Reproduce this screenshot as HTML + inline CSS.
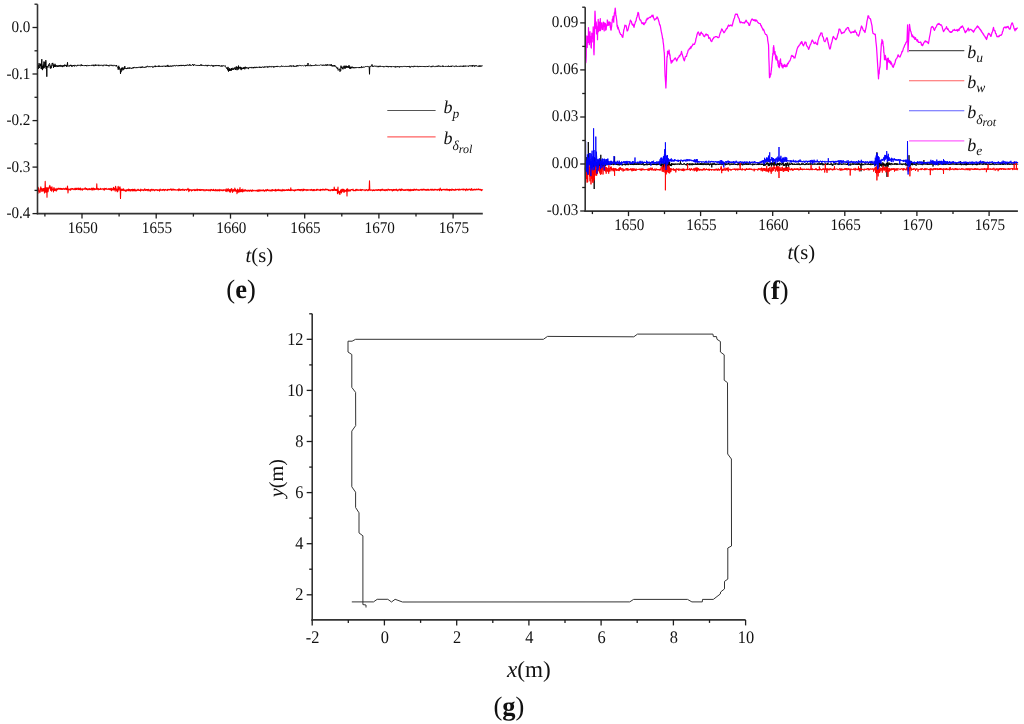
<!DOCTYPE html>
<html><head><meta charset="utf-8"><style>
html,body{margin:0;padding:0;background:#fff;width:1024px;height:724px;overflow:hidden;}
svg{display:block;will-change:transform;filter:blur(0.3px);}
text{font-family:"Liberation Serif", serif;fill:#111;text-rendering:geometricPrecision;}
</style></head><body>
<svg width="1024" height="724" viewBox="0 0 1024 724" font-family='"Liberation Serif", serif' fill="#111">
<polyline points="37.5,67.1 37.8,66.8 38,68.9 38.2,65 38.5,68.6 38.8,68 39,63.2 39.2,66.4 39.5,67.8 39.8,66.7 40,65.6 40.2,63.7 40.5,65.9 40.8,63.9 41,67 41.2,68.9 41.5,65.9 41.8,59.2 42,69.2 42.2,65.9 42.5,70.1 42.8,66.1 43,66.5 43.2,64.5 43.5,68.4 43.8,64.5 44,61.5 44.2,67.3 44.5,68.1 44.8,67.7 45,62 45.2,66.9 45.5,66.1 45.8,60.2 46,61.7 46.2,68.9 46.5,66 46.8,76.7 47,68.2 47.2,66.5 47.5,66.2 47.8,67.3 48,67.5 48.2,66.3 48.5,64.7 48.8,66.1 49,65.3 49.2,64.2 49.5,63.3 49.8,64.3 50,66.3 50.2,68.3 50.5,68.5 50.8,65.7 51,67.9 51.2,68.2 51.5,66.9 51.8,64.5 52,63.5 52.2,64 52.5,64.1 52.8,62.9 53,65.7 53.2,64.6 53.5,67.8 53.8,64.7 54,65.4 54.2,66.7 54.5,65.3 54.8,67 55,63.8 55.2,65.5 55.5,66.6 55.8,65 56,66.5 56.2,66.6 56.5,65.8 56.8,65.8 57,65.3 57.2,66.8 57.5,66 57.8,66.7 58,65.5 58.2,66.2 58.5,66 58.8,66.5 59,65.3 59.2,66.5 59.5,65.5 59.8,65 60,65.7 60.2,65.1 60.5,65.1 60.8,66.8 61,66.2 61.2,66.2 61.5,66.4 61.8,65.1 62,65.6 62.2,65.7 62.5,67.1 62.8,65.9 63,66 63.2,65.2 63.5,65.6 63.8,66.6 64,65.3 64.2,66.1 64.5,66.1 64.8,64.6 65,65.9 65.2,65.7 65.5,66.1 65.8,65.1 66,66 66.2,65.1 66.5,65.2 66.8,67 67,65 67.2,65 67.5,62.3 67.8,66.1 68,66.1 68.2,66.2 68.5,65.9 68.8,66.3 69,65.8 69.2,65.5 69.5,66.3 69.8,65.3 70,65.2 70.2,65.2 70.5,65.9 70.8,64.8 71,65.9 71.2,66.1 71.5,65.3 71.8,66.6 72,65.7 72.2,66.4 72.5,65.7 72.8,65.6 73,65.3 73.2,66.1 73.5,65 73.8,65.9 74,65.1 74.2,65.8 74.5,66.4 74.8,65.8 75,64.9 75.2,65.1 75.5,65.6 75.8,65.8 76,65.6 76.2,65.9 76.5,66.3 76.8,66 77,65.2 77.2,65.7 77.5,65.6 77.8,64.8 78,65.4 78.2,65 78.5,65.3 78.8,65.2 79,65.7 79.2,65.3 79.5,65.2 79.8,65.2 80,65.7 80.2,65.6 80.5,65.9 80.8,65.9 81,65.1 81.2,64.3 81.5,65.6 81.8,65.6 82,65.8 82.2,65 82.5,66 82.8,65.2 83,65.3 83.2,65.5 83.5,65.6 83.8,65.6 84,65.6 84.2,65.7 84.5,65.1 84.8,65.6 85,65.5 85.2,65.8 85.5,65.2 85.8,66 86,65 86.2,65.5 86.5,65.6 86.8,66.2 87,66.2 87.2,65.3 87.5,65.3 87.8,65.1 88,65.5 88.2,65.6 88.5,65.5 88.8,65.9 89,66 89.2,65.2 89.5,65.6 89.8,65.6 90,65.7 90.2,65.6 90.5,65.6 90.8,65.9 91,65.5 91.2,65.4 91.5,65.6 91.8,64.9 92,65.5 92.2,65.4 92.5,65.4 92.8,65.7 93,65.3 93.2,64.7 93.5,65.8 93.8,65.3 94,66.2 94.2,65.2 94.5,65.1 94.8,64.8 95,65.7 95.2,65.5 95.5,65.9 95.8,64.5 96,65.5 96.2,65.5 96.5,65.4 96.8,65.3 97,65.3 97.2,65.5 97.5,65.1 97.8,65.2 98,65.3 98.2,64.8 98.5,65.8 98.8,66.1 99,64.8 99.2,65.1 99.5,65.3 99.8,65.5 100,65.1 100.2,65.3 100.5,65.4 100.8,64.9 101,65.6 101.2,65.4 101.5,65.2 101.8,65.3 102,65.2 102.2,65.1 102.5,65.7 102.8,65.8 103,66.2 103.2,65 103.5,65.2 103.8,65.4 104,64.9 104.2,65.2 104.5,65.2 104.8,64.8 105,65.3 105.2,65.3 105.5,65.7 105.8,65.3 106,64.9 106.2,64.7 106.5,65.4 106.8,65.9 107,64.9 107.2,65.5 107.5,65.6 107.8,65.2 108,65.6 108.2,66 108.5,65.7 108.8,65.3 109,66.4 109.2,65.4 109.5,65 109.8,65.1 110,65.3 110.2,64.9 110.5,65.3 110.8,65.5 111,65.1 111.2,64.8 111.5,65.6 111.8,65.7 112,65.8 112.2,65.1 112.5,65.2 112.8,65.9 113,66.2 113.2,65.5 113.5,65.3 113.8,65.3 114,65.8 114.2,65.7 114.5,65.4 114.8,65.4 115,65.5 115.2,66.2 115.5,66 115.8,65.6 116,65.5 116.2,66.1 116.5,65 116.8,65.9 117,66.8 117.2,67 117.5,67 117.8,67.8 118,68.3 118.2,69.7 118.5,66.8 118.8,65.8 119,69.1 119.2,67.2 119.5,68 119.8,68.5 120,69.7 120.2,68.9 120.5,73.8 120.8,70.7 121,72.1 121.2,68.3 121.5,68.1 121.8,70.6 122,68.9 122.2,67.5 122.5,68.7 122.8,67.8 123,70.2 123.2,68.8 123.5,68.7 123.8,69.5 124,67.5 124.2,68.3 124.5,68.8 124.8,66.1 125,68.5 125.2,68.5 125.5,68.4 125.8,68.2 126,68.6 126.2,68 126.5,68.9 126.8,68.8 127,68.1 127.2,68 127.5,68.8 127.8,68.4 128,67.5 128.2,68.4 128.5,68 128.8,68.5 129,68.2 129.2,67.5 129.5,67.6 129.8,68.8 130,68.4 130.2,67.8 130.5,67.8 130.8,68.1 131,68 131.2,68.1 131.5,68.6 131.8,67.9 132,68.4 132.2,68.2 132.5,68.2 132.8,67.7 133,67.3 133.2,68.3 133.5,67.5 133.8,67 134,68.1 134.2,67.4 134.5,67.3 134.8,67.4 135,67.6 135.2,67.7 135.5,67.9 135.8,67.4 136,67.8 136.2,68 136.5,68 136.8,67.3 137,68 137.2,67.3 137.5,67.6 137.8,67.5 138,67.4 138.2,67.3 138.5,67.2 138.8,67.8 139,67.6 139.2,67 139.5,67.2 139.8,67.1 140,67.2 140.2,67.6 140.5,67.8 140.8,66.8 141,67.7 141.2,66.9 141.5,67.7 141.8,67.4 142,67.6 142.2,66.5 142.5,67.2 142.8,67.4 143,67.4 143.2,66.8 143.5,67.3 143.8,67.6 144,67 144.2,67.1 144.5,67.6 144.8,67.1 145,67.1 145.2,67 145.5,66.9 145.8,67.6 146,67.1 146.2,66.5 146.5,66.7 146.8,67.1 147,67 147.2,65.9 147.5,66.1 147.8,66.3 148,66.6 148.2,67 148.5,66.9 148.8,66.8 149,67 149.2,66.5 149.5,67.1 149.8,66.4 150,66.6 150.2,66.8 150.5,66.8 150.8,66.7 151,66.7 151.2,66.5 151.5,67 151.8,66.5 152,66.4 152.2,66.3 152.5,67.3 152.8,67.2 153,66.9 153.2,67.4 153.5,66.8 153.8,66.6 154,66.7 154.2,66.1 154.5,66.3 154.8,66.8 155,67.1 155.2,65.6 155.5,66.9 155.8,66.3 156,66 156.2,66.8 156.5,66.4 156.8,66.5 157,66.7 157.2,66.4 157.5,66.3 157.8,66.4 158,66.1 158.2,66.7 158.5,65.8 158.8,66.6 159,65.7 159.2,66.7 159.5,66.4 159.8,65.9 160,65.9 160.2,66.8 160.5,66.5 160.8,66.4 161,66.3 161.2,66.3 161.5,66.5 161.8,66 162,65.8 162.2,66.6 162.5,66 162.8,66.7 163,66.2 163.2,66.2 163.5,66 163.8,66.2 164,66.2 164.2,66.3 164.5,66.3 164.8,65.8 165,65.7 165.2,65.9 165.5,67 165.8,66.1 166,65.8 166.2,66.2 166.5,66.5 166.8,66 167,66 167.2,65.4 167.5,66.4 167.8,64.9 168,65.9 168.2,66.8 168.5,65.8 168.8,66.4 169,66.4 169.2,66.7 169.5,66.1 169.8,66.5 170,65.7 170.2,66.2 170.5,65.9 170.8,66.3 171,66.6 171.2,65.7 171.5,66.3 171.8,66.2 172,66.4 172.2,66 172.5,65.8 172.8,66.2 173,65.3 173.2,65.5 173.5,66.2 173.8,65.9 174,65.9 174.2,65.5 174.5,65.4 174.8,65.2 175,65.9 175.2,66.3 175.5,66.1 175.8,65.7 176,65.2 176.2,65.1 176.5,65.6 176.8,65.4 177,65.8 177.2,65.9 177.5,65.8 177.8,65.6 178,65.1 178.2,65.2 178.5,65.7 178.8,66.2 179,65.7 179.2,65.1 179.5,66 179.8,65 180,66 180.2,65.5 180.5,65.3 180.8,65.3 181,65.1 181.2,66.1 181.5,65.6 181.8,64.9 182,65.8 182.2,65.1 182.5,65.6 182.8,65.3 183,65.9 183.2,65.2 183.5,65 183.8,65.8 184,65.4 184.2,65.7 184.5,65.9 184.8,65.7 185,65.1 185.2,65.9 185.5,65 185.8,65.2 186,65.7 186.2,65.9 186.5,65.3 186.8,65.6 187,64.8 187.2,65.1 187.5,64.7 187.8,65.2 188,65.5 188.2,65.2 188.5,65.5 188.8,65.3 189,64.7 189.2,64.6 189.5,65.4 189.8,64.4 190,65.2 190.2,65.1 190.5,65.5 190.8,65 191,65.1 191.2,65.4 191.5,65.5 191.8,65.2 192,64.9 192.2,65 192.5,64.3 192.8,65 193,64.4 193.2,65 193.5,65.9 193.8,64.9 194,65.2 194.2,64.9 194.5,64.4 194.8,64.9 195,65.3 195.2,65.4 195.5,65.1 195.8,65.1 196,65.3 196.2,65.3 196.5,65.3 196.8,65.7 197,65.2 197.2,65.2 197.5,65.5 197.8,65.6 198,65.6 198.2,65.1 198.5,65.5 198.8,65.5 199,65.7 199.2,65.1 199.5,65.8 199.8,65.1 200,65.4 200.2,65 200.5,65 200.8,65.3 201,64.3 201.2,65.6 201.5,64.9 201.8,65.4 202,65.2 202.2,64.9 202.5,65.4 202.8,65.2 203,65.7 203.2,65.2 203.5,65.4 203.8,65.7 204,65.4 204.2,65.2 204.5,65.8 204.8,65.6 205,65.2 205.2,65.1 205.5,65.2 205.8,65.9 206,66 206.2,65.6 206.5,65.9 206.8,65.2 207,65.3 207.2,66.1 207.5,66.2 207.8,65.1 208,65.7 208.2,64.9 208.5,65.3 208.8,65.4 209,65.1 209.2,65.3 209.5,65.4 209.8,65.1 210,65.7 210.2,65.9 210.5,65.9 210.8,65.9 211,65.5 211.2,65.2 211.5,65.2 211.8,65.3 212,65.9 212.2,65.4 212.5,66.1 212.8,65.7 213,66.6 213.2,65.5 213.5,65.6 213.8,66.4 214,65.6 214.2,65.8 214.5,65.7 214.8,65.3 215,65.7 215.2,66.1 215.5,65.4 215.8,66 216,65.7 216.2,66.1 216.5,65.4 216.8,65.5 217,65.9 217.2,65.4 217.5,65.8 217.8,65.8 218,65.2 218.2,66 218.5,65.8 218.8,65.9 219,65 219.2,66.1 219.5,66 219.8,65.7 220,65.6 220.2,65.8 220.5,66.3 220.8,66.2 221,66.4 221.2,65.8 221.5,66.3 221.8,65.4 222,66.3 222.2,66.4 222.5,66.3 222.8,66 223,65.4 223.2,65.7 223.5,65.7 223.8,66 224,66.2 224.2,66.3 224.5,65.9 224.8,66 225,66 225.2,65.6 225.5,66.5 225.8,67.2 226,67.4 226.2,67.7 226.5,68.4 226.8,67.6 227,68.3 227.2,69 227.5,68.4 227.8,70.3 228,66.9 228.2,68.3 228.5,71.6 228.8,69.6 229,69.5 229.2,68.6 229.5,70.9 229.8,68.3 230,69.2 230.2,70.4 230.5,69.3 230.8,70.6 231,69.5 231.2,70.7 231.5,68.1 231.8,69.8 232,69.3 232.2,70 232.5,68.4 232.8,67.8 233,68.6 233.2,68.6 233.5,69.7 233.8,68.5 234,68.5 234.2,69.3 234.5,67.7 234.8,67.6 235,68.2 235.2,67.8 235.5,69.9 235.8,68.7 236,66.8 236.2,67.5 236.5,66.6 236.8,69.6 237,70.2 237.2,68.1 237.5,66.9 237.8,67.9 238,69.7 238.2,68.7 238.5,65.6 238.8,69.1 239,67 239.2,67.3 239.5,67.3 239.8,68.3 240,67.5 240.2,66.8 240.5,68.7 240.8,67 241,69.8 241.2,70.1 241.5,67.7 241.8,69.1 242,68.4 242.2,68.3 242.5,69.1 242.8,68.3 243,68.8 243.2,67.4 243.5,69 243.8,68.6 244,67 244.2,67.4 244.5,67.3 244.8,69.3 245,68.8 245.2,66.8 245.5,66.9 245.8,68.2 246,68.2 246.2,68 246.5,67.3 246.8,68.3 247,68.4 247.2,67.8 247.5,68 247.8,67.9 248,67.9 248.2,67.4 248.5,69.1 248.8,68.1 249,67.8 249.2,67.6 249.5,67.3 249.8,67.9 250,67.5 250.2,67.3 250.5,67.4 250.8,67.1 251,68 251.2,68.2 251.5,67.2 251.8,67.4 252,67.4 252.2,67.6 252.5,67.3 252.8,67.9 253,68.3 253.2,67.2 253.5,67.9 253.8,67 254,68.1 254.2,67.2 254.5,67.2 254.8,67.4 255,67.4 255.2,66.9 255.5,68.1 255.8,67.8 256,67.2 256.2,67.3 256.5,67.5 256.8,66.8 257,67.7 257.2,67.4 257.5,67.6 257.8,67.2 258,67.4 258.2,67 258.5,67.2 258.8,67.1 259,67 259.2,67.6 259.5,67.5 259.8,66.6 260,67.7 260.2,67.1 260.5,67.5 260.8,67 261,66.9 261.2,67 261.5,67.7 261.8,67 262,67 262.2,67.2 262.5,66.7 262.8,67.1 263,67.3 263.2,66.8 263.5,67.5 263.8,67.2 264,67.1 264.2,66.8 264.5,66.7 264.8,67.6 265,66.6 265.2,66.9 265.5,66.9 265.8,66.8 266,67 266.2,67 266.5,67.1 266.8,66.4 267,66.5 267.2,66.6 267.5,66.5 267.8,67.7 268,66.8 268.2,66.7 268.5,66.8 268.8,67.1 269,66.4 269.2,66.3 269.5,67.1 269.8,66.5 270,66.6 270.2,66.6 270.5,66.5 270.8,66.4 271,66.6 271.2,67.3 271.5,66.5 271.8,66.5 272,66.7 272.2,66.6 272.5,66.4 272.8,66.1 273,66.5 273.2,67.2 273.5,66.6 273.8,67.4 274,66.7 274.2,67.2 274.5,66.5 274.8,66.9 275,66.7 275.2,66.5 275.5,66.5 275.8,66.9 276,66.9 276.2,66.1 276.5,67 276.8,66.4 277,66.6 277.2,65.9 277.5,66.7 277.8,66.6 278,66.2 278.2,66.7 278.5,66.4 278.8,66.7 279,66.9 279.2,66.8 279.5,66.8 279.8,66.7 280,66.3 280.2,66.4 280.5,66.7 280.8,66.6 281,66.8 281.2,66.4 281.5,65.7 281.8,66.3 282,65.9 282.2,66.3 282.5,66.7 282.8,66.1 283,66.3 283.2,66.3 283.5,66.2 283.8,66.5 284,66.7 284.2,66.5 284.5,66.6 284.8,66.9 285,66.3 285.2,66.1 285.5,66.2 285.8,66.3 286,66.7 286.2,66.1 286.5,66.2 286.8,66.6 287,66.3 287.2,66.5 287.5,66.1 287.8,66.3 288,66.6 288.2,66 288.5,66 288.8,66.4 289,66.2 289.2,66.5 289.5,66 289.8,66 290,65.5 290.2,66.4 290.5,65.8 290.8,65.8 291,65.7 291.2,66.4 291.5,66.7 291.8,65.7 292,65.4 292.2,65.7 292.5,66.1 292.8,66.5 293,66.2 293.2,66.1 293.5,65.5 293.8,66.7 294,66.1 294.2,66 294.5,66.1 294.8,66.8 295,66.3 295.2,66.5 295.5,66.5 295.8,66.4 296,65.7 296.2,65.8 296.5,66.4 296.8,65.8 297,66.3 297.2,65.1 297.5,65.9 297.8,66.2 298,65.7 298.2,65.8 298.5,66 298.8,65.4 299,65.7 299.2,65.7 299.5,65.4 299.8,65.3 300,65.4 300.2,65.5 300.5,65.6 300.8,66 301,65.4 301.2,65.7 301.5,66 301.8,65.9 302,65.9 302.2,65.8 302.5,65.5 302.8,65.6 303,65.7 303.2,65.8 303.5,65.8 303.8,65.7 304,65.5 304.2,65.4 304.5,65.2 304.8,65.5 305,66.1 305.2,66 305.5,66.1 305.8,66.2 306,65 306.2,65.9 306.5,65.1 306.8,65.1 307,65.8 307.2,66.1 307.5,65.2 307.8,65.5 308,63 308.2,65.5 308.5,65.7 308.8,65.3 309,65.5 309.2,66.1 309.5,65.7 309.8,65.5 310,65.2 310.2,64.7 310.5,64.9 310.8,65.7 311,66.2 311.2,65.5 311.5,66 311.8,65.1 312,65.5 312.2,65 312.5,65.4 312.8,65.7 313,65.6 313.2,65.4 313.5,65.6 313.8,65.1 314,65.6 314.2,65.2 314.5,65.3 314.8,65.9 315,65.7 315.2,65.5 315.5,64.6 315.8,65.1 316,65.3 316.2,65.5 316.5,64.9 316.8,64.9 317,65.4 317.2,65.7 317.5,65.2 317.8,65 318,65.3 318.2,65.2 318.5,65.3 318.8,65.6 319,65.4 319.2,65.4 319.5,65.3 319.8,65.5 320,65.3 320.2,65.1 320.5,64.8 320.8,64.6 321,64.9 321.2,65 321.5,65.1 321.8,64.9 322,65.3 322.2,65.1 322.5,65.6 322.8,64.9 323,65.2 323.2,64.7 323.5,65.4 323.8,65.4 324,65.2 324.2,65.6 324.5,65.4 324.8,64.9 325,65.3 325.2,64.6 325.5,64.7 325.8,65.5 326,64.9 326.2,65.1 326.5,65.6 326.8,65.1 327,64.3 327.2,65.6 327.5,64.6 327.8,64.6 328,64.9 328.2,64.9 328.5,65.3 328.8,64.9 329,64.6 329.2,65.4 329.5,65.1 329.8,64.8 330,65.3 330.2,64.9 330.5,65.3 330.8,64.8 331,65.8 331.2,64.2 331.5,65.5 331.8,65.3 332,66.3 332.2,65.6 332.5,65.6 332.8,66.2 333,65.5 333.2,66.4 333.5,65.7 333.8,65.4 334,65.8 334.2,65.2 334.5,66.3 334.8,65.2 335,66.3 335.2,66.6 335.5,66.4 335.8,66.6 336,66.4 336.2,67.5 336.5,67.5 336.8,68.1 337,67.6 337.2,68.7 337.5,68.9 337.8,67.7 338,69.3 338.2,70.4 338.5,70 338.8,69.4 339,69.3 339.2,69.5 339.5,69.5 339.8,68.7 340,71.7 340.2,69.6 340.5,69.9 340.8,70.5 341,65.7 341.2,67.8 341.5,66.9 341.8,68 342,67.1 342.2,68.5 342.5,68.9 342.8,68 343,69.3 343.2,66.5 343.5,67.4 343.8,67.2 344,67.6 344.2,65.7 344.5,67.9 344.8,67.5 345,68.9 345.2,66.3 345.5,67.4 345.8,67.6 346,65.6 346.2,67.7 346.5,66.1 346.8,67.4 347,67.4 347.2,66.5 347.5,67.5 347.8,66.2 348,66.9 348.2,66.4 348.5,67.9 348.8,67.2 349,65.2 349.2,67.8 349.5,68.3 349.8,66.5 350,68.7 350.2,66.9 350.5,68.5 350.8,67.6 351,68.2 351.2,67.6 351.5,67.9 351.8,66.7 352,68.2 352.2,67.8 352.5,66.8 352.8,67.3 353,67.5 353.2,68.3 353.5,68 353.8,67 354,67.3 354.2,68 354.5,67.9 354.8,67.9 355,68.2 355.2,67.2 355.5,68 355.8,67.7 356,67.9 356.2,68 356.5,67.4 356.8,67.7 357,67.4 357.2,67.6 357.5,68 357.8,67.5 358,67.5 358.2,67.8 358.5,67.7 358.8,67.6 359,68 359.2,67.2 359.5,68 359.8,67.1 360,68.1 360.2,67.9 360.5,67.4 360.8,67.5 361,67.8 361.2,67.9 361.5,66.4 361.8,67 362,67.5 362.2,67.7 362.5,66.9 362.8,67.4 363,66.9 363.2,66.9 363.5,66.9 363.8,67.3 364,67.4 364.2,67 364.5,67 364.8,67.1 365,66.8 365.2,66.5 365.5,66.6 365.8,66.5 366,66.2 366.2,66.5 366.5,66.9 366.8,66.4 367,66.6 367.2,66.4 367.5,66.6 367.8,66.1 368,66 368.2,66.3 368.5,66.7 368.8,66.8 369,66.7 369.2,67 369.5,74.3 369.8,66.3 370,66.3 370.2,66.4 370.5,66.5 370.8,66 371,66.2 371.2,65.9 371.5,65.9 371.8,66 372,64.4 372.2,66.4 372.5,65.9 372.8,66.1 373,67 373.2,66.3 373.5,66.3 373.8,65.9 374,66.2 374.2,66 374.5,65.9 374.8,66.1 375,65.9 375.2,66.5 375.5,66.2 375.8,66.2 376,66.1 376.2,65.8 376.5,66.5 376.8,66.7 377,66.6 377.2,66.7 377.5,66.4 377.8,66 378,65.9 378.2,67.2 378.5,66.2 378.8,66.1 379,66.5 379.2,66.9 379.5,66.7 379.8,66 380,65.7 380.2,66.9 380.5,66.6 380.8,66.2 381,66.6 381.2,66.5 381.5,66.5 381.8,66.1 382,66.3 382.2,66.4 382.5,66.4 382.8,66.8 383,66.2 383.2,66.7 383.5,66.7 383.8,67.2 384,66.3 384.2,66.6 384.5,66.6 384.8,66.5 385,66.4 385.2,66.6 385.5,66.3 385.8,66.1 386,66.7 386.2,66.5 386.5,66.2 386.8,66.9 387,65.9 387.2,66.1 387.5,66.8 387.8,67.1 388,66.4 388.2,67.1 388.5,66.9 388.8,66.9 389,66.1 389.2,66.6 389.5,66.4 389.8,66.9 390,66.7 390.2,66.8 390.5,66.2 390.8,66.8 391,66.8 391.2,66.1 391.5,67 391.8,67 392,67.2 392.2,66.8 392.5,66.4 392.8,66.5 393,66.5 393.2,66.5 393.5,66.6 393.8,66.7 394,66.2 394.2,67 394.5,67 394.8,66.8 395,66.6 395.2,66.4 395.5,67.4 395.8,66.4 396,66.5 396.2,66.9 396.5,66.9 396.8,66.7 397,67.1 397.2,66.5 397.5,66 397.8,66.9 398,66.9 398.2,66.7 398.5,66.8 398.8,66.5 399,67.1 399.2,66.5 399.5,67.4 399.8,67 400,66.6 400.2,66.2 400.5,66.5 400.8,66.9 401,66.8 401.2,66.5 401.5,66.9 401.8,66.9 402,66.2 402.2,66.7 402.5,67 402.8,66.8 403,67 403.2,66.6 403.5,66.4 403.8,66.3 404,66.7 404.2,66.2 404.5,66.2 404.8,66.6 405,66.8 405.2,66.4 405.5,66.4 405.8,66.4 406,67 406.2,66.6 406.5,66.7 406.8,66.9 407,66.2 407.2,66.5 407.5,66.5 407.8,67 408,66.3 408.2,66.8 408.5,66.3 408.8,66.7 409,66.2 409.2,66.1 409.5,67.3 409.8,66.5 410,66.8 410.2,66.7 410.5,67.4 410.8,66.7 411,66.7 411.2,66.7 411.5,66.1 411.8,66.3 412,66.2 412.2,66.9 412.5,66.6 412.8,66.4 413,66 413.2,67.1 413.5,66.8 413.8,66.6 414,66.3 414.2,65.8 414.5,66.5 414.8,66 415,66.5 415.2,66.7 415.5,66.1 415.8,66.1 416,66.6 416.2,66.4 416.5,66.3 416.8,66.6 417,66.9 417.2,66.6 417.5,65.9 417.8,66.6 418,67.1 418.2,66.5 418.5,66.6 418.8,66.5 419,66.4 419.2,66.8 419.5,66.2 419.8,66.3 420,66.9 420.2,66.1 420.5,66.4 420.8,66.9 421,66.6 421.2,66.9 421.5,66.4 421.8,66.5 422,66.5 422.2,66.8 422.5,66.4 422.8,66.4 423,66.9 423.2,66.5 423.5,66.2 423.8,66.7 424,66 424.2,66.6 424.5,66.6 424.8,66.6 425,66.9 425.2,66.2 425.5,66.6 425.8,66.7 426,66.6 426.2,66.2 426.5,66.4 426.8,66.5 427,66.4 427.2,66.9 427.5,66.1 427.8,66.9 428,66.3 428.2,66.6 428.5,66.6 428.8,66.3 429,66.3 429.2,65.8 429.5,66.2 429.8,66.1 430,66.3 430.2,66.5 430.5,66.7 430.8,67.1 431,66.4 431.2,66.5 431.5,66.4 431.8,67.1 432,66.4 432.2,65.8 432.5,66.1 432.8,66.5 433,66.8 433.2,66 433.5,65.9 433.8,66.2 434,66.2 434.2,66.6 434.5,66.8 434.8,66.4 435,66.7 435.2,66.7 435.5,66.6 435.8,66.1 436,66.3 436.2,65.9 436.5,66.3 436.8,66.9 437,66.7 437.2,65.9 437.5,66.3 437.8,66.8 438,66.6 438.2,65.5 438.5,66 438.8,66.1 439,66.5 439.2,66.5 439.5,65.8 439.8,66.2 440,66.2 440.2,65.9 440.5,66.6 440.8,66.4 441,66.3 441.2,66.5 441.5,66.2 441.8,66 442,66.5 442.2,66.5 442.5,65.7 442.8,66.2 443,66.8 443.2,65.8 443.5,66.6 443.8,66.2 444,66.3 444.2,66.5 444.5,66.5 444.8,66.6 445,66.3 445.2,66.4 445.5,66.2 445.8,66.8 446,66.5 446.2,66 446.5,66.3 446.8,66.5 447,66.3 447.2,66.4 447.5,66.3 447.8,66.8 448,66.2 448.2,66.6 448.5,65.7 448.8,66.3 449,66.3 449.2,66.1 449.5,66.8 449.8,66.3 450,66.2 450.2,66.9 450.5,66.1 450.8,66.1 451,66.2 451.2,66.2 451.5,67 451.8,65.8 452,66.1 452.2,66.1 452.5,65.9 452.8,66.1 453,66.3 453.2,66.2 453.5,66.2 453.8,66 454,66.4 454.2,66.5 454.5,66.7 454.8,66.1 455,66.2 455.2,66.1 455.5,66.1 455.8,65.8 456,66.7 456.2,66.2 456.5,66 456.8,65.9 457,66.5 457.2,66.5 457.5,66.4 457.8,66.1 458,66.5 458.2,66.1 458.5,66.1 458.8,66.4 459,66.6 459.2,66.3 459.5,66.8 459.8,66.3 460,65.8 460.2,66.2 460.5,66.2 460.8,66.4 461,66.7 461.2,66 461.5,65.9 461.8,66.3 462,65.9 462.2,66 462.5,66.6 462.8,66.2 463,65.8 463.2,65.7 463.5,66.7 463.8,65.8 464,66.3 464.2,65.8 464.5,66.1 464.8,66.3 465,66.2 465.2,66.6 465.5,65.7 465.8,66.2 466,66.3 466.2,65.9 466.5,65.9 466.8,66.3 467,66.2 467.2,66.1 467.5,65.9 467.8,66.2 468,66.2 468.2,66.1 468.5,66.6 468.8,66 469,66.1 469.2,65.5 469.5,65.9 469.8,65.8 470,65.6 470.2,66.3 470.5,66.1 470.8,65.7 471,65.9 471.2,65.5 471.5,66 471.8,66.1 472,66.5 472.2,65.5 472.5,66.4 472.8,65.1 473,66 473.2,66 473.5,65.9 473.8,65.5 474,65.7 474.2,66.4 474.5,66.6 474.8,65.4 475,65.7 475.2,66.2 475.5,65.8 475.8,66.2 476,65.3 476.2,65.9 476.5,65.7 476.8,66.1 477,66 477.2,66.2 477.5,65.9 477.8,66.4 478,66.2 478.2,66.1 478.5,66.2 478.8,65.9 479,66.8 479.2,65.5 479.5,66.4 479.8,65.9 480,65.6 480.2,65.9 480.5,65.8 480.8,66.8 481,66.3 481.2,65.7 481.5,66.1 481.8,66.1 482,66 482.2,65.7 482.5,66 482.8,65.9" fill="none" stroke="#000" stroke-width="0.95" stroke-linejoin="round" opacity="1"/>
<polyline points="37.5,189.6 37.8,189.3 38,193.3 38.2,187.2 38.5,191 38.8,188.5 39,190.6 39.2,191.5 39.5,190.9 39.8,192.6 40,190.5 40.2,191.9 40.5,188.3 40.8,186.9 41,187.6 41.2,189.7 41.5,188.5 41.8,191.5 42,190 42.2,188.7 42.5,189.7 42.8,188.8 43,191.3 43.2,188.6 43.5,189.4 43.8,188.5 44,190.6 44.2,188.4 44.5,193 44.8,192.1 45,189.1 45.2,181.4 45.5,189.7 45.8,189 46,192.1 46.2,187.9 46.5,189.4 46.8,187.7 47,197.3 47.2,188.2 47.5,187.8 47.8,191.8 48,191.8 48.2,190.9 48.5,188.1 48.8,188.3 49,187 49.2,188.2 49.5,186.8 49.8,185.4 50,186.8 50.2,187.4 50.5,190.2 50.8,187.1 51,190.5 51.2,189.8 51.5,191.2 51.8,189.8 52,186.7 52.2,189.3 52.5,189.4 52.8,189.9 53,189 53.2,189.9 53.5,192 53.8,188.3 54,187.5 54.2,189.6 54.5,190.5 54.8,190.1 55,188.8 55.2,190.4 55.5,189 55.8,189.6 56,189.3 56.2,191.1 56.5,190.1 56.8,189.4 57,188.2 57.2,189.6 57.5,189.4 57.8,189.7 58,189.5 58.2,189 58.5,188.2 58.8,188.5 59,188.2 59.2,188.9 59.5,189.1 59.8,188.5 60,189.5 60.2,188.9 60.5,188.9 60.8,188.2 61,188.5 61.2,189.4 61.5,188.6 61.8,189.1 62,188.8 62.2,189.5 62.5,188.8 62.8,189.2 63,189.1 63.2,188.3 63.5,188.8 63.8,189.1 64,189.1 64.2,189.4 64.5,189.3 64.8,188.5 65,188.8 65.2,188.7 65.5,189.1 65.8,188 66,189.5 66.2,189 66.5,188.5 66.8,189.6 67,189.5 67.2,188.6 67.5,186 67.8,189.7 68,193 68.2,190.6 68.5,189 68.8,189.3 69,189.4 69.2,189.5 69.5,189.4 69.8,189.4 70,190.1 70.2,188.7 70.5,190.1 70.8,189.8 71,188.7 71.2,189.4 71.5,189.2 71.8,188.6 72,188.4 72.2,188.5 72.5,189.2 72.8,188.5 73,188.9 73.2,189.3 73.5,189.1 73.8,189.4 74,189.8 74.2,189.1 74.5,189.4 74.8,188.4 75,189.3 75.2,188.4 75.5,189.7 75.8,189.5 76,188.2 76.2,189.1 76.5,189.5 76.8,188.7 77,188.1 77.2,188.8 77.5,189 77.8,188.9 78,189.6 78.2,188.4 78.5,188.1 78.8,189.4 79,189.2 79.2,189.6 79.5,188.9 79.8,188.2 80,189.6 80.2,189.7 80.5,188.1 80.8,189.9 81,189.2 81.2,189.2 81.5,189.3 81.8,188.9 82,188.8 82.2,190.2 82.5,190.1 82.8,188.7 83,189 83.2,189.5 83.5,189.1 83.8,188.8 84,188.8 84.2,189.1 84.5,189.2 84.8,188.4 85,188.6 85.2,187.7 85.5,188.5 85.8,189.2 86,189.6 86.2,188.8 86.5,188.5 86.8,189.3 87,188.7 87.2,189.5 87.5,189.6 87.8,189.9 88,188.9 88.2,188.8 88.5,189 88.8,189.1 89,189.7 89.2,188.8 89.5,189.4 89.8,188.6 90,189.3 90.2,189.6 90.5,189.2 90.8,189.1 91,189.4 91.2,188.6 91.5,189.2 91.8,188.1 92,190.1 92.2,189.3 92.5,189.8 92.8,188.8 93,188.1 93.2,189 93.5,188.2 93.8,189.8 94,189.9 94.2,189.7 94.5,188.7 94.8,188.5 95,189 95.2,189.4 95.5,189.1 95.8,188.9 96,189.4 96.2,188.8 96.5,189.2 96.8,183.9 97,189.2 97.2,189.3 97.5,189.2 97.8,188.8 98,188.4 98.2,189.9 98.5,188.8 98.8,189 99,189 99.2,189.4 99.5,189.1 99.8,189.1 100,189.5 100.2,189.3 100.5,188.3 100.8,189 101,189.2 101.2,189.4 101.5,189.1 101.8,188.9 102,188.7 102.2,188.8 102.5,188.7 102.8,188.7 103,189.6 103.2,188.9 103.5,189.6 103.8,188.8 104,189.7 104.2,189.2 104.5,190.1 104.8,188.2 105,189.2 105.2,188.9 105.5,188.6 105.8,188.8 106,189.1 106.2,188.3 106.5,189 106.8,189 107,189.4 107.2,189.2 107.5,189.3 107.8,189 108,188.8 108.2,188.8 108.5,189 108.8,189.3 109,188.5 109.2,189.4 109.5,188.7 109.8,189.6 110,189 110.2,189.6 110.5,189.1 110.8,188.4 111,190.2 111.2,188.8 111.5,190.8 111.8,188.2 112,189 112.2,189.6 112.5,189.8 112.8,189.5 113,190 113.2,188.4 113.5,187.4 113.8,187.6 114,189.9 114.2,189.8 114.5,188.5 114.8,188.9 115,189.2 115.2,191.1 115.5,186.2 115.8,187.1 116,188.6 116.2,189.1 116.5,190.5 116.8,189.1 117,189.2 117.2,191.6 117.5,189.2 117.8,191.6 118,186.8 118.2,186.4 118.5,189.3 118.8,189.3 119,190.1 119.2,187.7 119.5,188.3 119.8,188 120,186.7 120.2,188.5 120.5,198.4 120.8,189.2 121,189 121.2,189 121.5,189.6 121.8,190.4 122,190.5 122.2,189.8 122.5,189.4 122.8,189.5 123,189.1 123.2,190.7 123.5,188.8 123.8,189.5 124,190.1 124.2,189.7 124.5,190.7 124.8,190.5 125,190.4 125.2,190.6 125.5,191.2 125.8,190.4 126,189.7 126.2,191.1 126.5,190.6 126.8,189.8 127,190.2 127.2,189.6 127.5,189.7 127.8,190.6 128,190.1 128.2,190.7 128.5,189.1 128.8,190.4 129,189.3 129.2,191 129.5,189.6 129.8,189.6 130,190 130.2,190.3 130.5,189.8 130.8,191.1 131,189.5 131.2,189.5 131.5,189.8 131.8,189.5 132,189.6 132.2,190.7 132.5,189.2 132.8,190.9 133,189.4 133.2,190.8 133.5,189.5 133.8,190.4 134,189.7 134.2,190.9 134.5,189.9 134.8,189.1 135,189.6 135.2,190.6 135.5,190.5 135.8,190 136,191.2 136.2,190.4 136.5,190.1 136.8,190.4 137,190.5 137.2,189.8 137.5,190.2 137.8,189.3 138,190.2 138.2,189.3 138.5,189.7 138.8,190.4 139,190.1 139.2,190.1 139.5,190.5 139.8,190.1 140,190.1 140.2,190.4 140.5,191.1 140.8,189.1 141,190 141.2,189.6 141.5,189.7 141.8,190.4 142,190.3 142.2,189.9 142.5,190.2 142.8,189.9 143,189.5 143.2,190.4 143.5,190.2 143.8,190.7 144,190.1 144.2,189.9 144.5,189.3 144.8,188.8 145,189.7 145.2,190.3 145.5,190.5 145.8,189.7 146,189.7 146.2,189.5 146.5,190.3 146.8,189.5 147,190.2 147.2,190 147.5,189.5 147.8,190.3 148,190.9 148.2,189.3 148.5,189.5 148.8,189.6 149,190.3 149.2,190 149.5,190.1 149.8,190.5 150,190.3 150.2,191.5 150.5,190.1 150.8,189.5 151,190 151.2,190 151.5,189.2 151.8,189.9 152,190.6 152.2,189.4 152.5,189.6 152.8,189.9 153,189.8 153.2,189.9 153.5,190.2 153.8,189.4 154,189.8 154.2,189.9 154.5,190.8 154.8,189.9 155,189.8 155.2,190.2 155.5,190 155.8,189.6 156,189.7 156.2,190 156.5,189.9 156.8,189.7 157,190.2 157.2,189.7 157.5,190.6 157.8,190 158,190.2 158.2,189.9 158.5,190 158.8,190.4 159,190.2 159.2,189.8 159.5,191.2 159.8,190 160,189.2 160.2,189.1 160.5,190 160.8,190.2 161,190.1 161.2,190.3 161.5,190.3 161.8,189.8 162,189.5 162.2,190.3 162.5,190.1 162.8,190.3 163,189.6 163.2,189.3 163.5,189.4 163.8,189.6 164,189.9 164.2,190.7 164.5,189.9 164.8,189.5 165,190.1 165.2,190 165.5,189.4 165.8,189.6 166,190 166.2,190.1 166.5,190 166.8,189.9 167,190 167.2,190.6 167.5,189.3 167.8,190.2 168,190 168.2,189.8 168.5,189.4 168.8,189.8 169,189.7 169.2,189.6 169.5,189.7 169.8,190 170,189.9 170.2,189.2 170.5,189 170.8,189.2 171,189.4 171.2,189.8 171.5,189.5 171.8,190.5 172,188.9 172.2,189.7 172.5,189.8 172.8,190 173,189.8 173.2,189.5 173.5,189.2 173.8,190 174,190 174.2,189.4 174.5,189.5 174.8,189.9 175,189.5 175.2,189.6 175.5,189.8 175.8,190.1 176,190.2 176.2,190.2 176.5,189.9 176.8,189.8 177,189.7 177.2,189.9 177.5,189.6 177.8,189.7 178,190.2 178.2,190.3 178.5,189 178.8,190.8 179,189.2 179.2,189 179.5,189.2 179.8,190.2 180,189.4 180.2,190.3 180.5,190 180.8,190.5 181,189.6 181.2,189.6 181.5,189.5 181.8,189.5 182,190.1 182.2,190.2 182.5,189.4 182.8,189.2 183,189.9 183.2,189.2 183.5,190.2 183.8,189.9 184,190 184.2,190.1 184.5,190.5 184.8,189.5 185,189.3 185.2,189.7 185.5,189.8 185.8,189.8 186,189.8 186.2,189.4 186.5,190.3 186.8,190.3 187,190.1 187.2,189.5 187.5,189.5 187.8,189.5 188,188.2 188.2,189.5 188.5,189.5 188.8,191.7 189,190.5 189.2,189.3 189.5,190.6 189.8,189.7 190,189.9 190.2,189.9 190.5,189.7 190.8,190.2 191,189.9 191.2,189.8 191.5,191 191.8,190.1 192,189.7 192.2,190 192.5,190.3 192.8,189.8 193,190.3 193.2,190 193.5,189.8 193.8,189.8 194,190 194.2,189.4 194.5,190.6 194.8,190.3 195,190 195.2,189.7 195.5,190.6 195.8,190.2 196,189.7 196.2,190.1 196.5,190.2 196.8,189.9 197,189 197.2,190.7 197.5,189.7 197.8,189.4 198,190.3 198.2,189.7 198.5,189.9 198.8,189.5 199,189.8 199.2,189.6 199.5,190.4 199.8,190.4 200,189.3 200.2,190 200.5,190.5 200.8,189.7 201,189.9 201.2,189.7 201.5,190.3 201.8,190.1 202,189.7 202.2,189.5 202.5,189.9 202.8,189.8 203,189.7 203.2,190.6 203.5,190.2 203.8,189.7 204,189.5 204.2,189.9 204.5,190.1 204.8,190.5 205,191 205.2,190 205.5,189.8 205.8,190.3 206,190.3 206.2,189.9 206.5,190.3 206.8,189.5 207,189.8 207.2,189.7 207.5,190.4 207.8,190 208,190.2 208.2,189.7 208.5,190.2 208.8,190.8 209,189.9 209.2,190.2 209.5,190.3 209.8,190.3 210,189.8 210.2,191 210.5,190.7 210.8,190.2 211,189.4 211.2,189.9 211.5,189.7 211.8,190.1 212,189.7 212.2,189.7 212.5,190.6 212.8,190 213,189.8 213.2,190.4 213.5,189.2 213.8,190.5 214,190.3 214.2,190.7 214.5,190.5 214.8,190.3 215,189.7 215.2,190.2 215.5,189.4 215.8,191 216,190.1 216.2,190.1 216.5,189.9 216.8,189.8 217,191 217.2,190.2 217.5,189.8 217.8,189.8 218,190.6 218.2,190 218.5,190.2 218.8,189.8 219,190.8 219.2,189.4 219.5,190.3 219.8,191 220,190.1 220.2,190 220.5,189.8 220.8,190.2 221,189.9 221.2,190 221.5,190.6 221.8,189.7 222,190.2 222.2,190.1 222.5,190.8 222.8,190.3 223,189.9 223.2,189.7 223.5,190.7 223.8,190.6 224,190.4 224.2,189.8 224.5,190 224.8,190 225,189.9 225.2,190.2 225.5,191.2 225.8,189.9 226,190.2 226.2,188.9 226.5,191.1 226.8,190.8 227,191.6 227.2,191 227.5,189.3 227.8,190 228,190.4 228.2,188.5 228.5,190.6 228.8,190.8 229,190.3 229.2,191.8 229.5,189.5 229.8,191.9 230,190.9 230.2,189.6 230.5,192.1 230.8,189.5 231,191.2 231.2,189 231.5,188.7 231.8,190.2 232,189 232.2,189.7 232.5,192.5 232.8,190.4 233,190.5 233.2,191.5 233.5,189.6 233.8,190.1 234,190.7 234.2,189.8 234.5,191 234.8,188.1 235,190.1 235.2,189.8 235.5,189.4 235.8,191.5 236,190.6 236.2,190.2 236.5,191 236.8,190.8 237,193.7 237.2,191.2 237.5,189.1 237.8,190.7 238,190.7 238.2,192.5 238.5,190.1 238.8,190.9 239,189.8 239.2,191.4 239.5,191.8 239.8,189.1 240,187.6 240.2,191.7 240.5,190.9 240.8,191.3 241,191.5 241.2,189.7 241.5,189.6 241.8,189.7 242,191.2 242.2,191.9 242.5,190.1 242.8,189.1 243,191.8 243.2,190.3 243.5,191.2 243.8,190.9 244,190.1 244.2,189.9 244.5,190.5 244.8,191.2 245,190 245.2,190.9 245.5,189.7 245.8,190.1 246,190.1 246.2,190.8 246.5,191 246.8,190.9 247,190.5 247.2,190.2 247.5,191.2 247.8,191 248,190.8 248.2,190.8 248.5,190.5 248.8,190.2 249,191.1 249.2,190.3 249.5,190.6 249.8,191.2 250,190.3 250.2,190.1 250.5,190.3 250.8,190.1 251,190.9 251.2,190.3 251.5,190.8 251.8,191.4 252,191.2 252.2,190.4 252.5,189.9 252.8,190.8 253,190.9 253.2,190.6 253.5,190.7 253.8,190.5 254,190.2 254.2,190.6 254.5,190.8 254.8,190.8 255,190.8 255.2,190.7 255.5,190.9 255.8,190.4 256,190.3 256.2,190.6 256.5,190.7 256.8,190.2 257,190.3 257.2,191.4 257.5,190.6 257.8,190.5 258,189.9 258.2,191.1 258.5,190.5 258.8,189.9 259,191.3 259.2,190.7 259.5,190.4 259.8,189.7 260,190.4 260.2,191 260.5,190.6 260.8,190.1 261,190.4 261.2,190.6 261.5,190.1 261.8,190.8 262,190.3 262.2,190.7 262.5,190.1 262.8,190.7 263,190.3 263.2,190.3 263.5,189.8 263.8,190.8 264,190.2 264.2,191.2 264.5,190.4 264.8,191.3 265,190.6 265.2,190.4 265.5,190.1 265.8,189.7 266,190.5 266.2,190.3 266.5,191 266.8,190.5 267,189.6 267.2,190 267.5,189.4 267.8,190.4 268,190.5 268.2,190.2 268.5,190.7 268.8,190.4 269,190.1 269.2,190 269.5,190.1 269.8,190.3 270,191.2 270.2,190.6 270.5,190.6 270.8,190.2 271,190.8 271.2,190.3 271.5,190.6 271.8,189.7 272,191.2 272.2,189.8 272.5,190.1 272.8,189.7 273,190.4 273.2,190.2 273.5,190.5 273.8,190.5 274,189.9 274.2,190.7 274.5,190.4 274.8,190.3 275,189.8 275.2,191 275.5,189.4 275.8,190.6 276,190.9 276.2,189.9 276.5,190.4 276.8,190.6 277,190 277.2,190.2 277.5,190.5 277.8,189.6 278,190.4 278.2,189.4 278.5,189.9 278.8,190.3 279,190.6 279.2,189.7 279.5,189.9 279.8,190.6 280,190.1 280.2,190.5 280.5,190.2 280.8,190.9 281,189.9 281.2,190 281.5,190.1 281.8,190.1 282,191.2 282.2,190.4 282.5,190.4 282.8,189.4 283,190.7 283.2,189.9 283.5,190.3 283.8,189.8 284,190.2 284.2,190.7 284.5,189.8 284.8,190.5 285,190.6 285.2,190.5 285.5,190.1 285.8,190.1 286,190.4 286.2,189.8 286.5,190.2 286.8,189.7 287,190 287.2,190.5 287.5,189.7 287.8,190.4 288,190.5 288.2,190.1 288.5,189.3 288.8,190.3 289,189.8 289.2,190.4 289.5,190.4 289.8,189.9 290,190.1 290.2,190.4 290.5,190.5 290.8,187.7 291,190.6 291.2,190.4 291.5,189.9 291.8,189.8 292,190.1 292.2,189.9 292.5,190.3 292.8,190.2 293,190.1 293.2,190.6 293.5,190.1 293.8,190.4 294,190.2 294.2,190.5 294.5,190.9 294.8,190.9 295,189.7 295.2,189.8 295.5,190.3 295.8,190.5 296,189.8 296.2,190.2 296.5,190.2 296.8,189.9 297,189.9 297.2,189.6 297.5,189.5 297.8,190.2 298,189.6 298.2,189.4 298.5,190.1 298.8,189.5 299,189.5 299.2,190 299.5,190.3 299.8,189.5 300,189.7 300.2,190.3 300.5,189.9 300.8,190.8 301,190 301.2,189.4 301.5,190.1 301.8,189.6 302,190 302.2,189.8 302.5,189.9 302.8,190.9 303,189.7 303.2,189 303.5,189.9 303.8,190.3 304,189.6 304.2,189.6 304.5,189.9 304.8,189.4 305,189.7 305.2,190 305.5,189.8 305.8,189.8 306,189.8 306.2,190.7 306.5,189.8 306.8,189.7 307,189.5 307.2,190 307.5,190.4 307.8,189.9 308,189.9 308.2,190.1 308.5,190.1 308.8,189.7 309,189.8 309.2,190 309.5,189.9 309.8,190.1 310,189.8 310.2,190.3 310.5,189.8 310.8,190.3 311,189.6 311.2,189.9 311.5,189.4 311.8,190.2 312,189.8 312.2,189.9 312.5,190.2 312.8,190.6 313,189.6 313.2,189.9 313.5,190.4 313.8,189.5 314,190.8 314.2,190.3 314.5,189.6 314.8,190 315,190.2 315.2,190.3 315.5,190 315.8,190 316,190 316.2,190.4 316.5,189.9 316.8,189.3 317,190.1 317.2,189.6 317.5,189.8 317.8,189.2 318,189.9 318.2,189.9 318.5,189.9 318.8,190.1 319,189.9 319.2,190.4 319.5,190.2 319.8,189.9 320,190 320.2,189.3 320.5,190.6 320.8,189.7 321,189.5 321.2,190 321.5,189.6 321.8,190 322,189.7 322.2,189.5 322.5,190.1 322.8,189.1 323,189.7 323.2,189.2 323.5,189.9 323.8,189.5 324,189.3 324.2,190.3 324.5,189.8 324.8,190 325,189.8 325.2,190 325.5,189 325.8,189.2 326,189.7 326.2,189.9 326.5,189.3 326.8,189.5 327,189.3 327.2,189.2 327.5,189.9 327.8,189.8 328,189.6 328.2,189.9 328.5,190.6 328.8,189.7 329,190 329.2,190.2 329.5,190 329.8,190.1 330,191 330.2,190.4 330.5,190.5 330.8,189.7 331,190 331.2,190.1 331.5,190.2 331.8,189.6 332,189.8 332.2,189.5 332.5,190.7 332.8,189.5 333,189.9 333.2,190.4 333.5,189.9 333.8,190.4 334,189.8 334.2,187 334.5,188.6 334.8,189.9 335,190.5 335.2,189.5 335.5,189.7 335.8,190.5 336,189.3 336.2,190.5 336.5,190.3 336.8,190.1 337,189.9 337.2,189.2 337.5,193.8 337.8,189.8 338,187 338.2,192.4 338.5,190.9 338.8,191.6 339,192.3 339.2,194 339.5,191.6 339.8,191.7 340,194.5 340.2,192.1 340.5,190.1 340.8,192.2 341,190.3 341.2,189.7 341.5,193 341.8,189.3 342,190.6 342.2,191.6 342.5,191 342.8,189 343,191.1 343.2,191.2 343.5,191.1 343.8,189.4 344,192.5 344.2,189.6 344.5,190.6 344.8,191.6 345,190.8 345.2,190.5 345.5,190.6 345.8,190.8 346,191.3 346.2,190.1 346.5,189.2 346.8,189.5 347,196 347.2,190 347.5,188.7 347.8,191 348,189.2 348.2,191.1 348.5,190.3 348.8,190.4 349,190.9 349.2,189.8 349.5,191 349.8,190.3 350,190.7 350.2,191 350.5,191 350.8,189.6 351,189.7 351.2,189.6 351.5,189.6 351.8,189.7 352,189.6 352.2,189.9 352.5,189.7 352.8,190.1 353,189 353.2,190.2 353.5,190.8 353.8,190.4 354,190.2 354.2,190.8 354.5,190.6 354.8,190.5 355,190.5 355.2,190.6 355.5,190.2 355.8,189.4 356,190.6 356.2,190 356.5,189.7 356.8,189.3 357,189.2 357.2,190.3 357.5,189.8 357.8,190.2 358,190.1 358.2,190.5 358.5,189.9 358.8,189.8 359,190 359.2,189.9 359.5,190.2 359.8,189.9 360,190 360.2,190.4 360.5,190 360.8,189.3 361,189.9 361.2,190.6 361.5,190.3 361.8,189.6 362,189.9 362.2,189.8 362.5,189.6 362.8,189.6 363,190.1 363.2,190 363.5,190.1 363.8,189.9 364,189.9 364.2,190 364.5,189.9 364.8,190.1 365,190.8 365.2,190.3 365.5,190.5 365.8,189.7 366,189.7 366.2,190 366.5,189.7 366.8,190.1 367,190 367.2,190.1 367.5,190.1 367.8,190.8 368,189.9 368.2,190.5 368.5,189.6 368.8,190.1 369,190 369.2,189 369.5,180.9 369.8,190.3 370,189.8 370.2,190.4 370.5,189.9 370.8,190 371,190 371.2,190.1 371.5,190.2 371.8,189.9 372,189.9 372.2,190.1 372.5,190.8 372.8,190.4 373,190.1 373.2,190.4 373.5,189.8 373.8,189.9 374,190.5 374.2,190.5 374.5,190.2 374.8,190.6 375,189.8 375.2,189.9 375.5,189.9 375.8,190.1 376,189.9 376.2,189.8 376.5,190.3 376.8,189.7 377,190.3 377.2,189.8 377.5,190.5 377.8,190.1 378,190.2 378.2,189.6 378.5,189.7 378.8,189.5 379,190.1 379.2,190.4 379.5,190 379.8,190.1 380,189.6 380.2,189.9 380.5,190.8 380.8,189.7 381,190.4 381.2,189.4 381.5,190.1 381.8,190.1 382,190 382.2,189.4 382.5,189.7 382.8,189.2 383,190.4 383.2,189.7 383.5,190.2 383.8,189.9 384,189.9 384.2,190 384.5,190.6 384.8,189.7 385,189.6 385.2,189.7 385.5,189.9 385.8,190.7 386,189.9 386.2,190.3 386.5,189.5 386.8,189.9 387,189.9 387.2,190.7 387.5,189.8 387.8,189.9 388,189.1 388.2,189.3 388.5,189.2 388.8,190 389,190.2 389.2,190.2 389.5,189.6 389.8,190.2 390,190.1 390.2,189.5 390.5,189.9 390.8,189.9 391,190 391.2,189.7 391.5,189.9 391.8,189.5 392,190.6 392.2,189.8 392.5,190.9 392.8,190.3 393,190.1 393.2,189.5 393.5,189.4 393.8,190.5 394,190.6 394.2,189.6 394.5,190.1 394.8,189.7 395,189.9 395.2,190 395.5,189.7 395.8,190.1 396,190.3 396.2,189.1 396.5,189.7 396.8,190.1 397,189.8 397.2,190.1 397.5,190.4 397.8,190.8 398,190.6 398.2,189.7 398.5,190.1 398.8,189.7 399,189.6 399.2,189.1 399.5,189.8 399.8,189.5 400,189.9 400.2,190.6 400.5,189.5 400.8,190.5 401,190.4 401.2,188.9 401.5,189.8 401.8,190.1 402,189.9 402.2,189.2 402.5,189.8 402.8,189.9 403,189.4 403.2,190.2 403.5,189.9 403.8,190.5 404,190.3 404.2,189.8 404.5,189.8 404.8,189.8 405,190.5 405.2,190.4 405.5,189.6 405.8,190 406,190.1 406.2,190.3 406.5,190.1 406.8,189.4 407,189.8 407.2,189.4 407.5,189.9 407.8,190.4 408,189.8 408.2,189.9 408.5,189.8 408.8,189.4 409,190.9 409.2,190 409.5,189.8 409.8,190.1 410,190.7 410.2,189.3 410.5,190 410.8,190.7 411,190.3 411.2,189.9 411.5,189.6 411.8,190.1 412,190.4 412.2,190.3 412.5,189.6 412.8,189.6 413,190 413.2,190.4 413.5,189.6 413.8,190.5 414,189.1 414.2,189.5 414.5,189.4 414.8,189.7 415,189.5 415.2,190.3 415.5,189.9 415.8,190 416,189.4 416.2,189.5 416.5,189.3 416.8,189.2 417,190.2 417.2,189.7 417.5,189.7 417.8,189.8 418,190 418.2,190.2 418.5,189.7 418.8,190 419,190.4 419.2,189.8 419.5,189.9 419.8,190.2 420,189.8 420.2,189.7 420.5,189.6 420.8,189.8 421,189.2 421.2,189.3 421.5,190.2 421.8,190.1 422,189.8 422.2,189.3 422.5,190.1 422.8,190.3 423,190.1 423.2,189.6 423.5,189.2 423.8,189.8 424,189.8 424.2,189.7 424.5,189.3 424.8,190.1 425,189.7 425.2,189.7 425.5,190.3 425.8,189.5 426,189.4 426.2,190 426.5,189.9 426.8,190.3 427,189.5 427.2,189.7 427.5,189.3 427.8,190.2 428,189.9 428.2,189.4 428.5,189.4 428.8,190.1 429,190.3 429.2,190 429.5,190 429.8,189.7 430,189.8 430.2,189.6 430.5,190 430.8,189.4 431,189.2 431.2,190.1 431.5,190.1 431.8,189.7 432,189.5 432.2,189.3 432.5,189.5 432.8,190.3 433,189.4 433.2,190.2 433.5,190 433.8,190.2 434,189.6 434.2,189.8 434.5,189.3 434.8,189.5 435,190.2 435.2,189.4 435.5,189.6 435.8,189.5 436,189.3 436.2,189.7 436.5,190 436.8,189.8 437,189.9 437.2,189.4 437.5,189.8 437.8,190.3 438,189.8 438.2,189.6 438.5,189.4 438.8,189.4 439,189.2 439.2,189.5 439.5,190.7 439.8,189.5 440,190 440.2,188.1 440.5,189.7 440.8,189.7 441,189.5 441.2,190 441.5,190.6 441.8,189.9 442,189.3 442.2,190 442.5,189.7 442.8,189.6 443,189.5 443.2,189.4 443.5,189.8 443.8,189.8 444,189.3 444.2,189.6 444.5,189.4 444.8,189.5 445,190.1 445.2,189.5 445.5,189.7 445.8,189.3 446,190.2 446.2,189.7 446.5,189.3 446.8,189.1 447,189.9 447.2,189.3 447.5,189.9 447.8,189.4 448,190.5 448.2,189.6 448.5,189.5 448.8,189.8 449,189.5 449.2,190.1 449.5,190.7 449.8,189.2 450,190.2 450.2,190.1 450.5,189.5 450.8,189.9 451,190.2 451.2,190.2 451.5,190.4 451.8,189.1 452,189.5 452.2,190.1 452.5,189.2 452.8,189.7 453,189.5 453.2,189.6 453.5,190.1 453.8,189.6 454,189.9 454.2,189.7 454.5,190.1 454.8,190.1 455,190.4 455.2,190 455.5,189.1 455.8,189.3 456,190 456.2,190 456.5,189.6 456.8,189.6 457,189.7 457.2,189.2 457.5,189.6 457.8,189.5 458,189.6 458.2,189.3 458.5,190.2 458.8,189.5 459,190 459.2,189 459.5,189.8 459.8,190 460,189.4 460.2,189.4 460.5,189.9 460.8,189.7 461,189.7 461.2,189.8 461.5,189.2 461.8,189.5 462,189.2 462.2,189.5 462.5,189.5 462.8,189.8 463,189 463.2,189.4 463.5,190 463.8,189 464,189.5 464.2,189.7 464.5,189.3 464.8,189.7 465,189.6 465.2,189.5 465.5,190.2 465.8,190.7 466,189.1 466.2,189.7 466.5,188.9 466.8,189.3 467,189.7 467.2,189.8 467.5,190.1 467.8,189.2 468,189.6 468.2,189.3 468.5,189.5 468.8,189.8 469,189.6 469.2,189.1 469.5,189.3 469.8,189.5 470,189.3 470.2,189.3 470.5,190.3 470.8,189.6 471,190.2 471.2,188.9 471.5,188.6 471.8,188.8 472,189.8 472.2,190.3 472.5,190.2 472.8,189.8 473,190 473.2,189.4 473.5,189.7 473.8,189.6 474,190.1 474.2,189.1 474.5,189.4 474.8,189.7 475,189.6 475.2,189.4 475.5,190 475.8,189.6 476,189.4 476.2,189.8 476.5,189.1 476.8,189.8 477,189.8 477.2,189.7 477.5,189.8 477.8,189.1 478,189.4 478.2,189.3 478.5,189.4 478.8,188.9 479,189.9 479.2,189.7 479.5,189.8 479.8,189.6 480,189.3 480.2,189.5 480.5,190.1 480.8,189.4 481,189.5 481.2,189.5 481.5,190.7 481.8,189.7 482,189.6 482.2,189.7 482.5,189.9 482.8,189.5" fill="none" stroke="#ff0000" stroke-width="1.1" stroke-linejoin="round" opacity="1"/>
<line x1="37.5" y1="4.3" x2="37.5" y2="214.3" stroke="#333" stroke-width="1.6"/>
<line x1="36.8" y1="213.6" x2="482.8" y2="213.6" stroke="#333" stroke-width="1.6"/>
<line x1="32.5" y1="27.5" x2="37.5" y2="27.5" stroke="#1e1e1e" stroke-width="1.3"/>
<text transform="translate(30.4,32.2) scale(0.93,1)" font-size="16.3" text-anchor="end" font-style="normal" font-weight="normal">0.0</text>
<line x1="32.5" y1="74" x2="37.5" y2="74" stroke="#1e1e1e" stroke-width="1.3"/>
<text transform="translate(30.4,78.7) scale(0.93,1)" font-size="16.3" text-anchor="end" font-style="normal" font-weight="normal">-0.1</text>
<line x1="32.5" y1="120.6" x2="37.5" y2="120.6" stroke="#1e1e1e" stroke-width="1.3"/>
<text transform="translate(30.4,125.3) scale(0.93,1)" font-size="16.3" text-anchor="end" font-style="normal" font-weight="normal">-0.2</text>
<line x1="32.5" y1="167.1" x2="37.5" y2="167.1" stroke="#1e1e1e" stroke-width="1.3"/>
<text transform="translate(30.4,171.8) scale(0.93,1)" font-size="16.3" text-anchor="end" font-style="normal" font-weight="normal">-0.3</text>
<line x1="32.5" y1="213.6" x2="37.5" y2="213.6" stroke="#1e1e1e" stroke-width="1.3"/>
<text transform="translate(30.4,218.3) scale(0.93,1)" font-size="16.3" text-anchor="end" font-style="normal" font-weight="normal">-0.4</text>
<line x1="34.5" y1="4.2" x2="37.5" y2="4.2" stroke="#1e1e1e" stroke-width="1.3"/>
<line x1="34.5" y1="50.8" x2="37.5" y2="50.8" stroke="#1e1e1e" stroke-width="1.3"/>
<line x1="34.5" y1="97.3" x2="37.5" y2="97.3" stroke="#1e1e1e" stroke-width="1.3"/>
<line x1="34.5" y1="143.8" x2="37.5" y2="143.8" stroke="#1e1e1e" stroke-width="1.3"/>
<line x1="34.5" y1="190.4" x2="37.5" y2="190.4" stroke="#1e1e1e" stroke-width="1.3"/>
<line x1="82" y1="213.6" x2="82" y2="218.6" stroke="#1e1e1e" stroke-width="1.3"/>
<text transform="translate(82.8,232.8) scale(0.93,1)" font-size="16.3" text-anchor="middle" font-style="normal" font-weight="normal">1650</text>
<line x1="156.2" y1="213.6" x2="156.2" y2="218.6" stroke="#1e1e1e" stroke-width="1.3"/>
<text transform="translate(157,232.8) scale(0.93,1)" font-size="16.3" text-anchor="middle" font-style="normal" font-weight="normal">1655</text>
<line x1="230.5" y1="213.6" x2="230.5" y2="218.6" stroke="#1e1e1e" stroke-width="1.3"/>
<text transform="translate(231.3,232.8) scale(0.93,1)" font-size="16.3" text-anchor="middle" font-style="normal" font-weight="normal">1660</text>
<line x1="304.7" y1="213.6" x2="304.7" y2="218.6" stroke="#1e1e1e" stroke-width="1.3"/>
<text transform="translate(305.5,232.8) scale(0.93,1)" font-size="16.3" text-anchor="middle" font-style="normal" font-weight="normal">1665</text>
<line x1="378.9" y1="213.6" x2="378.9" y2="218.6" stroke="#1e1e1e" stroke-width="1.3"/>
<text transform="translate(379.7,232.8) scale(0.93,1)" font-size="16.3" text-anchor="middle" font-style="normal" font-weight="normal">1670</text>
<line x1="453.1" y1="213.6" x2="453.1" y2="218.6" stroke="#1e1e1e" stroke-width="1.3"/>
<text transform="translate(453.9,232.8) scale(0.93,1)" font-size="16.3" text-anchor="middle" font-style="normal" font-weight="normal">1675</text>
<line x1="44.9" y1="213.6" x2="44.9" y2="216.6" stroke="#1e1e1e" stroke-width="1.3"/>
<line x1="119.1" y1="213.6" x2="119.1" y2="216.6" stroke="#1e1e1e" stroke-width="1.3"/>
<line x1="193.4" y1="213.6" x2="193.4" y2="216.6" stroke="#1e1e1e" stroke-width="1.3"/>
<line x1="267.6" y1="213.6" x2="267.6" y2="216.6" stroke="#1e1e1e" stroke-width="1.3"/>
<line x1="341.8" y1="213.6" x2="341.8" y2="216.6" stroke="#1e1e1e" stroke-width="1.3"/>
<line x1="416" y1="213.6" x2="416" y2="216.6" stroke="#1e1e1e" stroke-width="1.3"/>
<line x1="387.3" y1="110.5" x2="435.6" y2="110.5" stroke="#555" stroke-width="1.1"/>
<line x1="387.3" y1="136.9" x2="435.6" y2="136.9" stroke="#ff6060" stroke-width="1.1"/>
<text x="443.4" y="113" font-size="18" font-style="italic">b<tspan font-size="13.5" dy="4.6">p</tspan></text>
<text x="443.4" y="144.2" font-size="18" font-style="italic">b<tspan font-size="13.5" dy="6">δ</tspan><tspan font-size="12" dy="2.4">rol</tspan></text>
<text x="245.6" y="262.3" font-size="20.6"><tspan font-style="italic">t</tspan>(s)</text>
<text x="226.3" y="298.4" font-size="26.5" >(<tspan font-weight="bold">e</tspan>)</text>
<polyline points="585.5,56.9 585.7,60 585.8,62.7 586,60.8 586.2,56 586.3,47.1 586.5,45.8 586.7,42.2 586.8,36 587,40 587.2,47.5 587.3,43.7 587.5,40.6 587.7,36.3 587.8,41 588,37.9 588.2,40.7 588.3,42.5 588.5,27.6 588.7,39.2 588.8,32.2 589,35.1 589.2,33 589.3,44.7 589.5,41.9 589.7,41.2 589.8,35 590,31.6 590.2,37.1 590.3,40 590.5,38.6 590.7,42.2 590.8,36.6 591,47.2 591.2,41.4 591.3,48.1 591.5,39.3 591.7,36.6 591.8,33.1 592,41 592.2,41.9 592.3,37.2 592.5,38.1 592.7,34.7 592.8,33.9 593,34.5 593.2,26.8 593.3,30.6 593.5,35.2 593.7,41.2 593.8,51.2 594,54.8 594.2,47.5 594.4,39.5 594.6,23.2 594.7,25.2 594.9,13.2 595,11.1 595.2,14.8 595.4,21.6 595.6,27.8 595.8,28.6 596.1,21.8 596.3,23.1 596.5,33.9 596.8,30.7 597,27.3 597.2,27.4 597.3,27 597.5,39.7 597.7,29.7 597.8,27.8 598,25.4 598.2,19.3 598.3,27.6 598.5,31.6 598.7,29.7 598.8,27.1 599,23.9 599.2,22.1 599.3,26.1 599.5,24.5 599.7,22.2 599.8,30.6 600,22.7 600.2,23.9 600.3,18.6 600.5,30.6 600.7,25.1 600.8,25.2 601,26.1 601.2,22.9 601.3,23.4 601.5,25.8 601.7,23.2 601.8,26.6 602,29.3 602.2,27.8 602.3,29.1 602.5,27.8 602.7,29.5 602.8,25.7 603,26 603.2,22.2 603.3,24.4 603.5,23 603.7,24.7 603.8,22.5 604,25.8 604.2,30.9 604.3,23.1 604.5,26 604.7,26.1 604.8,23.2 605,24.2 605.2,23.7 605.3,25.7 605.5,23.5 605.7,30.2 605.8,26.7 606,27.3 606.2,29.4 606.3,28 606.5,25.2 606.7,25.6 606.8,24.5 607,24.5 607.2,25.7 607.3,20 607.5,20.4 607.7,22.8 607.8,24 608,22.1 608.2,22.8 608.3,25.3 608.5,24.7 608.7,23.6 608.8,23.5 609,21.8 609.2,25 609.3,24.1 609.5,22 609.7,24.5 609.8,23.2 610,23.4 610.2,22.3 610.3,27.5 610.5,25.9 610.7,28.9 610.8,30 611,30.1 611.2,29.7 611.3,28.3 611.5,27.2 611.7,25.9 611.8,22.8 612,22.9 612.2,21.5 612.3,19.1 612.5,20.8 612.7,19.5 612.8,20.6 613,16.5 613.2,19.9 613.3,16.1 613.5,18.3 613.7,22.1 613.9,17.7 614.1,17.2 614.3,14.1 614.4,12.7 614.6,13.1 614.8,12.3 615,10.2 615.2,8.1 615.4,9.5 615.6,11.7 615.8,15.6 616,15.4 616.2,16.5 616.4,18.2 616.6,19.7 616.8,21.4 617,25.1 617.2,26.8 617.3,26.5 617.5,25.3 617.7,28.2 617.8,27.4 618,29 618.2,27.8 618.3,27.3 618.5,29 618.7,29.3 618.8,29.2 619,30 619.2,30.7 619.3,30.8 619.5,32.3 619.7,32.4 619.8,32.4 620,32.9 620.6,34.4 621.1,34.5 621.7,35.2 622.2,36.7 622.8,37.3 623.3,33.6 623.8,29.8 624.4,28.2 624.9,25.2 625.4,25.8 626,25.5 626.5,27.5 627.1,30.9 627.6,30.9 628.2,29 628.7,26.7 629.3,24.6 629.8,22.9 630.4,20.1 630.9,21.2 631.4,21.3 631.9,23.9 632.5,25 633,24.1 633.5,25.9 634,27.4 634.5,24.8 635,23.4 635.5,21.5 636,21.1 636.5,18.1 637,17 637.5,14.9 638,12.4 638.5,12.9 639,16.3 639.5,18.6 640,20 640.5,19.9 641,20.9 641.5,22.4 642.1,23.7 642.6,23 643.1,22.6 643.6,24.5 644.1,24.7 644.6,22.8 645.1,23.1 645.7,22.3 646.2,19.8 646.7,20.1 647.2,18.2 647.7,19.2 648.2,18.5 648.8,17.8 649.3,17.6 649.8,17.2 650.4,17.6 650.9,16.7 651.4,16.3 652,15.2 652.5,16.5 653,15.1 653.5,17.8 654,18.4 654.5,20.2 655,19.6 655.5,19.1 656,18.4 656.5,18.7 657,16.9 657.5,17.5 658,18.6 658.5,20.3 659.1,22.2 659.6,24.9 660.1,24.8 660.7,28.1 661.2,31.2 661.8,33.8 662.3,36.5 662.5,38.3 662.7,39.1 662.9,38.8 663.1,42 663.4,43.6 663.6,45.4 663.8,48 664.1,51.4 664.3,52.6 664.5,57.2 664.7,65.7 664.9,71 665.1,76.2 665.2,76.8 665.4,79.9 665.6,82.6 665.7,84.8 665.9,88 666.1,82.6 666.3,79.5 666.5,71.6 666.6,67.1 666.8,61.7 667,56.9 667.2,56.3 667.4,56.9 667.5,51.1 667.7,53.3 667.9,52.5 668,54 668.2,51.8 668.4,53.7 668.6,53.6 668.8,51.1 668.9,51.7 669.1,50 669.3,52.4 669.5,53.1 669.6,54.8 669.8,55.5 670,54.9 670.2,58.1 670.3,57.9 670.5,59.8 670.7,60.1 670.9,61.4 671,60.6 671.2,63.2 671.4,61.4 671.5,61.7 671.7,61.9 671.9,60.7 672.1,61.8 672.2,61.7 672.4,62 672.6,61.5 672.7,61.1 672.9,60.6 673.1,60.3 673.2,60.2 673.8,60 674.3,59.2 674.8,58.4 675.3,57.9 676,59.3 676.7,61 677.2,59.7 677.8,58.2 678.3,57.6 678.8,57.3 679.4,55.5 679.9,56 680.4,54.6 681,54.1 681.5,51.3 682.1,54.3 682.6,55.6 683.2,57.6 683.7,59.3 684.3,60.9 684.8,59.2 685.4,56.6 686,56.3 686.5,56.4 687,53.9 687.6,52.7 688.2,50.2 688.7,50 689.4,48.5 690,48.8 690.5,46.9 691,48.1 691.5,46.6 692,45.8 692.5,45.6 693,44 693.5,44.3 694,44.4 694.5,44.3 695,42.7 695.5,41.7 696,38.4 696.5,37.2 697,34.7 697.6,32.9 698.3,32 698.9,33.2 699.4,35.1 700,35.3 700.6,33.1 701.3,32.1 701.8,33.6 702.4,33.6 702.9,34.4 703.5,35.6 704,36.4 704.5,36.7 705.1,35.6 705.6,34.3 706.2,34 706.8,35.2 707.3,34.7 707.8,34.9 708.3,35.8 708.8,38.3 709.3,37.8 709.8,37.7 710.3,39 710.8,40.8 711.3,41 711.8,41.6 712.3,39.9 712.9,38.7 713.4,38.7 713.9,37.1 714.5,37.3 715,37 715.5,36.6 716,36.5 716.6,36.5 717.1,36.9 717.6,37.5 718.2,37.3 718.7,37.7 719.2,36.7 719.7,34.6 720.2,33 720.7,32.1 721.2,30.6 721.7,28.9 722.3,29.4 722.8,30.9 723.4,31.7 723.9,32.8 724.5,32.3 725,31.2 725.5,30.2 726,29.8 726.5,28.5 727.1,28.6 727.6,27 728.1,25.8 728.6,25 729.2,26.1 729.7,25.5 730.3,25.6 730.9,25 731.4,25.5 732,26 732.5,24.5 733,22.4 733.5,20.5 734,18.9 734.5,18 735,15.4 735.6,14.1 736.1,14.4 736.7,14.2 737.3,14.2 737.9,16.6 738.5,17.9 739.1,18.6 739.7,21.3 740.2,22.8 740.8,22.1 741.3,22 741.9,22.6 742.4,22.6 743,22.9 743.5,22.9 744,22.3 744.5,23.2 745,21.9 745.5,21.8 746,20.2 746.5,20.8 747,22.1 747.5,22.6 748.1,22.8 748.6,23.9 749.1,25.5 749.6,25.3 750.2,23.3 750.8,21.4 751.4,19.9 752,19 752.5,19.2 753.1,20.1 753.6,20.3 754.1,19.6 754.7,20.6 755.2,21.2 755.8,19.7 756.3,20.9 756.8,20.4 757.3,21.6 757.8,22.4 758.3,22.7 758.9,23.3 759.4,23.5 759.9,23.6 760.4,23.9 760.9,25.9 761.4,25.7 761.9,27.8 762.5,28.1 763,30.2 763.5,29.3 764,30.4 764.5,32.2 765.1,33.5 765.6,34.4 766.2,34.5 766.7,35 767.3,36.7 767.5,37.5 767.7,40.1 767.9,41.3 768.1,42.5 768.3,43.8 768.5,44.6 768.7,50.2 768.8,56.7 769,61.4 769.2,66.4 769.3,72.8 769.5,77.7 769.7,77.2 769.8,75.4 770,77.2 770.2,76.1 770.3,74 770.5,73.6 770.7,74.7 770.8,74.7 771,72.8 771.2,70.3 771.3,71 771.5,67.6 771.7,67.2 771.8,64.7 772,62.8 772.2,60.4 772.3,60.4 772.5,56.3 772.7,55.4 772.8,53.4 773,55.1 773.2,51 773.3,47.7 773.5,46.9 773.7,45.7 773.8,48.2 774,47.7 774.2,51.2 774.3,52.2 774.5,53.9 774.7,51.7 774.8,52.1 775,51.6 775.2,55 775.3,54 775.5,57.1 775.7,58.8 775.8,54.8 776,57.2 776.2,59.9 776.3,55.7 776.5,56.2 776.7,59.6 776.8,59.2 777,56.5 777.2,60.2 777.3,59.4 777.5,60.3 777.7,61.1 777.8,63.3 778,62.3 778.2,60.9 778.3,65.8 778.5,66.2 778.7,66.9 778.8,66.4 779,67.2 779.2,67.1 779.3,67.7 779.5,64.9 779.7,63.1 779.8,61.9 780,60.5 780.2,60.1 780.3,60.9 780.5,58.8 780.7,61.7 780.8,63.5 781,63.2 781.2,65.2 781.3,65.8 781.5,64 781.7,63.5 781.8,65.7 782,64.8 782.2,67.1 782.3,65.9 782.5,66.7 782.7,65.7 782.8,65.3 783,68 783.2,66.1 783.3,66.2 783.5,66.3 783.7,65.7 783.8,65.9 784,65 784.2,66.2 784.3,66.4 784.5,65.1 784.7,64.3 784.8,65.4 785,66.4 785.2,66.6 785.3,66.4 785.5,65.5 785.7,66.5 785.8,66.1 786,66.9 786.2,66.3 786.4,65.1 786.5,65.5 786.7,65.4 786.9,65.9 787.1,66.3 787.3,63.9 787.4,63.8 787.6,63.3 787.8,63.2 788,63.2 788.2,63.9 788.7,62.6 789.3,61 789.8,61 790.3,59.8 790.9,57.9 791.5,55.7 792,55.4 792.5,56.4 793,56.2 793.5,56.3 794,58 794.5,57.8 795,57.9 795.5,55.4 796,53.8 796.5,51.6 797,49.4 797.5,48 798,46.7 798.5,46.7 799,45.4 799.5,45.1 800,44.6 800.5,42.8 801,43.4 801.5,41.7 802,41.9 802.5,44.1 803,45.2 803.5,45.8 804,44.3 804.5,43.7 805,42 805.5,42.6 806,42.3 806.5,45.3 807,46.2 807.6,46.8 808.1,47.7 808.6,49.4 809.2,48.1 809.7,46.3 810.3,44.7 810.9,43.9 811.4,42.1 812,40.4 812.5,40.1 813,41.6 813.5,42 814,43.3 814.5,43.5 815,42.9 815.5,42.2 816,43.1 816.5,44.2 817,44.1 817.5,44.7 818,40.5 818.5,39.2 819,37.4 819.5,36 820,35.5 820.5,34 821,32.8 821.5,33 822,33.2 822.5,36.4 823,36.7 823.5,38.3 824,41 824.5,41.2 825,41.7 825.5,40.7 826,39.5 826.5,38.3 827,37.7 827.5,39 828,42.3 828.5,44 829,46.3 829.5,48.4 830,49.1 830.5,47.9 831,44.7 831.5,43.1 832,41.5 832.5,39.2 833,36.9 833.5,36.5 834,37.8 834.5,38 835,38.6 835.5,39.5 836,39.7 836.5,38.3 837,37.9 837.5,35.5 838,33.8 838.5,32.7 839,29.2 839.5,29.1 840,29.4 840.5,30.8 841,31.6 841.5,33.6 842,32.8 842.5,33.2 843,32.7 843.5,32.4 844,32.6 844.5,31.8 845,30.9 845.5,30.3 846,29 846.5,29.3 847,28.2 847.5,27.5 848,27.7 848.5,27.9 849,30.1 849.5,30.9 850,31.7 850.5,32.4 851,33 851.5,32.4 852,32.1 852.5,31.9 853,32.3 853.5,31.6 854,32.4 854.5,31.6 855,30.2 855.5,32.2 856,32.2 856.5,32.6 857,34.8 857.5,35 858,35.3 858.5,36.2 859,35.1 859.5,33.6 860,31.1 860.5,30 861,28 861.5,26 862,26.9 862.5,28 863,29.5 863.5,30.6 864,30.5 864.5,31.7 865,32.5 865.5,29.8 866,27.8 866.5,24.8 867,21.1 867.5,19.1 868,15.9 868.5,15.8 869,17.5 869.5,18.3 870,18.6 870.5,19 871,21.3 871.5,23.6 872,25.9 872.5,30.9 873,33.4 873.6,33.5 874.1,34.1 874.7,34.5 875.3,34.2 875.9,41.5 876.5,46.7 877,54.5 877.5,62.6 878,70.5 878.5,78.8 878.7,75.3 878.8,74.4 879,74.1 879.2,73.5 879.3,70.5 879.5,69.3 879.7,67.9 879.8,67 880,67.1 880.2,63.4 880.3,62.1 880.5,59.5 880.7,55.5 880.8,52.2 881,50.3 881.2,46.7 881.3,44.6 881.5,43 881.7,42.8 881.8,42.1 882,39.5 882.2,41.2 882.3,42.2 882.5,42.9 882.7,43.7 882.8,41 883,43.4 883.2,45.5 883.3,46 883.5,46.3 883.7,48.5 883.8,52.5 884,52.5 884.2,54.8 884.3,56 884.5,59.7 884.7,57.2 884.8,59 885,57.1 885.2,57.7 885.3,55.3 885.5,56.8 885.7,56.8 885.8,59.9 886,58.7 886.2,59.6 886.3,59.6 886.5,60.1 886.7,60.8 886.8,69.4 887,69.5 887.2,67.8 887.3,64.8 887.5,58.4 887.7,62.4 887.8,60.9 888,59.8 888.2,58.6 888.3,58.1 888.5,60.8 888.7,60.3 888.8,61.1 889,61.8 889.2,60.6 889.3,61.2 889.5,62.3 889.7,60.3 889.8,61.3 890,61.3 890.2,63.1 890.3,62.3 890.5,63.9 890.7,62.4 890.8,61.6 891,63.7 891.2,63.1 891.3,62.5 891.5,64.2 891.7,64.2 891.8,63.5 892,65.1 892.2,65.4 892.3,65.8 892.5,66.5 892.7,66.1 892.8,66.9 893,66.6 893.2,67.3 893.3,66.8 893.5,66.9 893.7,66 893.8,65.1 894,64.5 894.2,63.8 894.3,64.2 894.5,64.6 894.7,63.4 894.8,63.4 895,62.6 895.2,62.4 895.3,61.6 895.5,60 895.7,60.5 895.8,59.9 896,59.1 896.5,58.6 897,57.8 897.5,56.7 898,54.8 898.5,55.2 899,56.6 899.5,56.8 900,57 900.5,55.7 901,54.5 901.5,53.5 902,51.4 902.5,51.7 903,49.8 903.5,47.9 904,47.3 904.5,45.8 905,44.6 905.5,44 906,42.4 906.5,42.1 907,41 907.6,24.8 908,51.8 908.5,41.9 909,32.6 909.5,24.4 910,28 910.5,30.9 911,31.8 911.5,34.2 912,36.6 912.5,35 913,36.8 913.5,37.5 914,36.7 914.5,38.9 915,39.3 915.5,37.7 916,39.4 916.5,39.7 917,41.1 917.5,39.6 918,41.4 918.5,42.4 919,42.3 919.5,42.3 920,42.3 920.5,42 921,42.6 921.5,45 922,44.2 922.5,45.7 923,44.9 923.5,43.6 924,42.4 924.5,42 925,41 925.5,40.8 926,42 926.5,41.5 927,41.8 927.5,42.3 928,43.1 928.5,43.5 929,40.4 929.5,37.2 930,34.8 930.5,32 931,28.6 931.5,26.9 932,27.2 932.5,26.5 933,27.2 933.5,28 934,29.7 934.5,30.4 935,29.1 935.5,27.6 936,27.2 936.5,26.2 937,24.8 937.5,24.7 938,23.7 938.5,24.3 939,23.3 939.5,24.4 940,24.5 940.5,25.2 941,24.7 941.5,25.5 942,26.2 942.5,28.3 943,30.1 943.5,31.6 944,30.8 944.5,30.2 945,29.1 945.5,28.7 946,28 946.5,26.6 947,28.4 947.5,29.5 948,28.7 948.5,30 949,30.9 949.5,31.4 950,32 950.5,32.4 951,31.7 951.5,32.3 952,31.8 952.5,31.1 953,30 953.5,30.3 954,29.9 954.5,29.3 955,30.4 955.5,30.5 956,30.3 956.5,30.3 957,29.5 957.5,31.1 958,30.2 958.5,29.3 959,30.5 959.5,28.4 960,28.2 960.5,28.1 961,26.7 961.5,27.4 962,26.3 962.5,25.9 963,27 963.5,28 964,29.5 964.5,30.4 965,32.2 965.5,32.7 966,31.2 966.5,31.4 967,30.1 967.5,29.9 968,28.3 968.5,28.1 969,30.8 969.5,29.8 970,29.6 970.5,29.3 971,29.3 971.5,30.2 972,30.1 972.5,31.2 973,30.9 973.5,32.2 974,31.2 974.5,30.4 975,29.1 975.5,28.8 976,28.1 976.5,27.4 977,26.6 977.5,26 978,27.3 978.5,26.8 979,28 979.5,28.4 980,29.5 980.5,29.3 981,31.2 981.5,30.9 982,32.6 982.5,32.6 983,34.1 983.5,33.9 984,35.6 984.5,36 985,36.5 985.5,38 986,37.7 986.5,39.5 987,38 987.5,35.8 988,34.9 988.5,33.3 989,33.3 989.5,34.3 990,34.4 990.5,36 991,36.4 991.5,34.7 992,32.3 992.5,31.9 993,29.4 993.5,27.3 994,30 994.5,30.6 995,30.6 995.5,33.4 996,33.4 996.5,35.5 997,36.7 997.5,36.3 998,36.8 998.5,36.2 999,36.6 999.5,35.6 1000,35.1 1000.5,35.3 1001,35.4 1001.5,34.7 1002,34 1002.5,31.7 1003,31 1003.5,28.4 1004,27.6 1004.5,27.2 1005,27.4 1005.5,27.9 1006,26.9 1006.5,27.8 1007,26.9 1007.5,27.2 1008,26.3 1008.5,27.2 1009,28.5 1009.5,29.1 1010,29.2 1010.5,28 1011,25.4 1011.5,24.1 1012,22.9 1012.5,23.1 1013,24.8 1013.5,26.1 1014,28.4 1014.5,29.2 1015,30.8 1015.6,28.6 1016.1,29.7 1016.7,28.3 1017.2,28.1 1017.8,27.9" fill="none" stroke="#ff00ff" stroke-width="1.25" stroke-linejoin="round" opacity="1"/>
<polyline points="585.2,163.9 585.4,164.3 585.5,162.1 585.6,171.8 585.8,160.2 585.9,162.2 586.1,161.6 586.2,169.7 586.4,162.4 586.5,162.5 586.7,171.7 586.8,157.1 587,168.6 587.1,165.2 587.3,165.6 587.4,164 587.6,163.1 587.7,163.1 587.9,163.5 588,164.1 588.2,166.7 588.3,142 588.5,165.1 588.6,167.5 588.8,166.7 588.9,165.1 589.1,162.8 589.2,165.2 589.4,162.8 589.5,164.3 589.7,164 589.8,160.3 590,159.2 590.1,164.1 590.3,162.4 590.4,161.5 590.6,166.2 590.7,165.6 590.9,163 591,166.1 591.2,168 591.3,163.6 591.5,163.7 591.6,164.5 591.8,161.3 591.9,166.4 592.1,162.9 592.2,163.6 592.4,163.8 592.5,160.2 592.7,165.4 592.8,165.9 593,164.4 593.1,163.2 593.3,167 593.4,166.2 593.6,164 593.7,160.2 593.9,166 594,167.5 594.2,189 594.3,166.7 594.5,157.4 594.6,159.4 594.8,159.9 594.9,168.1 595.1,164.8 595.2,165.6 595.4,166.6 595.5,164.1 595.7,168.2 595.8,165.5 596,163.9 596.1,166.2 596.3,163.8 596.4,163.5 596.6,162.2 596.7,163.2 596.9,166.7 597,167.2 597.2,165.6 597.3,164.8 597.5,164.8 597.6,165.2 597.8,163 597.9,161.9 598.1,167.9 598.2,163.2 598.4,165.3 598.5,160.3 598.7,161 598.8,169.5 599,163.7 599.1,166.2 599.3,163 599.4,166.7 599.6,164 599.7,164.7 599.9,161.7 600,162.5 600.2,160.4 600.3,164.6 600.5,164.2 600.6,163.1 600.8,154.8 600.9,165.5 601.1,164.3 601.2,164.7 601.4,163.2 601.5,162.9 601.7,166 601.8,162.6 602,163.2 602.1,164.6 602.3,167 602.4,166.2 602.6,162.1 602.7,164.8 602.9,163.3 603,167 603.2,166 603.3,166.1 603.5,163 603.6,162.4 603.8,163.9 603.9,164.8 604.1,166.4 604.2,164.9 604.4,164.8 604.5,164.4 604.7,163.7 604.8,164 605,164.4 605.1,166.2 605.3,165.6 605.4,165.7 605.6,165.1 605.7,164.8 605.9,164.5 606,164.8 606.2,163.8 606.3,164.4 606.5,162.9 606.6,164.3 606.8,164.4 606.9,164.1 607.1,164 607.2,164.5 607.4,164.2 607.5,164.3 607.7,163.9 607.8,164.3 608,163.7 608.1,163.3 608.3,163.7 608.4,164.7 608.6,163.7 608.7,163.7 608.9,163.3 609,163.3 609.2,163.8 609.3,164.9 609.5,164.6 609.6,164.8 609.8,164.3 609.9,163.2 610.1,164 610.2,164.7 610.4,164.8 610.5,164.2 610.7,163.3 610.8,164.3 611,164.4 611.1,164.8 611.3,163.5 611.4,164.8 611.6,163.3 611.7,164.5 611.9,162.6 612,163.8 612.2,164.3 612.3,164.1 612.5,163.8 612.6,163.8 612.8,164.3 612.9,164.2 613.1,163.7 613.2,164.5 613.4,164.1 613.5,165.1 613.7,164.3 613.8,164.4 614,163.1 614.1,164.6 614.3,164.2 614.4,164.4 614.6,156.5 614.7,163.9 614.9,163.3 615,164 615.2,163.9 615.3,164.4 615.5,163.7 615.6,164.1 615.8,163.3 615.9,164.8 616.1,164.4 616.2,165 616.4,164.8 616.5,163.9 616.7,164.8 616.8,162.8 617,163.7 617.1,164.6 617.3,164.9 617.4,164.1 617.6,164.4 617.7,164.2 617.9,165.2 618,163.8 618.2,163.9 618.3,164.5 618.5,164.6 618.6,163.8 618.8,163.9 618.9,164.2 619.1,163.8 619.2,165.5 619.4,164 619.5,163.4 619.7,164.3 619.8,163.4 620,165 620.1,163.7 620.3,163.5 620.4,164.7 620.6,163.1 620.7,163 620.9,165.1 621,164.8 621.2,163.6 621.3,164.2 621.5,163.5 621.6,163.7 621.8,164.5 621.9,164.3 622.1,163.7 622.2,165.6 622.4,164.9 622.5,164.2 622.7,164.8 622.8,164.6 623,164.6 623.1,164.2 623.3,164.1 623.4,164.3 623.6,164.8 623.7,164.8 623.9,164.3 624,164.5 624.2,164.3 624.3,163.6 624.5,164.8 624.6,164.9 624.8,165 624.9,164.2 625.1,164 625.2,165.2 625.4,165.1 625.5,164.7 625.7,165.2 625.8,163.7 626,164.3 626.1,164.4 626.3,163.7 626.4,164.8 626.6,163.7 626.7,163.8 626.9,164.4 627,163.8 627.2,164.5 627.3,164.5 627.5,164.5 627.6,163.6 627.8,164.1 627.9,163.5 628.1,165.2 628.2,163.7 628.4,164.3 628.5,164.4 628.7,163.9 628.8,164.7 629,164.7 629.1,164 629.3,163.9 629.4,163.9 629.6,163.6 629.7,164.1 629.9,164.5 630,164.4 630.2,164.3 630.3,164.2 630.5,162.9 630.6,165 630.8,164.7 630.9,165 631.1,164.2 631.2,164.7 631.4,163.9 631.5,163.1 631.7,164.2 631.8,164.3 632,164.7 632.1,164.6 632.3,164.2 632.4,164.9 632.6,163.7 632.7,163.1 632.9,165 633,164.1 633.2,164.1 633.3,163.4 633.5,163.8 633.6,165 633.8,164.9 633.9,164.4 634.1,164 634.2,164.4 634.4,163.3 634.5,164.7 634.7,163.5 634.8,164.1 635,163.3 635.1,164.2 635.3,164.9 635.4,164.1 635.6,164.2 635.7,163.8 635.9,164.3 636,163.8 636.2,164.6 636.3,164.6 636.5,164.8 636.6,163.5 636.8,164 636.9,165 637.1,164.1 637.2,164 637.4,163.1 637.5,163.9 637.7,164.1 637.8,164.7 638,163.5 638.1,163.4 638.3,164.4 638.4,163.8 638.6,163.7 638.7,165 638.9,163.5 639,163.6 639.2,164.4 639.3,164.7 639.5,164.9 639.6,164.2 639.8,163.3 639.9,163.2 640.1,163.3 640.2,164.2 640.4,164.3 640.5,164.4 640.7,163.5 640.8,163.9 641,164.8 641.1,164.6 641.3,164.4 641.4,164 641.6,164.7 641.7,164.2 641.9,163.6 642,164.6 642.2,164.1 642.3,164.6 642.5,163.7 642.6,164.2 642.8,163.7 642.9,163.5 643.1,164.3 643.2,162.7 643.4,164.1 643.5,164.3 643.7,164.1 643.8,165.4 644,164.9 644.1,164.3 644.3,165.2 644.4,165.2 644.6,164.2 644.7,164.6 644.9,165.1 645,164.6 645.2,164.6 645.3,164.2 645.5,164.7 645.6,164.1 645.8,163.9 645.9,165.1 646.1,164.8 646.2,163.7 646.4,164.2 646.5,163.5 646.7,163.8 646.8,164.4 647,164.1 647.1,165.3 647.3,164.4 647.4,164.3 647.6,164.6 647.7,163.9 647.9,163.6 648,164 648.2,164.9 648.3,164.8 648.5,165 648.6,164.4 648.8,164.6 648.9,163.9 649.1,164.9 649.2,163.7 649.4,163.8 649.5,164.8 649.7,164.4 649.8,164.4 650,164.8 650.1,163.1 650.3,164.3 650.4,164.7 650.6,163.6 650.7,164 650.9,164.3 651,164.9 651.2,164.9 651.3,164 651.5,163.9 651.6,164.6 651.8,164.8 651.9,165 652.1,164.1 652.2,163.9 652.4,164.9 652.5,164.5 652.7,164.5 652.8,163.6 653,164.5 653.1,164.6 653.3,164.2 653.4,164.8 653.6,164 653.7,164.8 653.9,163.7 654,164.2 654.2,164.7 654.3,163.6 654.5,164.2 654.6,164.2 654.8,165 654.9,164.4 655.1,164.1 655.2,163.9 655.4,164.4 655.5,164.5 655.7,163.9 655.8,164.7 656,164.2 656.1,165.1 656.3,164.3 656.4,163.7 656.6,164.7 656.7,164.2 656.9,165.2 657,165 657.2,163.3 657.3,164 657.5,164.9 657.6,164.9 657.8,163.8 657.9,164.4 658.1,163.9 658.2,164.3 658.4,164.4 658.5,164.6 658.7,164.1 658.8,163.3 659,165 659.1,164.7 659.3,164.5 659.4,164.9 659.6,164.1 659.7,164.5 659.9,163.7 660,164.3 660.2,164.9 660.3,164.2 660.5,164.8 660.6,163.8 660.8,166.2 660.9,164.7 661.1,165.4 661.2,163.4 661.4,164.5 661.5,164.8 661.7,166.4 661.8,161.6 662,163.7 662.1,165.1 662.3,164.4 662.4,166.4 662.6,166.6 662.7,165.9 662.9,165.1 663,164.2 663.2,164.1 663.3,162.3 663.5,168.7 663.6,164.8 663.8,166.9 663.9,164.2 664.1,163.8 664.2,167 664.4,165.6 664.5,165.4 664.7,162.8 664.8,163.6 665,165.3 665.1,163.1 665.3,167.7 665.4,162.1 665.6,160.8 665.7,165.1 665.9,166.2 666,164.6 666.2,161.1 666.3,163.7 666.5,163.2 666.6,167.4 666.8,163.1 666.9,166.7 667.1,164.2 667.2,163.2 667.4,163.1 667.5,165.4 667.7,166.4 667.8,163.1 668,164.1 668.1,165.9 668.3,165.3 668.4,167.2 668.6,165.5 668.7,160.1 668.9,165.3 669,164.9 669.2,164.8 669.3,163.7 669.5,164.7 669.6,161.9 669.8,165.1 669.9,164.3 670.1,166 670.2,165.7 670.4,164.2 670.5,165.9 670.7,164.4 670.8,164.6 671,164.4 671.1,164.3 671.3,163.9 671.4,166.1 671.6,163.3 671.7,165.2 671.9,163.4 672,164.5 672.2,163.6 672.3,164.5 672.5,164.6 672.6,164.4 672.8,164.9 672.9,164 673.1,163.9 673.2,164.1 673.4,165 673.5,163.7 673.7,163.7 673.8,164.4 674,164.1 674.1,164.5 674.3,163.8 674.4,165 674.6,165 674.7,164.4 674.9,164.3 675,163.6 675.2,164.3 675.3,163.9 675.5,163.7 675.6,164.1 675.8,164.8 675.9,164.5 676.1,164.1 676.2,163.9 676.4,164.3 676.5,164 676.7,164 676.8,163.7 677,164.3 677.1,164.4 677.3,164.2 677.4,164.5 677.6,163.7 677.7,164.1 677.9,164 678,164.1 678.2,163.9 678.3,164.3 678.5,163.8 678.6,163.8 678.8,164.3 678.9,163.8 679.1,163.7 679.2,164.3 679.4,163.7 679.5,164.7 679.7,164 679.8,164.3 680,164.7 680.1,164.5 680.3,163.9 680.4,161.1 680.6,164.1 680.7,164.1 680.9,163.5 681,163.3 681.2,163.9 681.3,163.7 681.5,164.4 681.6,164.3 681.8,164.1 681.9,164.5 682.1,164.1 682.2,164.8 682.4,165 682.5,164.2 682.7,164 682.8,164.3 683,164.5 683.1,164.4 683.3,164.8 683.4,164.7 683.6,164.4 683.7,163.7 683.9,163.4 684,163.4 684.2,164.1 684.3,163.4 684.5,164.1 684.6,163.8 684.8,164.3 684.9,164.4 685.1,164.8 685.2,164.1 685.4,164.2 685.5,164.7 685.7,164.1 685.8,164.6 686,164.5 686.1,164.6 686.3,165.4 686.4,165.1 686.6,164.2 686.7,163.9 686.9,163.6 687,165.2 687.2,163.5 687.3,163.4 687.5,164 687.6,164 687.8,164.4 687.9,163.4 688.1,164.3 688.2,164.3 688.4,164.3 688.5,164.1 688.7,164.5 688.8,164 689,164.5 689.1,164.4 689.3,163.7 689.4,164.6 689.6,163.5 689.7,163.6 689.9,165.3 690,164 690.2,164 690.3,163.6 690.5,163.8 690.6,164.1 690.8,164.3 690.9,164.8 691.1,163.8 691.2,164.5 691.4,164 691.5,164.8 691.7,163.6 691.8,164.1 692,164.1 692.1,165.3 692.3,163.8 692.4,164 692.6,163.7 692.7,164.6 692.9,164.1 693,163.5 693.2,164.7 693.3,163.9 693.5,164.7 693.6,164.2 693.8,164.5 693.9,164 694.1,164.5 694.2,164.4 694.4,164 694.5,164.1 694.7,164.2 694.8,164.6 695,163.8 695.1,164.4 695.3,163.3 695.4,164 695.6,164.1 695.7,164.1 695.9,165 696,164.4 696.2,163.9 696.3,164.6 696.5,163.9 696.6,164.9 696.8,164.6 696.9,164.3 697.1,164.2 697.2,163.3 697.4,164.3 697.5,164.9 697.7,164.5 697.8,163.5 698,164.4 698.1,164.8 698.3,163.8 698.4,164 698.6,163.7 698.7,164.4 698.9,164.9 699,164.4 699.2,163.9 699.3,164.4 699.5,164.6 699.6,163.7 699.8,163.8 699.9,163.9 700.1,164.7 700.2,163.6 700.4,164.8 700.5,163.2 700.7,164 700.8,164.9 701,163.9 701.1,164.9 701.3,163.7 701.4,164.1 701.6,163.6 701.7,164.9 701.9,163.4 702,164.4 702.2,164.7 702.3,164 702.5,163.7 702.6,164.2 702.8,164.5 702.9,163.8 703.1,165.1 703.2,163.5 703.4,164.7 703.5,164.5 703.7,164.3 703.8,164.4 704,163.4 704.1,164.6 704.3,163.7 704.4,164.3 704.6,164.7 704.7,164.6 704.9,164.7 705,163.9 705.2,163.2 705.3,164.5 705.5,164.4 705.6,165 705.8,164 705.9,164.5 706.1,165.1 706.2,164.2 706.4,164.5 706.5,164.6 706.7,164.3 706.8,164.3 707,163.1 707.1,164.6 707.3,164.9 707.4,163.9 707.6,164.1 707.7,164.7 707.9,163.9 708,164.2 708.2,163.8 708.3,164.1 708.5,164.6 708.6,164 708.8,163.2 708.9,165 709.1,164.4 709.2,164.2 709.4,164.2 709.5,165.4 709.7,164.1 709.8,164.8 710,164 710.1,164.6 710.3,164.4 710.4,163.4 710.6,164.3 710.7,164.1 710.9,164.5 711,164.6 711.2,164.3 711.3,164.1 711.5,163.6 711.6,164.9 711.8,167.4 711.9,164 712.1,164.6 712.2,164.2 712.4,163.9 712.5,164.6 712.7,163.6 712.8,164 713,163.5 713.1,165 713.3,163.7 713.4,163.8 713.6,164 713.7,163.9 713.9,163.5 714,164.4 714.2,163.4 714.3,164.3 714.5,164.4 714.6,163.6 714.8,163.7 714.9,164.2 715.1,163.7 715.2,164.9 715.4,164.6 715.5,164.5 715.7,164.1 715.8,165.1 716,164 716.1,164.3 716.3,164.7 716.4,164.6 716.6,163.8 716.7,164 716.9,164.6 717,163.9 717.2,164.3 717.3,164.4 717.5,164.1 717.6,163.7 717.8,164.2 717.9,164.3 718.1,164.3 718.2,164.6 718.4,164.2 718.5,163.8 718.7,164.9 718.8,164.2 719,164.4 719.1,165 719.3,164.1 719.4,164 719.6,164.2 719.7,164 719.9,164 720,163.8 720.2,163.4 720.3,164.6 720.5,164.4 720.6,164.4 720.8,164.4 720.9,164.3 721.1,163.9 721.2,164.5 721.4,163.3 721.5,164 721.7,164.2 721.8,164.4 722,165.2 722.1,164.1 722.3,163.9 722.4,164.5 722.6,163.9 722.7,164.1 722.9,163.8 723,163.4 723.2,163.8 723.3,163.1 723.5,164.6 723.6,163.9 723.8,164 723.9,163 724.1,163.7 724.2,163.2 724.4,164.2 724.5,163.9 724.7,164.3 724.8,164 725,164.4 725.1,164.6 725.3,165.3 725.4,163.7 725.6,164.2 725.7,164.1 725.9,163.4 726,164.6 726.2,163.7 726.3,164.2 726.5,165 726.6,164.6 726.8,164.9 726.9,164 727.1,164.1 727.2,164.1 727.4,163.8 727.5,163.8 727.7,164.4 727.8,164.6 728,163.5 728.1,163.6 728.3,164.1 728.4,163 728.6,164 728.7,163.5 728.9,164.2 729,164.5 729.2,164 729.3,163.9 729.5,163.6 729.6,163.8 729.8,164.2 729.9,165.3 730.1,163.7 730.2,164.3 730.4,164.2 730.5,164.3 730.7,164.3 730.8,164 731,164.4 731.1,164.4 731.3,163.5 731.4,164.7 731.6,164.4 731.7,164.4 731.9,163.9 732,163.8 732.2,164.4 732.3,164.1 732.5,164.1 732.6,164.6 732.8,163.7 732.9,164.6 733.1,164.4 733.2,163.7 733.4,164.1 733.5,163.8 733.7,164.7 733.8,164 734,164.2 734.1,164.2 734.3,163.5 734.4,163.8 734.6,164.2 734.7,163.9 734.9,163.8 735,164.4 735.2,164.8 735.3,164.3 735.5,163.9 735.6,164.9 735.8,164 735.9,164.3 736.1,164.7 736.2,164.3 736.4,164.5 736.5,164.9 736.7,163.9 736.8,164 737,164.9 737.1,164.6 737.3,164.2 737.4,164.4 737.6,165.2 737.7,164.2 737.9,163.4 738,164.3 738.2,164.7 738.3,164.7 738.5,163.7 738.6,164.6 738.8,164.8 738.9,163.9 739.1,162.9 739.2,164.8 739.4,165.3 739.5,164.7 739.7,164.9 739.8,164.1 740,163.4 740.1,164.4 740.3,164.2 740.4,164.1 740.6,164.6 740.7,165.2 740.9,164.1 741,164.2 741.2,163.5 741.3,164 741.5,164.6 741.6,163.7 741.8,163.5 741.9,163.7 742.1,164.2 742.2,164.3 742.4,163.7 742.5,163.8 742.7,165.4 742.8,164.3 743,164.5 743.1,164.1 743.3,164.5 743.4,163.3 743.6,163.3 743.7,164.3 743.9,164.4 744,163.7 744.2,164.7 744.3,164.3 744.5,164.5 744.6,164.1 744.8,164.4 744.9,163.7 745.1,163.6 745.2,164.8 745.4,164.5 745.5,164.2 745.7,163.3 745.8,162.9 746,164.1 746.1,163.9 746.3,163.5 746.4,164.7 746.6,164.1 746.7,164.4 746.9,163.7 747,164.9 747.2,164.4 747.3,164.5 747.5,163.7 747.6,163.8 747.8,164.2 747.9,163.6 748.1,164.9 748.2,164.1 748.4,164.6 748.5,163.5 748.7,165 748.8,164.4 749,164.2 749.1,164.4 749.3,163.6 749.4,163.9 749.6,163.7 749.7,163.8 749.9,164.5 750,164.3 750.2,163.7 750.3,164.5 750.5,164.3 750.6,163.6 750.8,163.9 750.9,164.1 751.1,164.2 751.2,164.4 751.4,164.4 751.5,164.7 751.7,164.7 751.8,164.1 752,164.2 752.1,164 752.3,164.3 752.4,164.2 752.6,163.6 752.7,165.4 752.9,164.7 753,164.6 753.2,163.9 753.3,163.7 753.5,164.3 753.6,165 753.8,164 753.9,164.8 754.1,164.9 754.2,164.8 754.4,164 754.5,164.8 754.7,163.8 754.8,164.1 755,164.3 755.1,164.3 755.3,163.7 755.4,164.2 755.6,164.4 755.7,164.3 755.9,164.2 756,164.1 756.2,164.2 756.3,164.8 756.5,164.8 756.6,164.5 756.8,163.9 756.9,164.3 757.1,164.3 757.2,164.2 757.4,164.2 757.5,164.7 757.7,163.5 757.8,164.8 758,164.4 758.1,164.5 758.3,164.7 758.4,163.1 758.6,164.2 758.7,163.8 758.9,165 759,164.6 759.2,164.1 759.3,164.4 759.5,163.4 759.6,164.4 759.8,163.8 759.9,164 760.1,164.4 760.2,164.5 760.4,164.6 760.5,164.2 760.7,164 760.8,164.2 761,163.6 761.1,164.8 761.3,164.5 761.4,165 761.6,163.9 761.7,164.1 761.9,164.9 762,164.7 762.2,164 762.3,164 762.5,164.4 762.6,164.8 762.8,164 762.9,163.6 763.1,164.3 763.2,164.1 763.4,164.2 763.5,164.1 763.7,165.9 763.8,164 764,165.5 764.1,164.6 764.3,165.3 764.4,163.1 764.6,163.5 764.7,163 764.9,163.5 765,165.8 765.2,164.1 765.3,164.9 765.5,165.1 765.6,164.7 765.8,165.1 765.9,165 766.1,164.8 766.2,164.2 766.4,164.2 766.5,162.6 766.7,162.8 766.8,164.5 767,164.2 767.1,163 767.3,163.2 767.4,163.5 767.6,163 767.7,162.4 767.9,164.5 768,163 768.2,163.6 768.3,166.1 768.5,164.4 768.6,164.7 768.8,165.2 768.9,163.7 769.1,164.5 769.2,165.3 769.4,163.8 769.5,163.5 769.7,166.1 769.8,164 770,165 770.1,164.5 770.3,163.2 770.4,162.7 770.6,164.5 770.7,164.2 770.9,163.8 771,164.1 771.2,163.2 771.3,164 771.5,162.6 771.6,166.5 771.8,164.1 771.9,163.6 772.1,162.8 772.2,163.4 772.4,164.7 772.5,163.6 772.7,162.5 772.8,164.2 773,164.2 773.1,164.2 773.3,165.3 773.4,164.3 773.6,165.5 773.7,163.8 773.9,162.4 774,164.2 774.2,162.5 774.3,163.3 774.5,163.4 774.6,164.5 774.8,165.9 774.9,161.6 775.1,164.4 775.2,164.8 775.4,164.1 775.5,163.2 775.7,164.1 775.8,164.6 776,164.9 776.1,164.4 776.3,163.6 776.4,164.5 776.6,167.2 776.7,165 776.9,165.6 777,165.7 777.2,163.8 777.3,165.1 777.5,162.9 777.6,164.5 777.8,164.6 777.9,165 778.1,163.3 778.2,163 778.4,164.1 778.5,164.6 778.7,163.8 778.8,165.2 779,163.2 779.1,164.1 779.3,165.1 779.4,163.4 779.6,165.5 779.7,166.1 779.9,162.6 780,163.5 780.2,164.1 780.3,163.4 780.5,164.1 780.6,163.8 780.8,164.4 780.9,164.6 781.1,164.6 781.2,165 781.4,165.1 781.5,163.8 781.7,163.6 781.8,163.6 782,163.3 782.1,163.8 782.3,164.5 782.4,163 782.6,163.4 782.7,163.7 782.9,164.1 783,161.1 783.2,163.6 783.3,166 783.5,164.3 783.6,163.8 783.8,163.9 783.9,163.6 784.1,165.4 784.2,166 784.4,164.5 784.5,164.8 784.7,164.8 784.8,164.6 785,165.8 785.1,164.7 785.3,164.3 785.4,164.8 785.6,163 785.7,163.8 785.9,164.5 786,164.1 786.2,169.6 786.3,163.9 786.5,165.1 786.6,165.7 786.8,163.2 786.9,163.9 787.1,164.9 787.2,164.1 787.4,162.6 787.5,164 787.7,162.9 787.8,164.3 788,165.7 788.1,166 788.3,164.4 788.4,165.1 788.6,165.8 788.7,166.7 788.9,164.3 789,164.2 789.2,162.7 789.3,163.5 789.5,164.6 789.6,164.6 789.8,164.1 789.9,164.6 790.1,163.9 790.2,164.4 790.4,164.3 790.5,164.4 790.7,163.9 790.8,164.7 791,163.3 791.1,163.4 791.3,163.2 791.4,163.3 791.6,163.9 791.7,163.2 791.9,164.1 792,163.6 792.2,164.7 792.3,164.7 792.5,164.2 792.6,164.8 792.8,163.3 792.9,164.6 793.1,164.2 793.2,164.2 793.4,164.6 793.5,164.6 793.7,164.2 793.8,164.1 794,163.9 794.1,164.9 794.3,164.4 794.4,164 794.6,164.6 794.7,163.6 794.9,164.1 795,164.1 795.2,164.8 795.3,164.3 795.5,164 795.6,164.7 795.8,165 795.9,164.2 796.1,164.1 796.2,163.9 796.4,164.4 796.5,164.6 796.7,163.9 796.8,164.5 797,163.7 797.1,164.4 797.3,164.5 797.4,163.7 797.6,164.5 797.7,164 797.9,164.5 798,164.3 798.2,164.9 798.3,164.9 798.5,163.8 798.6,164.2 798.8,164.2 798.9,163.3 799.1,163.5 799.2,164 799.4,163.8 799.5,164.1 799.7,165 799.8,164 800,164 800.1,165.2 800.3,164.6 800.4,164.2 800.6,164 800.7,164.1 800.9,164.4 801,164.2 801.2,164.4 801.3,164.6 801.5,163.4 801.6,164.5 801.8,164.1 801.9,164.4 802.1,163.8 802.2,163.7 802.4,163.7 802.5,164.3 802.7,163.9 802.8,163.5 803,164.8 803.1,164.1 803.3,163.4 803.4,164 803.6,164.2 803.7,164.6 803.9,164.4 804,164.6 804.2,164.8 804.3,164.4 804.5,164.5 804.6,164.1 804.8,164 804.9,165.1 805.1,164 805.2,165 805.4,164 805.5,163.9 805.7,164.5 805.8,163.8 806,163.7 806.1,164.8 806.3,163.2 806.4,163.7 806.6,164.1 806.7,163.7 806.9,164.2 807,163.5 807.2,163.8 807.3,164 807.5,164.3 807.6,164.4 807.8,164.4 807.9,163.9 808.1,164.6 808.2,163.7 808.4,164.7 808.5,164.2 808.7,163.7 808.8,164.1 809,164 809.1,164.4 809.3,163.7 809.4,163.7 809.6,163.8 809.7,164.2 809.9,164 810,164.6 810.2,163.4 810.3,163.1 810.5,164.4 810.6,164.8 810.8,164.5 810.9,163.8 811.1,164.1 811.2,164.1 811.4,163.5 811.5,164.1 811.7,164.4 811.8,164.7 812,164.4 812.1,164.5 812.3,164.7 812.4,163.2 812.6,163.7 812.7,163.9 812.9,164.7 813,164.3 813.2,164.5 813.3,164.5 813.5,164 813.6,164 813.8,164.2 813.9,163.5 814.1,164.5 814.2,164.3 814.4,164.1 814.5,164.5 814.7,163.7 814.8,163.3 815,163.8 815.1,163.8 815.3,164.4 815.4,164 815.6,164.3 815.7,164 815.9,163.7 816,163.8 816.2,163.9 816.3,164.7 816.5,164.5 816.6,164.1 816.8,164.2 816.9,164.1 817.1,163.9 817.2,164.1 817.4,164 817.5,163.5 817.7,165 817.8,164.6 818,163.5 818.1,163.5 818.3,163.5 818.4,164 818.6,164.5 818.7,164.4 818.9,164.1 819,164.5 819.2,162.4 819.3,163.4 819.5,164.2 819.6,164.8 819.8,164.7 819.9,164.5 820.1,164 820.2,164.3 820.4,163.4 820.5,164.5 820.7,163.8 820.8,164.5 821,163.6 821.1,163.5 821.3,164.3 821.4,163.7 821.6,164.1 821.7,163.3 821.9,164.4 822,163.4 822.2,164.2 822.3,163.5 822.5,164.1 822.6,164.3 822.8,165.2 822.9,163.9 823.1,164.1 823.2,165.2 823.4,163.8 823.5,164 823.7,164.4 823.8,163.8 824,164 824.1,163.9 824.3,164.7 824.4,163.8 824.6,164.2 824.7,164.7 824.9,164.4 825,165.1 825.2,163.9 825.3,164.2 825.5,163.5 825.6,163.4 825.8,164.6 825.9,164.8 826.1,164.5 826.2,163.9 826.4,164.4 826.5,164.5 826.7,164.8 826.8,164 827,164 827.1,164.1 827.3,162.9 827.4,164.9 827.6,164.6 827.7,163.5 827.9,164.6 828,164 828.2,164.1 828.3,164 828.5,163.6 828.6,164 828.8,164.1 828.9,164.4 829.1,164.7 829.2,164.9 829.4,164.3 829.5,164.4 829.7,164.2 829.8,164.7 830,164.1 830.1,165 830.3,164 830.4,163.7 830.6,164 830.7,164.3 830.9,164.2 831,163.6 831.2,163.7 831.3,164.2 831.5,163.5 831.6,164.7 831.8,164.5 831.9,165.2 832.1,164.6 832.2,163.9 832.4,164.2 832.5,165.2 832.7,165.8 832.8,164.3 833,164.7 833.1,165.2 833.3,163.9 833.4,163.6 833.6,163.9 833.7,164 833.9,164.1 834,164.1 834.2,163.9 834.3,163.8 834.5,164.3 834.6,164 834.8,164.3 834.9,163.4 835.1,164.6 835.2,163.7 835.4,163.5 835.5,163.3 835.7,164.4 835.8,163.6 836,164.1 836.1,163.7 836.3,164.1 836.4,164.2 836.6,163.7 836.7,163.8 836.9,163.8 837,164 837.2,164.2 837.3,163.9 837.5,163.6 837.6,163.9 837.8,163.7 837.9,164.8 838.1,164.9 838.2,164.4 838.4,163.9 838.5,164.2 838.7,163.6 838.8,164.7 839,164.1 839.1,164.7 839.3,162.3 839.4,164 839.6,163.7 839.7,164.4 839.9,164.1 840,163.7 840.2,164 840.3,164 840.5,164.3 840.6,163.6 840.8,164 840.9,164.1 841.1,164.4 841.2,164.1 841.4,164 841.5,164.9 841.7,163.8 841.8,163.9 842,163.7 842.1,164.4 842.3,164.4 842.4,164.7 842.6,165 842.7,164.6 842.9,164.4 843,163.9 843.2,164.2 843.3,163.5 843.5,164.3 843.6,164.1 843.8,163.9 843.9,164 844.1,163.6 844.2,163.5 844.4,164 844.5,164.2 844.7,164.6 844.8,164.2 845,164.2 845.1,164.4 845.3,164.5 845.4,164.3 845.6,164.4 845.7,163.6 845.9,164.2 846,164.2 846.2,164.3 846.3,164.3 846.5,164.7 846.6,164 846.8,164.7 846.9,163.9 847.1,164.7 847.2,164.8 847.4,163.8 847.5,164.7 847.7,163.5 847.8,164.9 848,163 848.1,163.8 848.3,164.3 848.4,165.2 848.6,164.4 848.7,164.3 848.9,164.1 849,164.3 849.2,164.2 849.3,164.5 849.5,164.3 849.6,165.3 849.8,164.7 849.9,164.4 850.1,163.5 850.2,164.4 850.4,164.6 850.5,164.3 850.7,165.5 850.8,163.9 851,163.6 851.1,164.1 851.3,164.2 851.4,163.9 851.6,164 851.7,164.2 851.9,164.7 852,164.1 852.2,164.3 852.3,164.3 852.5,164.2 852.6,163.6 852.8,164.5 852.9,164.6 853.1,163.1 853.2,164.2 853.4,164 853.5,164 853.7,164.8 853.8,164.6 854,164.9 854.1,164.1 854.3,163.9 854.4,164.1 854.6,164.3 854.7,163.8 854.9,163.2 855,164.2 855.2,164.2 855.3,164.2 855.5,164.5 855.6,164.2 855.8,164.7 855.9,163.9 856.1,163.7 856.2,164.7 856.4,164.6 856.5,164 856.7,163.6 856.8,164.2 857,164.8 857.1,164.2 857.3,163.4 857.4,164.6 857.6,164.2 857.7,164.6 857.9,164.1 858,164 858.2,164.8 858.3,163.6 858.5,163 858.6,163.7 858.8,164.6 858.9,164.5 859.1,163.3 859.2,164 859.4,164.6 859.5,164.2 859.7,164.3 859.8,163.7 860,165.1 860.1,164.3 860.3,164.1 860.4,164.2 860.6,164.3 860.7,165.4 860.9,164.3 861,171.3 861.2,163.3 861.3,164.1 861.5,163.6 861.6,163.5 861.8,164.8 861.9,164 862.1,163.7 862.2,164.5 862.4,165.3 862.5,164.1 862.7,164.4 862.8,164.5 863,164 863.1,163.9 863.3,164.2 863.4,164.4 863.6,165 863.7,164 863.9,165.2 864,164.3 864.2,164.2 864.3,164 864.5,164.2 864.6,164.2 864.8,163.9 864.9,164.1 865.1,163.2 865.2,163.6 865.4,164.1 865.5,164.6 865.7,163.9 865.8,164.3 866,163.7 866.1,164 866.3,164.2 866.4,164 866.6,164 866.7,164.3 866.9,164.7 867,164.4 867.2,164.2 867.3,164.4 867.5,165 867.6,164.8 867.8,164.2 867.9,164 868.1,163.3 868.2,164.8 868.4,164.4 868.5,163.4 868.7,164 868.8,163.8 869,164.1 869.1,164.5 869.3,164.2 869.4,165 869.6,164.3 869.7,164.4 869.9,164.1 870,164.8 870.2,163.7 870.3,164.7 870.5,164.5 870.6,163.7 870.8,164.9 870.9,165.2 871.1,163.6 871.2,164.5 871.4,164 871.5,163.8 871.7,163.9 871.8,163.9 872,164.6 872.1,164.1 872.3,163.7 872.4,164.2 872.6,164.8 872.7,163.9 872.9,164.5 873,163.9 873.2,163.9 873.3,164.2 873.5,164 873.6,164.1 873.8,164.2 873.9,164.6 874.1,163.3 874.2,163.9 874.4,163.6 874.5,163.7 874.7,163.7 874.8,163.1 875,165.9 875.1,165.6 875.3,163.2 875.4,163.9 875.6,165.1 875.7,159.5 875.9,160.2 876,163.9 876.2,163.8 876.3,162.6 876.5,163.3 876.6,164.3 876.8,160 876.9,152.3 877.1,168.3 877.2,168 877.4,165.8 877.5,164.8 877.7,167.7 877.8,164.1 878,160.3 878.1,164.7 878.3,163.3 878.4,163.5 878.6,167.4 878.7,164.9 878.9,165.8 879,161.6 879.2,167.2 879.3,167.4 879.5,164.3 879.6,163.6 879.8,162.7 879.9,163.5 880.1,162.4 880.2,163.6 880.4,163.4 880.5,165.9 880.7,163.1 880.8,164.7 881,163.7 881.1,163.8 881.3,163.1 881.4,166.5 881.6,164.6 881.7,163.7 881.9,164.2 882,164.4 882.2,164 882.3,164.8 882.5,165.3 882.6,165.3 882.8,162.3 882.9,164 883.1,167.3 883.2,163.9 883.4,163.4 883.5,166.2 883.7,163.6 883.8,164.5 884,165.9 884.1,165.6 884.3,165.3 884.4,163.7 884.6,164.5 884.7,165.3 884.9,164.8 885,164.3 885.2,166.8 885.3,165.3 885.5,165.1 885.6,166 885.8,165.1 885.9,163.7 886.1,164.9 886.2,164.8 886.4,164.9 886.5,164.9 886.7,162.8 886.8,165 887,176.9 887.1,162.9 887.3,165.3 887.4,166 887.6,165.7 887.7,162.9 887.9,161.8 888,166.9 888.2,163.3 888.3,165.3 888.5,165.1 888.6,164.7 888.8,164 888.9,165 889.1,163.3 889.2,164.6 889.4,162.7 889.5,163.9 889.7,165 889.8,163.7 890,164.2 890.1,164.3 890.3,163.5 890.4,163.6 890.6,164.8 890.7,164.9 890.9,165.2 891,163.4 891.2,163 891.3,163.8 891.5,163.9 891.6,163.4 891.8,163.2 891.9,164.4 892.1,164.7 892.2,163.8 892.4,164.1 892.5,164.2 892.7,163.8 892.8,164.6 893,164.2 893.1,163.9 893.3,164.1 893.4,164.1 893.6,164.4 893.7,164.3 893.9,164.5 894,163.9 894.2,163.5 894.3,164.2 894.5,163.5 894.6,164.4 894.8,164.2 894.9,164.8 895.1,163.7 895.2,163.9 895.4,163.2 895.5,164.2 895.7,164.4 895.8,164.6 896,163.7 896.1,163.8 896.3,163.8 896.4,164.7 896.6,164.6 896.7,163.5 896.9,164.6 897,163.8 897.2,164.9 897.3,163.7 897.5,164.4 897.6,164.2 897.8,164.2 897.9,163.8 898.1,163.6 898.2,163.9 898.4,164.2 898.5,164.4 898.7,164.1 898.8,164.5 899,164.3 899.1,164.4 899.3,164.2 899.4,164.4 899.6,163.8 899.7,164.1 899.9,164.2 900,163.9 900.2,163.5 900.3,164.3 900.5,163.8 900.6,163.9 900.8,164.2 900.9,164.6 901.1,164.2 901.2,164.4 901.4,164.5 901.5,163.7 901.7,164.5 901.8,163.9 902,164.5 902.1,164.2 902.3,165.1 902.4,164.1 902.6,164.1 902.7,164.5 902.9,163.6 903,163.5 903.2,164.3 903.3,164.5 903.5,164 903.6,164 903.8,164.1 903.9,163.7 904.1,164.2 904.2,164.3 904.4,164.8 904.5,164.2 904.7,163.9 904.8,164.1 905,163.8 905.1,163.3 905.3,163.6 905.4,164.6 905.6,163.6 905.7,162.9 905.9,164.6 906,165.8 906.2,165.3 906.3,164.3 906.5,163.9 906.6,164 906.8,163.9 906.9,164.8 907.1,164.3 907.2,165.4 907.4,164.9 907.5,165.9 907.7,162.9 907.8,164.8 908,164.9 908.1,165.8 908.3,164.2 908.4,164.9 908.6,163 908.7,164.3 908.9,164.7 909,155.2 909.2,165.2 909.3,163.5 909.5,161.5 909.6,166.1 909.8,165.1 909.9,167 910.1,165 910.2,165.4 910.4,163.6 910.5,163.7 910.7,163.6 910.8,163.5 911,163.5 911.1,160.9 911.3,162 911.4,164.8 911.6,163.4 911.7,163.5 911.9,165.1 912,163.1 912.2,164 912.3,165.2 912.5,165.1 912.6,164 912.8,163.7 912.9,163.6 913.1,164.4 913.2,163.3 913.4,164.3 913.5,163.8 913.7,164.1 913.8,164.5 914,164 914.1,164.2 914.3,163.7 914.4,163.3 914.6,164.9 914.7,164.1 914.9,163.9 915,164.7 915.2,163.9 915.3,163.8 915.5,163.7 915.6,164.4 915.8,164.4 915.9,164.4 916.1,165.8 916.2,163.3 916.4,163.9 916.5,163.6 916.7,163.7 916.8,164.2 917,163.3 917.1,164.1 917.3,163.5 917.4,163.5 917.6,163.9 917.7,164.2 917.9,164.1 918,164.9 918.2,164.9 918.3,164.3 918.5,163.9 918.6,164.2 918.8,163.9 918.9,164 919.1,163.7 919.2,163.5 919.4,164.2 919.5,164.2 919.7,164.4 919.8,164.1 920,164.4 920.1,165 920.3,164.4 920.4,164.3 920.6,164.1 920.7,164 920.9,163.8 921,163.9 921.2,164.2 921.3,164.8 921.5,164.1 921.6,164.7 921.8,163.7 921.9,164.1 922.1,163.8 922.2,164.9 922.4,165.2 922.5,164.9 922.7,163.8 922.8,164.1 923,163.4 923.1,163.9 923.3,164.5 923.4,164.5 923.6,163.8 923.7,164.2 923.9,160 924,163.8 924.2,163.9 924.3,163.7 924.5,163.7 924.6,164.2 924.8,163.8 924.9,164.3 925.1,164.1 925.2,164.4 925.4,163.7 925.5,163.5 925.7,163.8 925.8,164.1 926,164.6 926.1,163.7 926.3,164.3 926.4,163.9 926.6,163.6 926.7,163.6 926.9,164.3 927,164 927.2,163.1 927.3,164.2 927.5,164.9 927.6,163.4 927.8,163.9 927.9,164.4 928.1,164.6 928.2,163.8 928.4,164.2 928.5,164.7 928.7,164.1 928.8,164.3 929,163.4 929.1,164 929.3,164.4 929.4,164 929.6,164.3 929.7,164.3 929.9,163.9 930,164.5 930.2,163.7 930.3,164.3 930.5,163.9 930.6,163.8 930.8,163.9 930.9,163.7 931.1,164.5 931.2,163.6 931.4,164.3 931.5,163.7 931.7,164.1 931.8,164.3 932,164.1 932.1,163.9 932.3,164.1 932.4,163.2 932.6,164 932.7,164.2 932.9,164.2 933,166.5 933.2,163.9 933.3,163.4 933.5,164.5 933.6,163.9 933.8,163.5 933.9,164.5 934.1,164.5 934.2,164.3 934.4,164.4 934.5,163.7 934.7,164 934.8,163.7 935,164.4 935.1,163.7 935.3,164.4 935.4,163.9 935.6,164.2 935.7,164.6 935.9,162.8 936,163.6 936.2,164.1 936.3,163.7 936.5,164.5 936.6,164.1 936.8,164.6 936.9,164.1 937.1,163.9 937.2,163.8 937.4,164.3 937.5,164.7 937.7,164.8 937.8,163.6 938,165.2 938.1,165.4 938.3,163 938.4,163.1 938.6,163.6 938.7,164.1 938.9,163.8 939,163.7 939.2,163.7 939.3,164.3 939.5,164.7 939.6,164.8 939.8,164.2 939.9,164.3 940.1,163.6 940.2,164.4 940.4,163.8 940.5,163.7 940.7,163.9 940.8,164.1 941,164.3 941.1,163.8 941.3,164.1 941.4,163.9 941.6,163.9 941.7,164 941.9,163.7 942,163.9 942.2,164.6 942.3,164 942.5,164.2 942.6,164.7 942.8,163.5 942.9,163.6 943.1,163.6 943.2,164.3 943.4,163.5 943.5,163.5 943.7,164.9 943.8,164.8 944,163.7 944.1,163.2 944.3,163.9 944.4,163.5 944.6,163.5 944.7,164.5 944.9,163.9 945,164 945.2,164.7 945.3,163.8 945.5,163.5 945.6,164.5 945.8,163.9 945.9,164.2 946.1,163.7 946.2,163.5 946.4,164 946.5,163.5 946.7,163.8 946.8,164.7 947,163.8 947.1,163.4 947.3,164 947.4,164.3 947.6,163.9 947.7,164 947.9,164.2 948,163.8 948.2,164.2 948.3,164.3 948.5,164.6 948.6,163.9 948.8,163.5 948.9,164.6 949.1,164.8 949.2,164 949.4,164.6 949.5,164.1 949.7,164.2 949.8,164.4 950,164.2 950.1,164 950.3,163.7 950.4,164.2 950.6,164.4 950.7,164.8 950.9,163.7 951,164.5 951.2,164.5 951.3,164.5 951.5,163.8 951.6,163.3 951.8,164.2 951.9,164.2 952.1,164.2 952.2,164 952.4,164.2 952.5,163.6 952.7,164.4 952.8,164.1 953,164.3 953.1,163.5 953.3,164.1 953.4,164.4 953.6,163.7 953.7,164 953.9,164 954,163.8 954.2,164.5 954.3,164.5 954.5,164.2 954.6,164.4 954.8,164.3 954.9,164.1 955.1,164.1 955.2,164.1 955.4,164.7 955.5,163.6 955.7,164.1 955.8,164.4 956,163.8 956.1,164.2 956.3,164.3 956.4,163.1 956.6,165 956.7,164.2 956.9,164 957,164.1 957.2,164.6 957.3,164.3 957.5,164 957.6,164.4 957.8,163.4 957.9,164.6 958.1,163.9 958.2,164.2 958.4,164.3 958.5,164.3 958.7,164.5 958.8,164 959,163.5 959.1,163.5 959.3,164.1 959.4,164.6 959.6,164 959.7,164.2 959.9,164.5 960,164.1 960.2,163.9 960.3,163.9 960.5,161.2 960.6,164.7 960.8,164.5 960.9,165 961.1,163.6 961.2,164.4 961.4,164.8 961.5,165.2 961.7,163.7 961.8,164.5 962,164.3 962.1,164.8 962.3,164.4 962.4,163.7 962.6,163.9 962.7,164.5 962.9,164.5 963,164 963.2,163.6 963.3,163.9 963.5,164.1 963.6,165.1 963.8,164.9 963.9,164.2 964.1,164.3 964.2,163.5 964.4,163.5 964.5,164.5 964.7,165 964.8,163.6 965,164.8 965.1,163.7 965.3,165.1 965.4,164.4 965.6,164.9 965.7,163.8 965.9,163.3 966,165 966.2,165.3 966.3,164.7 966.5,163.4 966.6,165 966.8,164.1 966.9,164.3 967.1,163.4 967.2,163.8 967.4,164.1 967.5,164.7 967.7,163.2 967.8,164.9 968,163.8 968.1,163.2 968.3,164.2 968.4,163.4 968.6,164 968.7,164.5 968.9,164 969,164.5 969.2,164.3 969.3,163.8 969.5,164.5 969.6,164.3 969.8,164.1 969.9,164.4 970.1,164 970.2,163.4 970.4,164.4 970.5,164.9 970.7,164.7 970.8,164.8 971,164.1 971.1,164.1 971.3,164 971.4,164 971.6,163.9 971.7,163.8 971.9,164.4 972,163.5 972.2,164.8 972.3,163.9 972.5,165.2 972.6,164.6 972.8,163.9 972.9,164.7 973.1,163.8 973.2,163.9 973.4,164.2 973.5,164.4 973.7,164.6 973.8,163.7 974,163.6 974.1,164.6 974.3,163.6 974.4,164.2 974.6,163.8 974.7,163.9 974.9,164.2 975,164.2 975.2,164.1 975.3,163.9 975.5,164.9 975.6,164 975.8,163.7 975.9,164 976.1,164.6 976.2,163.8 976.4,165.2 976.5,164 976.7,163.9 976.8,163.7 977,165 977.1,164.3 977.3,163.5 977.4,165.1 977.6,163.8 977.7,163.8 977.9,163.5 978,164 978.2,164.4 978.3,164 978.5,164.2 978.6,164 978.8,164 978.9,163.9 979.1,164.2 979.2,164.6 979.4,162.9 979.5,164.5 979.7,164.4 979.8,163.5 980,163.2 980.1,163.3 980.3,164.4 980.4,164 980.6,163.7 980.7,164.2 980.9,164 981,163.8 981.2,163.8 981.3,163.8 981.5,164.4 981.6,164.3 981.8,163.9 981.9,163.7 982.1,163.8 982.2,163.6 982.4,164.5 982.5,164.8 982.7,163.9 982.8,164.3 983,163.8 983.1,164.2 983.3,163.9 983.4,164.4 983.6,164.8 983.7,164.1 983.9,161.4 984,164 984.2,163.9 984.3,164.2 984.5,164.1 984.6,163.8 984.8,164.3 984.9,164.1 985.1,164.3 985.2,164.4 985.4,163.3 985.5,164.5 985.7,164.5 985.8,163.9 986,164.4 986.1,164.5 986.3,164.4 986.4,163.7 986.6,163.3 986.7,164.8 986.9,164.4 987,163.9 987.2,164.3 987.3,164.1 987.5,164.9 987.6,164 987.8,164 987.9,164.2 988.1,164 988.2,163.7 988.4,164.2 988.5,164.5 988.7,163.7 988.8,164.1 989,164.3 989.1,163.9 989.3,164.1 989.4,164.5 989.6,163.7 989.7,164.3 989.9,164.1 990,164 990.2,164.7 990.3,164 990.5,164.5 990.6,163.8 990.8,163.9 990.9,164.7 991.1,164.5 991.2,163.9 991.4,164.5 991.5,163.9 991.7,164 991.8,164.2 992,164.4 992.1,164.6 992.3,163.3 992.4,164 992.6,163.7 992.7,164 992.9,164 993,164.6 993.2,163.4 993.3,164.2 993.5,163.7 993.6,163.1 993.8,164.2 993.9,164 994.1,165 994.2,165.1 994.4,164.4 994.5,164.2 994.7,164 994.8,163.9 995,164.3 995.1,164.2 995.3,164.5 995.4,164.3 995.6,163.6 995.7,164 995.9,164.5 996,164.7 996.2,164.1 996.3,164 996.5,164.3 996.6,164.8 996.8,163.8 996.9,164.2 997.1,164.3 997.2,163.9 997.4,164.5 997.5,164.1 997.7,163.9 997.8,164 998,163.8 998.1,163.9 998.3,163.8 998.4,164.1 998.6,164.5 998.7,163.9 998.9,164.5 999,164.6 999.2,164.4 999.3,164.5 999.5,163.6 999.6,163.7 999.8,164.5 999.9,164 1000.1,163.8 1000.2,163.3 1000.4,164.6 1000.5,164.9 1000.7,163.8 1000.8,164.1 1001,163.6 1001.1,163.8 1001.3,163.3 1001.4,163.8 1001.6,164 1001.7,164.5 1001.9,164.2 1002,163.2 1002.2,164.4 1002.3,163.4 1002.5,164.3 1002.6,163.5 1002.8,164.8 1002.9,164.7 1003.1,163.5 1003.2,163.7 1003.4,165 1003.5,164.3 1003.7,164.5 1003.8,164.2 1004,164.5 1004.1,163.3 1004.3,164.1 1004.4,163.4 1004.6,164.1 1004.7,164.3 1004.9,163.7 1005,163.8 1005.2,163.8 1005.3,163.8 1005.5,164.6 1005.6,164.6 1005.8,164.1 1005.9,164.1 1006.1,163.6 1006.2,163.3 1006.4,164.1 1006.5,164 1006.7,164.1 1006.8,164.3 1007,164.1 1007.1,163.9 1007.3,163.7 1007.4,164.6 1007.6,163.3 1007.7,164.7 1007.9,164.2 1008,163.9 1008.2,163.3 1008.3,163.3 1008.5,163.8 1008.6,164.3 1008.8,164 1008.9,162.9 1009.1,164.6 1009.2,165 1009.4,164.4 1009.5,164.3 1009.7,164 1009.8,164.1 1010,164.1 1010.1,164.6 1010.3,163.7 1010.4,163.7 1010.6,164 1010.7,164.5 1010.9,164.3 1011,164.6 1011.2,164.2 1011.3,163.5 1011.5,163.6 1011.6,164.2 1011.8,164.1 1011.9,163.8 1012.1,163.9 1012.2,164.6 1012.4,164.4 1012.5,164.5 1012.7,164 1012.8,164 1013,164.2 1013.1,163.6 1013.3,164.4 1013.4,164 1013.6,164.5 1013.7,164.9 1013.9,163.6 1014,164 1014.2,164.3 1014.3,164.1 1014.5,163 1014.6,164.3 1014.8,163.9 1014.9,164 1015.1,164 1015.2,163.6 1015.4,164 1015.5,164.4 1015.7,164.5 1015.8,164 1016,163.9 1016.1,163.7 1016.3,163.8 1016.4,164 1016.6,163.4 1016.7,164.3 1016.9,164.3 1017,164.6 1017.2,164.1 1017.3,164.1 1017.5,163.9 1017.6,164.1 1017.8,164.4" fill="none" stroke="#000" stroke-width="0.9" stroke-linejoin="round" opacity="1"/>
<polyline points="585.2,167.4 585.4,177.9 585.5,193 585.6,175.2 585.8,174.1 585.9,175 586.1,175.2 586.2,169 586.4,172.5 586.5,179 586.7,175.6 586.8,165.8 587,180.8 587.1,182.6 587.3,174.8 587.4,180.3 587.6,177.7 587.7,182.1 587.9,175.5 588,162.7 588.2,169.3 588.3,171.6 588.5,174.6 588.6,164.8 588.8,160 588.9,171.8 589.1,171.5 589.2,175.1 589.4,166.9 589.5,176.2 589.7,169.5 589.8,177.4 590,181.3 590.1,167.1 590.3,162.7 590.4,176.3 590.6,165.3 590.7,169.7 590.9,177.5 591,184.4 591.2,169.4 591.3,169.6 591.5,171.3 591.6,169 591.8,178.9 591.9,173.3 592.1,166.2 592.2,170.1 592.4,181.6 592.5,164.7 592.7,164.3 592.8,175.6 593,183 593.1,174.6 593.3,172.2 593.4,173.4 593.6,180.5 593.7,174.6 593.9,169.2 594,180.3 594.2,170.5 594.3,167.7 594.5,178.1 594.6,166.6 594.8,172.9 594.9,168.8 595.1,169.5 595.2,169.5 595.4,172.3 595.5,162.9 595.7,168.8 595.8,175.5 596,172.5 596.1,169.1 596.3,175.4 596.4,169.2 596.6,169.4 596.7,175.5 596.9,171.7 597,165.7 597.2,171.4 597.3,173.8 597.5,172.1 597.6,166.9 597.8,166.1 597.9,169.3 598.1,165.2 598.2,167.2 598.4,167.4 598.5,170.8 598.7,169.5 598.8,168 599,169.7 599.1,170 599.3,172 599.4,168.1 599.6,165.8 599.7,173.3 599.9,173 600,168.7 600.2,170.2 600.3,167.4 600.5,163.3 600.6,174.8 600.8,174 600.9,172.9 601.1,169.1 601.2,174.1 601.4,165.5 601.5,165.6 601.7,168.6 601.8,171.8 602,170.2 602.1,166.7 602.3,166.5 602.4,167.8 602.6,169.7 602.7,169.3 602.9,167.1 603,174.5 603.2,171.2 603.3,169.6 603.5,169.9 603.6,169.3 603.8,165.7 603.9,167.5 604.1,168.5 604.2,169.9 604.4,170 604.5,171 604.7,168.3 604.8,169.5 605,166.2 605.1,168.7 605.3,167.1 605.4,171.6 605.6,167.5 605.7,170.7 605.9,170.4 606,168.1 606.2,173.7 606.3,170.5 606.5,169 606.6,167.1 606.8,168.9 606.9,171.1 607.1,169.1 607.2,167.9 607.4,171.6 607.5,170.8 607.7,169.9 607.8,170.8 608,168.3 608.1,168.5 608.3,168.9 608.4,171.4 608.6,171.1 608.7,173.7 608.9,165.2 609,171.9 609.2,168.1 609.3,168 609.5,170.6 609.6,170 609.8,170.7 609.9,170.2 610.1,171.4 610.2,170.3 610.4,167.5 610.5,168.4 610.7,167 610.8,167.3 611,169.3 611.1,166.5 611.3,170 611.4,168.9 611.6,168.4 611.7,169.5 611.9,168.7 612,171.2 612.2,169 612.3,169.6 612.5,169 612.6,168.8 612.8,168.8 612.9,170 613.1,169.4 613.2,168.1 613.4,170.9 613.5,167.9 613.7,170.2 613.8,170 614,170.4 614.1,171.6 614.3,168.2 614.4,169.9 614.6,175.8 614.7,169.6 614.9,169 615,169.7 615.2,168.5 615.3,170.2 615.5,170.2 615.6,168.3 615.8,168.8 615.9,169.7 616.1,170.4 616.2,168.7 616.4,170.7 616.5,169.1 616.7,169.3 616.8,169.2 617,169.8 617.1,170.4 617.3,169.5 617.4,170.1 617.6,169.7 617.7,169.4 617.9,170.5 618,170.1 618.2,169.8 618.3,170.8 618.5,169.5 618.6,169.7 618.8,169.2 618.9,168 619.1,168.7 619.2,171.1 619.4,169.7 619.5,167.6 619.7,169.8 619.8,169.6 620,169.8 620.1,168.7 620.3,169.3 620.4,167.4 620.6,169.3 620.7,167.8 620.9,169.4 621,168.3 621.2,168.9 621.3,168.8 621.5,169.7 621.6,169.4 621.8,170.2 621.9,170.6 622.1,169.5 622.2,168.1 622.4,168.6 622.5,169.4 622.7,169.3 622.8,169.6 623,170.9 623.1,171.5 623.3,169.6 623.4,170.3 623.6,170.8 623.7,168.7 623.9,169.5 624,170.2 624.2,170.4 624.3,169.9 624.5,170.5 624.6,170.2 624.8,169.5 624.9,170.1 625.1,169.5 625.2,169.9 625.4,170.3 625.5,170 625.7,169.7 625.8,169.4 626,169 626.1,168.1 626.3,169.1 626.4,168.5 626.6,170.1 626.7,170.3 626.9,169.1 627,169 627.2,168.2 627.3,170.4 627.5,169.1 627.6,168.9 627.8,170.1 627.9,168.3 628.1,170.6 628.2,170 628.4,170.1 628.5,169.5 628.7,169.5 628.8,169.5 629,169.4 629.1,169.4 629.3,170.1 629.4,169.1 629.6,169.5 629.7,170.1 629.9,169.7 630,168.9 630.2,170.2 630.3,170.1 630.5,169.9 630.6,169.2 630.8,169.8 630.9,168.1 631.1,169.6 631.2,169.1 631.4,169.3 631.5,169 631.7,170.5 631.8,169.2 632,171.3 632.1,170.7 632.3,169 632.4,168.5 632.6,169.3 632.7,170.1 632.9,170.8 633,168.7 633.2,169.5 633.3,168.8 633.5,169.6 633.6,169.1 633.8,171 633.9,168.5 634.1,169.5 634.2,170.4 634.4,169.7 634.5,169.1 634.7,168.7 634.8,169.5 635,170.1 635.1,169.6 635.3,170.2 635.4,170.5 635.6,169.4 635.7,171 635.9,170.3 636,168.8 636.2,168.6 636.3,169.3 636.5,170.3 636.6,169.6 636.8,168.9 636.9,169 637.1,169.3 637.2,169.7 637.4,169.7 637.5,169.7 637.7,169.9 637.8,169.3 638,169.6 638.1,169.1 638.3,169 638.4,169.7 638.6,170 638.7,169.8 638.9,169.3 639,169.5 639.2,168.8 639.3,169.3 639.5,169.6 639.6,170.1 639.8,168.8 639.9,169.3 640.1,169.3 640.2,169.4 640.4,169.8 640.5,168.8 640.7,170.2 640.8,170.4 641,169.7 641.1,169.4 641.3,170.7 641.4,168.6 641.6,169.7 641.7,169.9 641.9,169.6 642,169.5 642.2,169.4 642.3,168.7 642.5,170.2 642.6,169.7 642.8,169.1 642.9,168.7 643.1,168.5 643.2,168.9 643.4,170.1 643.5,169.3 643.7,169.5 643.8,169.9 644,169.8 644.1,169.7 644.3,169.2 644.4,169.7 644.6,169.3 644.7,170.2 644.9,170.3 645,169.4 645.2,169.7 645.3,169.5 645.5,169.1 645.6,169.7 645.8,169.7 645.9,169.3 646.1,169.7 646.2,169.5 646.4,169.4 646.5,169.9 646.7,169.5 646.8,169.3 647,169.4 647.1,169.7 647.3,169.3 647.4,170.2 647.6,169.5 647.7,170.3 647.9,168.7 648,168.9 648.2,168.8 648.3,170.1 648.5,170 648.6,169.7 648.8,170.8 648.9,169 649.1,168.2 649.2,169.6 649.4,170.4 649.5,169.5 649.7,169 649.8,169.5 650,168.4 650.1,169 650.3,169.7 650.4,170.1 650.6,169.4 650.7,169.7 650.9,167.6 651,168.9 651.2,169.1 651.3,169.6 651.5,168.6 651.6,169.8 651.8,168.8 651.9,170.5 652.1,169.6 652.2,169.5 652.4,167.8 652.5,169.1 652.7,169.2 652.8,169.7 653,169.8 653.1,169.3 653.3,170.4 653.4,170 653.6,169.2 653.7,169.4 653.9,170.1 654,170.4 654.2,169.8 654.3,169 654.5,169.6 654.6,169.5 654.8,168.6 654.9,169.1 655.1,170.4 655.2,169.5 655.4,170.8 655.5,169.7 655.7,169.4 655.8,169.9 656,169.4 656.1,168.7 656.3,169.4 656.4,168.9 656.6,168.8 656.7,170 656.9,169.5 657,170.4 657.2,169.5 657.3,169.7 657.5,169.2 657.6,169.9 657.8,169.3 657.9,170 658.1,169.2 658.2,170 658.4,169.4 658.5,169.5 658.7,169.5 658.8,170.1 659,169 659.1,170.4 659.3,169.9 659.4,169.7 659.6,170.3 659.7,169.8 659.9,168.9 660,169.3 660.2,169.6 660.3,169.1 660.5,169.4 660.6,170.4 660.8,169.3 660.9,168 661.1,168 661.2,167 661.4,167.5 661.5,168.7 661.7,169.2 661.8,170 662,170.9 662.1,171.2 662.3,171.7 662.4,169.8 662.6,165.2 662.7,169.7 662.9,166.8 663,171.4 663.2,170.3 663.3,170.5 663.5,170.3 663.6,171.4 663.8,172.1 663.9,167.8 664.1,170.5 664.2,169.7 664.4,164.2 664.5,166.9 664.7,167.2 664.8,166.5 665,172.6 665.1,168.4 665.3,170.4 665.4,190.3 665.6,170 665.7,171.4 665.9,172.4 666,165.8 666.2,174.4 666.3,168.9 666.5,166.5 666.6,172.4 666.8,162.4 666.9,170 667.1,169 667.2,166.4 667.4,168.8 667.5,167.1 667.7,172 667.8,168.9 668,167.9 668.1,166.6 668.3,173.1 668.4,169.2 668.6,170.7 668.7,167.1 668.9,169.4 669,165.2 669.2,170.8 669.3,167.9 669.5,167.4 669.6,173.4 669.8,171.4 669.9,168.1 670.1,170.2 670.2,168 670.4,172.2 670.5,169 670.7,171.3 670.8,172 671,169.2 671.1,168.6 671.3,168.7 671.4,170.3 671.6,169.3 671.7,168.6 671.9,170.1 672,169.2 672.2,169.6 672.3,169.7 672.5,169.4 672.6,169.6 672.8,169.3 672.9,169.4 673.1,169.6 673.2,168.7 673.4,170.5 673.5,168.5 673.7,169.7 673.8,170 674,169.9 674.1,169.7 674.3,169.7 674.4,169.3 674.6,170.5 674.7,169.2 674.9,169 675,170.8 675.2,168.9 675.3,169.3 675.5,169.3 675.6,169.4 675.8,172.4 675.9,170.1 676.1,170.4 676.2,169.6 676.4,169 676.5,168.4 676.7,168.7 676.8,168.9 677,170.1 677.1,169.2 677.3,169 677.4,169.6 677.6,169.9 677.7,168.9 677.9,169.2 678,168.9 678.2,169.8 678.3,169.4 678.5,168.8 678.6,170.4 678.8,170.8 678.9,169 679.1,168.6 679.2,169.8 679.4,170.1 679.5,170.2 679.7,169.6 679.8,170.1 680,169.8 680.1,169.2 680.3,169.5 680.4,170.2 680.6,169.9 680.7,170.1 680.9,169.4 681,168.8 681.2,169.3 681.3,169.6 681.5,169.8 681.6,170.6 681.8,170.2 681.9,169.9 682.1,169 682.2,170.3 682.4,168.7 682.5,169.3 682.7,171 682.8,169.7 683,169.3 683.1,169.3 683.3,169.3 683.4,170 683.6,168.7 683.7,171.2 683.9,168.7 684,169.8 684.2,169.9 684.3,169.1 684.5,170.4 684.6,169.8 684.8,169.7 684.9,169.7 685.1,170.3 685.2,169.8 685.4,169.6 685.5,169.4 685.7,169.7 685.8,169.7 686,169.6 686.1,168.9 686.3,169.1 686.4,170 686.6,169.2 686.7,169.4 686.9,170.2 687,169.6 687.2,169.3 687.3,168.5 687.5,169.6 687.6,164.2 687.8,169.1 687.9,169.6 688.1,169.5 688.2,169.2 688.4,169.9 688.5,169.5 688.7,169.6 688.8,169.4 689,169.6 689.1,170.1 689.3,170.2 689.4,169.9 689.6,168.8 689.7,168.1 689.9,169.1 690,168.9 690.2,170.2 690.3,169.6 690.5,170.7 690.6,169.5 690.8,169.7 690.9,170 691.1,168.9 691.2,169.7 691.4,169.8 691.5,168.3 691.7,169.2 691.8,169.4 692,169.7 692.1,169.1 692.3,169 692.4,169.6 692.6,170.3 692.7,169.9 692.9,169.8 693,169.3 693.2,169.4 693.3,169.7 693.5,169.8 693.6,168.6 693.8,169.6 693.9,168.7 694.1,169.8 694.2,171.2 694.4,168.6 694.5,168.9 694.7,169.3 694.8,168.8 695,170.6 695.1,167.9 695.3,168.7 695.4,168.9 695.6,169.6 695.7,170.3 695.9,169 696,167.6 696.2,169.9 696.3,169.2 696.5,171.5 696.6,168.4 696.8,171.1 696.9,167.8 697.1,167.4 697.2,167.9 697.4,171.2 697.5,168.7 697.7,169.4 697.8,170.2 698,168.4 698.1,170 698.3,169.7 698.4,168.4 698.6,168.6 698.7,168.2 698.9,168.8 699,169.8 699.2,170.9 699.3,169.3 699.5,169.7 699.6,169.2 699.8,169.6 699.9,169.4 700.1,169.8 700.2,169.5 700.4,170.1 700.5,169.3 700.7,169.9 700.8,168.9 701,169.9 701.1,170.6 701.3,169.4 701.4,169.5 701.6,169.5 701.7,169.4 701.9,169.7 702,170.3 702.2,169.6 702.3,169.7 702.5,170 702.6,170.5 702.8,168.9 702.9,169.1 703.1,169.8 703.2,169.7 703.4,169.2 703.5,169.7 703.7,168.4 703.8,169.3 704,169.9 704.1,170.4 704.3,168.8 704.4,169.3 704.6,168.6 704.7,169 704.9,169.3 705,169.5 705.2,169.5 705.3,170.3 705.5,170.2 705.6,169 705.8,169.7 705.9,169.4 706.1,169.1 706.2,169.8 706.4,168.5 706.5,168.9 706.7,170 706.8,169.1 707,169.8 707.1,169.1 707.3,169.1 707.4,169.7 707.6,170.2 707.7,169.7 707.9,169.7 708,169.4 708.2,169.6 708.3,169.2 708.5,169.7 708.6,169 708.8,169.9 708.9,168.7 709.1,170.9 709.2,169.5 709.4,168.9 709.5,169.7 709.7,169.6 709.8,170.4 710,169.8 710.1,169.5 710.3,169.4 710.4,169 710.6,169.4 710.7,170 710.9,169.3 711,169.3 711.2,169.6 711.3,169.9 711.5,169.1 711.6,170.6 711.8,169.6 711.9,169.9 712.1,169.9 712.2,169.5 712.4,169.1 712.5,169.6 712.7,169.6 712.8,169.6 713,170.1 713.1,170 713.3,169.3 713.4,170 713.6,170 713.7,170.2 713.9,169.5 714,170.4 714.2,169.9 714.3,169.1 714.5,169.6 714.6,170.3 714.8,169.6 714.9,169.6 715.1,168.9 715.2,170.3 715.4,169.6 715.5,169.3 715.7,168.9 715.8,169.5 716,170.3 716.1,169 716.3,169 716.4,169.4 716.6,169.6 716.7,168.7 716.9,169.8 717,169.6 717.2,169.1 717.3,170.8 717.5,170.4 717.6,169.6 717.8,169.1 717.9,170.1 718.1,169.8 718.2,168.5 718.4,168.5 718.5,169.6 718.7,170.3 718.8,169.4 719,169.2 719.1,169.2 719.3,170.4 719.4,169.4 719.6,170.3 719.7,169.4 719.9,169.6 720,170 720.2,170 720.3,169.9 720.5,169.4 720.6,169.4 720.8,167.7 720.9,169.2 721.1,169.2 721.2,166.2 721.4,169 721.5,167.4 721.7,173.2 721.8,169.7 722,170.9 722.1,169.4 722.3,168.9 722.4,171 722.6,169 722.7,170 722.9,169.3 723,169 723.2,170.1 723.3,168.8 723.5,170.5 723.6,170.2 723.8,169 723.9,168.6 724.1,168.7 724.2,169.5 724.4,169.8 724.5,170.3 724.7,169.3 724.8,169.4 725,167.7 725.1,169.4 725.3,170.6 725.4,169.3 725.6,169 725.7,168.9 725.9,169.6 726,170.4 726.2,169.5 726.3,169.9 726.5,168.2 726.6,169.4 726.8,168.9 726.9,167.9 727.1,168.1 727.2,169.4 727.4,170.3 727.5,168.1 727.7,169.5 727.8,170.3 728,168.8 728.1,167.4 728.3,171.5 728.4,171.5 728.6,170 728.7,169.7 728.9,169.9 729,170.2 729.2,170 729.3,169.5 729.5,169.5 729.6,168.9 729.8,169.7 729.9,168.8 730.1,169.8 730.2,169.7 730.4,169.2 730.5,170 730.7,170.3 730.8,169.1 731,169 731.1,170.6 731.3,169.5 731.4,169.6 731.6,169.3 731.7,169.8 731.9,169.2 732,169.4 732.2,169.7 732.3,169.8 732.5,170 732.6,169.9 732.8,168.8 732.9,169.2 733.1,169.3 733.2,169.7 733.4,169.9 733.5,169.7 733.7,169.5 733.8,168.8 734,168.8 734.1,169.4 734.3,168.8 734.4,169.1 734.6,169.5 734.7,168.9 734.9,170 735,168.7 735.2,169.8 735.3,168.8 735.5,169.8 735.6,170.5 735.8,170.4 735.9,169.1 736.1,169.6 736.2,169.7 736.4,169.3 736.5,170 736.7,168.6 736.8,168.9 737,169.5 737.1,169 737.3,169.3 737.4,169 737.6,170.4 737.7,168.8 737.9,168.5 738,169.7 738.2,169.6 738.3,169.3 738.5,168.8 738.6,169.9 738.8,169.8 738.9,170.1 739.1,169.6 739.2,169.3 739.4,169.8 739.5,169.2 739.7,169 739.8,169 740,169.8 740.1,162.9 740.3,170 740.4,168.7 740.6,169.4 740.7,169.2 740.9,169.7 741,169.7 741.2,170.1 741.3,169.3 741.5,168.9 741.6,169.3 741.8,169.8 741.9,170.3 742.1,169.2 742.2,168.6 742.4,170.2 742.5,169.7 742.7,168.6 742.8,169.5 743,169.8 743.1,169.5 743.3,169.3 743.4,169.7 743.6,169.7 743.7,170 743.9,169.2 744,169.7 744.2,169.5 744.3,169.6 744.5,169.2 744.6,169.5 744.8,168.8 744.9,170.5 745.1,170.2 745.2,169.9 745.4,169.2 745.5,170.5 745.7,169.1 745.8,169.1 746,169.2 746.1,170 746.3,169.2 746.4,168.7 746.6,168.1 746.7,169.7 746.9,168.8 747,169.4 747.2,169.2 747.3,169.8 747.5,169 747.6,169.2 747.8,169.2 747.9,169.7 748.1,169.1 748.2,168.6 748.4,169.9 748.5,169.3 748.7,169.6 748.8,168.9 749,169.5 749.1,169.8 749.3,169 749.4,169.4 749.6,168.5 749.7,169.3 749.9,169.1 750,168.3 750.2,168.7 750.3,169.1 750.5,169.3 750.6,169.9 750.8,169.5 750.9,169.2 751.1,168.9 751.2,169.9 751.4,169.9 751.5,168.9 751.7,169.6 751.8,168.8 752,168.8 752.1,169.7 752.3,169.6 752.4,169.6 752.6,169.6 752.7,169.4 752.9,170.3 753,169.7 753.2,169.8 753.3,169.9 753.5,169.6 753.6,169.4 753.8,168.8 753.9,169.7 754.1,169.8 754.2,171.3 754.4,169.3 754.5,168.9 754.7,169.8 754.8,168.9 755,169.9 755.1,169.8 755.3,170.1 755.4,169.3 755.6,169.2 755.7,169.2 755.9,169.4 756,170 756.2,169.7 756.3,169.9 756.5,169.7 756.6,169.6 756.8,168.9 756.9,169.5 757.1,169.5 757.2,169.7 757.4,169.5 757.5,169.4 757.7,170.5 757.8,169.6 758,169.7 758.1,170.1 758.3,168.5 758.4,169.3 758.6,169.3 758.7,168.4 758.9,169.1 759,169.4 759.2,168.4 759.3,169.5 759.5,169.5 759.6,169 759.8,169.2 759.9,169.3 760.1,168.9 760.2,169.8 760.4,169 760.5,168.8 760.7,169.1 760.8,168.3 761,169 761.1,171.1 761.3,170.5 761.4,169.9 761.6,167.7 761.7,169.2 761.9,169.8 762,168 762.2,168.4 762.3,168.8 762.5,169.2 762.6,171.4 762.8,169.4 762.9,171 763.1,170.2 763.2,168.5 763.4,168.5 763.5,169.6 763.7,168.2 763.8,169.6 764,170.1 764.1,168.8 764.3,168.9 764.4,171 764.6,168.4 764.7,169.7 764.9,168.3 765,170.8 765.2,168.7 765.3,170 765.5,169.6 765.6,169.5 765.8,170.4 765.9,171.4 766.1,169.9 766.2,170.9 766.4,168.1 766.5,170.2 766.7,166 766.8,168.9 767,171.6 767.1,168.5 767.3,169.7 767.4,170.9 767.6,170.3 767.7,170.4 767.9,170.9 768,170.7 768.2,171.9 768.3,170.4 768.5,168.3 768.6,172.4 768.8,168.4 768.9,169.4 769.1,169.2 769.2,171 769.4,169.5 769.5,167.5 769.7,168.9 769.8,167.9 770,169.9 770.1,170.3 770.3,171.6 770.4,169.7 770.6,169 770.7,168.9 770.9,168.6 771,166.7 771.2,173.7 771.3,169.6 771.5,170.4 771.6,171.4 771.8,171 771.9,167.7 772.1,169 772.2,171.5 772.4,169.9 772.5,170 772.7,168.3 772.8,169.9 773,167 773.1,169.8 773.3,168.9 773.4,169.8 773.6,170.7 773.7,168.7 773.9,167.3 774,165.6 774.2,168.9 774.3,169 774.5,167.1 774.6,168 774.8,168.9 774.9,167.9 775.1,169.5 775.2,170.7 775.4,171.6 775.5,170.6 775.7,169.4 775.8,170.5 776,168.8 776.1,167 776.3,169.6 776.4,166.3 776.6,166.6 776.7,170.3 776.9,170.3 777,170 777.2,167.1 777.3,166.3 777.5,171.5 777.6,167.3 777.8,167.9 777.9,170.2 778.1,170.3 778.2,166.1 778.4,169.4 778.5,169.8 778.7,170.9 778.8,169.2 779,178 779.1,166.7 779.3,168.3 779.4,169.2 779.6,169.1 779.7,170.7 779.9,169.6 780,168 780.2,169.9 780.3,170.7 780.5,169.7 780.6,169 780.8,170.3 780.9,168.4 781.1,167.2 781.2,170.5 781.4,170 781.5,169.7 781.7,170.7 781.8,171 782,168.7 782.1,169 782.3,170.5 782.4,167.9 782.6,166.7 782.7,168.2 782.9,170.2 783,169.5 783.2,168.3 783.3,172 783.5,170.7 783.6,168 783.8,168.9 783.9,169.8 784.1,168 784.2,170 784.4,168.6 784.5,168.2 784.7,171.2 784.8,169.2 785,169.1 785.1,170.2 785.3,167.4 785.4,170.4 785.6,168.2 785.7,168.9 785.9,170.7 786,169.1 786.2,169 786.3,170.6 786.5,168.3 786.6,170.7 786.8,170.3 786.9,169.9 787.1,169.2 787.2,167.4 787.4,167.2 787.5,171 787.7,171.1 787.8,168.7 788,167.4 788.1,168.3 788.3,169.8 788.4,172 788.6,170.2 788.7,168.4 788.9,167.2 789,168.2 789.2,168.1 789.3,169.2 789.5,170 789.6,170.1 789.8,168.7 789.9,169.3 790.1,169.6 790.2,169.5 790.4,169 790.5,170.1 790.7,170.2 790.8,169.7 791,169.5 791.1,169.7 791.3,168.2 791.4,169.4 791.6,170 791.7,168.8 791.9,169.7 792,170.2 792.2,169.7 792.3,169.4 792.5,168.7 792.6,170 792.8,169.2 792.9,171 793.1,169.1 793.2,169 793.4,169.6 793.5,169.1 793.7,168.9 793.8,168.9 794,169.7 794.1,168.7 794.3,169.9 794.4,169.6 794.6,168.5 794.7,169 794.9,169 795,169.9 795.2,169.5 795.3,169 795.5,169.7 795.6,168.8 795.8,169.1 795.9,169.9 796.1,169.2 796.2,168.4 796.4,169.4 796.5,169 796.7,169.1 796.8,169.6 797,169.7 797.1,169.2 797.3,169.7 797.4,168.4 797.6,169.7 797.7,169.2 797.9,169.4 798,169.7 798.2,168.5 798.3,169.1 798.5,169.3 798.6,169.8 798.8,169.2 798.9,170.5 799.1,169.2 799.2,169.6 799.4,169.5 799.5,169.5 799.7,169.8 799.8,169.1 800,169.7 800.1,169.7 800.3,167.2 800.4,169 800.6,168.8 800.7,169.9 800.9,168.8 801,169.7 801.2,170 801.3,169.2 801.5,168.9 801.6,168.7 801.8,169.9 801.9,169.1 802.1,169.9 802.2,169.5 802.4,170.2 802.5,168.9 802.7,169.8 802.8,169.4 803,169.3 803.1,168.7 803.3,168.9 803.4,169.1 803.6,169.8 803.7,169 803.9,169.1 804,169.4 804.2,169.2 804.3,170 804.5,169.7 804.6,168.7 804.8,168.8 804.9,169.2 805.1,169.4 805.2,169.5 805.4,169.2 805.5,169.7 805.7,169.4 805.8,169.3 806,169.5 806.1,169.1 806.3,169.5 806.4,168.6 806.6,168.9 806.7,169.5 806.9,169.1 807,169.9 807.2,169.6 807.3,169.1 807.5,169.7 807.6,168.8 807.8,169.2 807.9,169 808.1,169.9 808.2,169.6 808.4,168.7 808.5,169.6 808.7,169.1 808.8,169.3 809,169.1 809.1,169.2 809.3,170.2 809.4,169.7 809.6,169.3 809.7,168.9 809.9,169.5 810,170 810.2,169.7 810.3,168.8 810.5,169.8 810.6,169.8 810.8,169.7 810.9,169.3 811.1,165.1 811.2,169.7 811.4,170.1 811.5,169.9 811.7,168.7 811.8,169.5 812,169.8 812.1,169 812.3,168.6 812.4,168.5 812.6,170.1 812.7,169.6 812.9,169.5 813,169 813.2,169 813.3,169.5 813.5,169.2 813.6,169.2 813.8,169.4 813.9,169.9 814.1,169.6 814.2,170 814.4,169 814.5,169.6 814.7,169.5 814.8,169.8 815,169.7 815.1,168.9 815.3,169.7 815.4,169.4 815.6,169.9 815.7,168.4 815.9,169 816,169.7 816.2,169.3 816.3,168.5 816.5,168.6 816.6,170 816.8,169 816.9,169.2 817.1,169.9 817.2,170.5 817.4,169.5 817.5,169.9 817.7,169.3 817.8,169 818,170.3 818.1,169.4 818.3,169.8 818.4,169.4 818.6,169.2 818.7,170 818.9,169 819,170 819.2,170.4 819.3,166.5 819.5,168.6 819.6,169.9 819.8,169 819.9,169.3 820.1,168.3 820.2,169.6 820.4,169.3 820.5,169.9 820.7,169.9 820.8,169 821,169.8 821.1,169.6 821.3,169.9 821.4,170.4 821.6,169.4 821.7,169.3 821.9,169 822,169.2 822.2,170.1 822.3,169.1 822.5,169.5 822.6,169.2 822.8,168.5 822.9,169.3 823.1,169.9 823.2,169.3 823.4,169.2 823.5,169.5 823.7,168.5 823.8,169.3 824,169 824.1,168.8 824.3,169.8 824.4,169.3 824.6,169.1 824.7,172.5 824.9,169.3 825,168.6 825.2,169.8 825.3,163.9 825.5,169.5 825.6,169.4 825.8,168.5 825.9,168.8 826.1,169.7 826.2,169.2 826.4,169.2 826.5,168.6 826.7,170.6 826.8,169.2 827,172.8 827.1,170.6 827.3,169.2 827.4,168.7 827.6,170.1 827.7,168.7 827.9,168.7 828,170.2 828.2,168.9 828.3,169 828.5,169.6 828.6,169.4 828.8,168.8 828.9,169.5 829.1,169.3 829.2,170.3 829.4,168.7 829.5,169.4 829.7,169.9 829.8,169.3 830,169.2 830.1,169.1 830.3,168.3 830.4,169.2 830.6,169.1 830.7,169.6 830.9,168.9 831,168.7 831.2,168.8 831.3,169.6 831.5,169.4 831.6,168.9 831.8,169.2 831.9,169.2 832.1,170.2 832.2,169.4 832.4,168.9 832.5,169.5 832.7,169.6 832.8,170.4 833,169 833.1,169.8 833.3,169.6 833.4,168.6 833.6,169 833.7,169.8 833.9,169 834,169.7 834.2,169.8 834.3,168.9 834.5,166.3 834.6,169.4 834.8,169.5 834.9,168.7 835.1,168.9 835.2,169.7 835.4,169.6 835.5,169.7 835.7,169.5 835.8,169.5 836,169.5 836.1,169.4 836.3,168.7 836.4,168.8 836.6,169 836.7,168.8 836.9,168.7 837,168.9 837.2,168.8 837.3,169.7 837.5,169.4 837.6,169.2 837.8,169.4 837.9,169.8 838.1,170.1 838.2,170.1 838.4,169.3 838.5,169.4 838.7,169.5 838.8,169.5 839,169.1 839.1,169.2 839.3,169.4 839.4,168.4 839.6,168.6 839.7,169 839.9,169.1 840,168.4 840.2,170.7 840.3,168.9 840.5,170.2 840.6,169.2 840.8,169.9 840.9,169 841.1,168.7 841.2,169.1 841.4,169 841.5,168.7 841.7,169.8 841.8,170.6 842,169 842.1,170.1 842.3,168.8 842.4,169.5 842.6,169.4 842.7,169.4 842.9,170.1 843,168.9 843.2,169.7 843.3,169.4 843.5,170 843.6,169.2 843.8,170.1 843.9,169.5 844.1,168.9 844.2,169.1 844.4,168.8 844.5,169.6 844.7,169.1 844.8,169.2 845,168.2 845.1,169.5 845.3,168.6 845.4,169.3 845.6,169.9 845.7,169.7 845.9,168.4 846,168.9 846.2,168.8 846.3,169.8 846.5,169 846.6,168.2 846.8,169 846.9,169.2 847.1,170.3 847.2,169.5 847.4,169.6 847.5,168.8 847.7,169.2 847.8,168.4 848,169.1 848.1,169.1 848.3,168.7 848.4,169.3 848.6,168.7 848.7,169.9 848.9,169.2 849,168.8 849.2,168.5 849.3,168.9 849.5,169.3 849.6,170.1 849.8,169.3 849.9,169.2 850.1,169 850.2,175.5 850.4,168.8 850.5,169.6 850.7,169.6 850.8,170.3 851,168.8 851.1,169 851.3,169.3 851.4,168.8 851.6,169.5 851.7,169.4 851.9,169.2 852,169.1 852.2,169.5 852.3,169.6 852.5,169.9 852.6,169.5 852.8,169.2 852.9,169.2 853.1,169.8 853.2,169.5 853.4,168.7 853.5,169.5 853.7,169.3 853.8,169.6 854,168.7 854.1,169.3 854.3,169.3 854.4,170.3 854.6,169.3 854.7,169.1 854.9,169 855,169.6 855.2,167.9 855.3,169.7 855.5,169.7 855.6,170.4 855.8,169.3 855.9,169.6 856.1,169.4 856.2,168.9 856.4,169.3 856.5,169.6 856.7,169 856.8,168.7 857,169.3 857.1,169.1 857.3,168.9 857.4,169.3 857.6,170.1 857.7,169 857.9,169.7 858,168.9 858.2,170.1 858.3,170 858.5,166.4 858.6,169.5 858.8,170.1 858.9,169.3 859.1,168.8 859.2,168.7 859.4,171.4 859.5,169 859.7,168.1 859.8,168.9 860,169.4 860.1,169.3 860.3,169.3 860.4,168.3 860.6,170.3 860.7,169.1 860.9,168.9 861,169.5 861.2,169.5 861.3,169.7 861.5,168.6 861.6,168.8 861.8,168.6 861.9,169.8 862.1,169.2 862.2,170 862.4,169.4 862.5,169.7 862.7,169.8 862.8,169.9 863,169.2 863.1,169.1 863.3,169.1 863.4,169.1 863.6,169.4 863.7,169.6 863.9,169.2 864,170.7 864.2,170 864.3,168.8 864.5,168.9 864.6,168.9 864.8,168.9 864.9,169.5 865.1,169.9 865.2,169.1 865.4,169.4 865.5,169.4 865.7,169.1 865.8,169.1 866,169.7 866.1,168.6 866.3,168.7 866.4,169 866.6,169.8 866.7,169.7 866.9,169.7 867,169.2 867.2,168.9 867.3,168.6 867.5,168.8 867.6,168.2 867.8,169 867.9,169 868.1,169 868.2,170.3 868.4,168.5 868.5,169.4 868.7,169.2 868.8,168.6 869,169.2 869.1,169.2 869.3,170.1 869.4,168.9 869.6,169.2 869.7,170.2 869.9,169.4 870,169.1 870.2,168.7 870.3,169.2 870.5,169.1 870.6,169.1 870.8,168.5 870.9,169.2 871.1,169.5 871.2,169.2 871.4,169 871.5,168.9 871.7,169 871.8,169.5 872,169.6 872.1,169.7 872.3,169.1 872.4,168.7 872.6,169.2 872.7,168.7 872.9,169 873,169.5 873.2,168.7 873.3,169 873.5,169.7 873.6,171.6 873.8,169.8 873.9,170 874.1,168.9 874.2,168.5 874.4,169.1 874.5,169.3 874.7,169.8 874.8,169.2 875,167.7 875.1,170.5 875.3,168 875.4,167.2 875.6,170.3 875.7,173 875.9,170.1 876,166.7 876.2,172.3 876.3,170.6 876.5,174.1 876.6,167.5 876.8,166.6 876.9,180.4 877.1,170 877.2,170.5 877.4,166.5 877.5,166.3 877.7,170.7 877.8,173 878,167.3 878.1,176.4 878.3,171.8 878.4,170.7 878.6,171.7 878.7,164.6 878.9,173 879,172 879.2,169.1 879.3,172.8 879.5,170 879.6,168.6 879.8,172.4 879.9,171.8 880.1,169.4 880.2,167.7 880.4,169.1 880.5,168.7 880.7,168.1 880.8,170.8 881,170 881.1,169.3 881.3,169.4 881.4,168.1 881.6,168.2 881.7,169.7 881.9,170.5 882,169.8 882.2,167.7 882.3,172.6 882.5,167.5 882.6,168.5 882.8,169.2 882.9,169.8 883.1,169.9 883.2,165.6 883.4,167.4 883.5,169.6 883.7,170.2 883.8,170.6 884,170.5 884.1,168 884.3,169.8 884.4,168.6 884.6,167.4 884.7,170.4 884.9,167.7 885,170.1 885.2,167.7 885.3,167.8 885.5,166.9 885.6,167.3 885.8,168.7 885.9,172.3 886.1,170.1 886.2,167.3 886.4,168.8 886.5,170.1 886.7,171.2 886.8,168.9 887,171 887.1,168.8 887.3,166.6 887.4,171.8 887.6,167.6 887.7,167.4 887.9,168 888,176.9 888.2,171 888.3,169.9 888.5,171.4 888.6,169.6 888.8,168.2 888.9,168 889.1,168 889.2,171.7 889.4,168.8 889.5,170.8 889.7,168.5 889.8,169.5 890,169 890.1,170.5 890.3,169.7 890.4,169.6 890.6,169.2 890.7,169.2 890.9,170.3 891,168.5 891.2,170.2 891.3,168.9 891.5,170 891.6,169.5 891.8,168.7 891.9,168.5 892.1,168.1 892.2,169.2 892.4,168.8 892.5,170 892.7,169 892.8,169.8 893,169.5 893.1,169.2 893.3,169.2 893.4,168.9 893.6,168.4 893.7,169.6 893.9,168.6 894,169.8 894.2,168.4 894.3,168.9 894.5,171.6 894.6,169.4 894.8,169.7 894.9,169.8 895.1,168.6 895.2,169 895.4,168.8 895.5,170.1 895.7,169.6 895.8,169.4 896,170.8 896.1,169.2 896.3,170.1 896.4,168.9 896.6,169.1 896.7,169.6 896.9,168.3 897,169.1 897.2,168.4 897.3,168.8 897.5,169.3 897.6,169.2 897.8,170.5 897.9,169 898.1,168.7 898.2,168.6 898.4,168.9 898.5,168.9 898.7,168.7 898.8,169 899,169.2 899.1,168.9 899.3,168.9 899.4,169.2 899.6,168.9 899.7,169.4 899.9,169.7 900,169.6 900.2,169 900.3,169.5 900.5,169.5 900.6,169.5 900.8,169.9 900.9,168.5 901.1,168.6 901.2,169 901.4,168.9 901.5,168.8 901.7,168.3 901.8,168.6 902,169 902.1,169.3 902.3,169.4 902.4,168.6 902.6,169.6 902.7,169.7 902.9,169.3 903,170.3 903.2,168.8 903.3,170.4 903.5,169.5 903.6,168.3 903.8,168.8 903.9,168.6 904.1,169.7 904.2,168.4 904.4,169.4 904.5,169.4 904.7,169.7 904.8,169.7 905,169.9 905.1,169.3 905.3,169.3 905.4,169.7 905.6,169 905.7,169.5 905.9,168.9 906,170.4 906.2,168.7 906.3,168.6 906.5,167.8 906.6,169.1 906.8,169.6 906.9,169.4 907.1,169.8 907.2,166.4 907.4,169.2 907.5,167.8 907.7,170.3 907.8,168.7 908,170 908.1,171.6 908.3,171.4 908.4,168.3 908.6,168.4 908.7,167.4 908.9,167.9 909,171 909.2,168.3 909.3,169.4 909.5,168.1 909.6,166.1 909.8,166.9 909.9,176.3 910.1,167 910.2,167.5 910.4,169.4 910.5,168 910.7,166.8 910.8,169 911,168.6 911.1,168 911.3,169.4 911.4,170.6 911.6,168.9 911.7,169.2 911.9,169.6 912,169.2 912.2,169.9 912.3,169 912.5,169.3 912.6,169.9 912.8,168.7 912.9,168.6 913.1,169.2 913.2,169.8 913.4,169 913.5,168.7 913.7,169.7 913.8,168.5 914,168.8 914.1,168.6 914.3,168.5 914.4,168.4 914.6,168.4 914.7,168.9 914.9,168.7 915,169.8 915.2,168.9 915.3,169.2 915.5,171 915.6,169 915.8,169.6 915.9,169.2 916.1,169.1 916.2,169.4 916.4,168.4 916.5,169.2 916.7,169.6 916.8,169.6 917,169.4 917.1,169.1 917.3,169.5 917.4,169.3 917.6,169 917.7,168.6 917.9,169.3 918,171.6 918.2,170.1 918.3,170 918.5,169.7 918.6,169.3 918.8,169 918.9,170 919.1,169.1 919.2,169 919.4,169.1 919.5,169.3 919.7,169.5 919.8,168.9 920,169.3 920.1,169.5 920.3,169.6 920.4,168.6 920.6,168.7 920.7,169.5 920.9,168.9 921,169.1 921.2,168.9 921.3,170.1 921.5,168.6 921.6,169.6 921.8,168.8 921.9,169 922.1,169.1 922.2,169.4 922.4,168.8 922.5,168.3 922.7,169.1 922.8,169.2 923,169.2 923.1,169 923.3,169.2 923.4,169.5 923.6,169.7 923.7,168.9 923.9,169.8 924,169.4 924.2,169 924.3,169.8 924.5,170.2 924.6,168.5 924.8,169 924.9,169.6 925.1,168.9 925.2,168.1 925.4,169.5 925.5,169.2 925.7,169.2 925.8,170.1 926,169.7 926.1,169.3 926.3,168.8 926.4,169.3 926.6,168.5 926.7,168.6 926.9,168.6 927,169.7 927.2,169.1 927.3,168.9 927.5,168.8 927.6,168.8 927.8,168.8 927.9,169 928.1,169.4 928.2,169.7 928.4,169.4 928.5,169.5 928.7,169.3 928.8,169.9 929,169 929.1,170.1 929.3,168.8 929.4,170 929.6,170.1 929.7,169.1 929.9,168.8 930,169.3 930.2,169.4 930.3,175.1 930.5,168.9 930.6,170 930.8,168.3 930.9,169.4 931.1,169.5 931.2,168.7 931.4,170.2 931.5,169.4 931.7,169.9 931.8,168.8 932,169.4 932.1,169.5 932.3,169.2 932.4,169.3 932.6,170.2 932.7,169.4 932.9,170.3 933,168.5 933.2,169.3 933.3,169 933.5,169.7 933.6,169.2 933.8,169 933.9,168.2 934.1,169.3 934.2,169 934.4,168.9 934.5,168.6 934.7,169.5 934.8,168.6 935,168.9 935.1,169.9 935.3,169.4 935.4,168.9 935.6,168.2 935.7,169.7 935.9,168.7 936,169.4 936.2,169 936.3,169.3 936.5,169.3 936.6,168.8 936.8,168.9 936.9,168.3 937.1,169.1 937.2,168.9 937.4,169.2 937.5,170 937.7,169.9 937.8,168.2 938,168.9 938.1,169.9 938.3,169 938.4,169.4 938.6,169.2 938.7,170 938.9,169.7 939,168.9 939.2,168.6 939.3,169.4 939.5,168.5 939.6,169.6 939.8,168.7 939.9,170 940.1,169.5 940.2,168.9 940.4,169.6 940.5,168 940.7,169.2 940.8,168.3 941,169.6 941.1,169.1 941.3,168.6 941.4,168.6 941.6,169.4 941.7,169.3 941.9,169.1 942,170 942.2,169 942.3,168.8 942.5,169.1 942.6,169 942.8,170.2 942.9,169.1 943.1,168.6 943.2,169.8 943.4,170 943.5,174 943.7,168.6 943.8,168.4 944,169 944.1,168.9 944.3,169.4 944.4,168.9 944.6,169.1 944.7,168.8 944.9,169.7 945,169.2 945.2,169.8 945.3,169.9 945.5,168.8 945.6,169.7 945.8,168.9 945.9,169.5 946.1,168.4 946.2,168.6 946.4,169.6 946.5,169.7 946.7,168 946.8,169.2 947,169.7 947.1,169.4 947.3,168.8 947.4,169.4 947.6,169.5 947.7,169.2 947.9,170.1 948,169.7 948.2,170 948.3,169.8 948.5,169.5 948.6,169.7 948.8,169.1 948.9,169.4 949.1,169.4 949.2,167.9 949.4,168.4 949.5,169.2 949.7,170.4 949.8,169 950,168.9 950.1,167.1 950.3,169.2 950.4,169.5 950.6,168.8 950.7,169.7 950.9,169.1 951,168.6 951.2,169.2 951.3,169.3 951.5,169.2 951.6,169.2 951.8,169.9 951.9,169.3 952.1,169 952.2,169.2 952.4,168.9 952.5,169.2 952.7,169.2 952.8,168.4 953,169.3 953.1,168.8 953.3,169.2 953.4,169.1 953.6,169.7 953.7,169.1 953.9,169.5 954,170.2 954.2,169.2 954.3,168.7 954.5,169.3 954.6,169.3 954.8,169.1 954.9,169.1 955.1,168.6 955.2,169.5 955.4,168 955.5,169.4 955.7,169.7 955.8,169.6 956,169.1 956.1,169.1 956.3,168.6 956.4,169.7 956.6,168.9 956.7,168.7 956.9,169 957,169.7 957.2,168.6 957.3,170.1 957.5,168.9 957.6,169.2 957.8,169.9 957.9,169.2 958.1,169.5 958.2,169.8 958.4,169.7 958.5,169.3 958.7,169.1 958.8,169 959,168.5 959.1,169.4 959.3,169.2 959.4,169.2 959.6,169.4 959.7,168.8 959.9,169.1 960,169.1 960.2,169.6 960.3,169.3 960.5,169.6 960.6,168.8 960.8,169.4 960.9,169.1 961.1,169.5 961.2,169.6 961.4,169 961.5,168.8 961.7,168.1 961.8,168.9 962,169.4 962.1,169.5 962.3,169.8 962.4,169.3 962.6,168.8 962.7,168.4 962.9,169 963,169 963.2,169 963.3,169.6 963.5,169.1 963.6,169.5 963.8,168.9 963.9,168.6 964.1,169.2 964.2,169.1 964.4,169.5 964.5,169.2 964.7,169.1 964.8,169.4 965,170.2 965.1,169.2 965.3,169.3 965.4,169.1 965.6,168.6 965.7,169.3 965.9,169.4 966,169.2 966.2,169.3 966.3,169.7 966.5,168.5 966.6,169.2 966.8,169.3 966.9,168.8 967.1,169 967.2,170.2 967.4,168.7 967.5,169.9 967.7,169.3 967.8,168.5 968,169.2 968.1,169 968.3,168.8 968.4,169.7 968.6,169.5 968.7,169 968.9,168.4 969,170 969.2,170.4 969.3,169.8 969.5,170 969.6,168.6 969.8,169.2 969.9,169.9 970.1,169.9 970.2,170.3 970.4,168.8 970.5,168.7 970.7,168.4 970.8,169.1 971,169.4 971.1,169.6 971.3,169.3 971.4,168.7 971.6,169.1 971.7,169.2 971.9,168.5 972,168.8 972.2,169.2 972.3,169.7 972.5,168.8 972.6,169.3 972.8,169.2 972.9,169.4 973.1,168.9 973.2,168.8 973.4,169.5 973.5,168.9 973.7,169.8 973.8,169.8 974,168.8 974.1,169.5 974.3,169.1 974.4,169.6 974.6,168.4 974.7,169.7 974.9,169 975,168.8 975.2,168.3 975.3,168.8 975.5,169.3 975.6,169.7 975.8,168.2 975.9,169 976.1,169.3 976.2,168.9 976.4,169.5 976.5,169.2 976.7,169.9 976.8,169.3 977,168.5 977.1,169.3 977.3,169.8 977.4,169.1 977.6,168.8 977.7,168.5 977.9,169.6 978,169.3 978.2,169.5 978.3,168.8 978.5,168.9 978.6,169 978.8,169.2 978.9,169.2 979.1,170.1 979.2,169 979.4,169.4 979.5,169.2 979.7,169.4 979.8,170.1 980,168.7 980.1,169.5 980.3,169.4 980.4,169 980.6,169 980.7,169.7 980.9,169.5 981,170 981.2,169.2 981.3,168.8 981.5,168.6 981.6,169.1 981.8,169.5 981.9,169.5 982.1,168.7 982.2,169 982.4,169.4 982.5,168.8 982.7,169.5 982.8,169.8 983,168.7 983.1,168.8 983.3,168.9 983.4,169.6 983.6,169.5 983.7,168.7 983.9,169.4 984,169 984.2,168.7 984.3,169.8 984.5,169.7 984.6,168.2 984.8,169.4 984.9,169.2 985.1,169.5 985.2,168.7 985.4,169.7 985.5,169.6 985.7,169.3 985.8,169 986,168.7 986.1,168.3 986.3,169.9 986.4,172.2 986.6,169.2 986.7,169.7 986.9,169 987,169.5 987.2,169.6 987.3,168 987.5,169.8 987.6,169.9 987.8,168.8 987.9,168.5 988.1,164.6 988.2,168.5 988.4,169.8 988.5,169.4 988.7,168.6 988.8,168.5 989,168.7 989.1,169.4 989.3,169.5 989.4,169.2 989.6,168.8 989.7,168.9 989.9,168.8 990,169.5 990.2,168.4 990.3,169.2 990.5,168.8 990.6,168.8 990.8,169.7 990.9,169.1 991.1,169.5 991.2,169.7 991.4,169.5 991.5,168.8 991.7,169.3 991.8,169.1 992,169.5 992.1,169.2 992.3,168.5 992.4,169.7 992.6,169.4 992.7,169.2 992.9,168.7 993,169.2 993.2,169.3 993.3,169.2 993.5,169.3 993.6,168.8 993.8,167.8 993.9,169.1 994.1,169.8 994.2,170.3 994.4,169.5 994.5,169.2 994.7,169.3 994.8,168.7 995,169.1 995.1,168.7 995.3,168.9 995.4,169.9 995.6,170.5 995.7,169.5 995.9,170 996,168.9 996.2,169 996.3,169.3 996.5,169.4 996.6,168.7 996.8,169.4 996.9,168.4 997.1,169.5 997.2,169.6 997.4,169.8 997.5,169.4 997.7,169.1 997.8,168.6 998,168.8 998.1,171.2 998.3,169.3 998.4,168.9 998.6,168.8 998.7,170 998.9,169 999,170.1 999.2,169.3 999.3,168.5 999.5,169.5 999.6,169.2 999.8,168.5 999.9,169.1 1000.1,169 1000.2,168.4 1000.4,169.1 1000.5,168.5 1000.7,168 1000.8,169 1001,168.9 1001.1,169.9 1001.3,168.6 1001.4,169 1001.6,168.6 1001.7,169.7 1001.9,168.6 1002,169 1002.2,169.2 1002.3,168.6 1002.5,168.5 1002.6,168.4 1002.8,168.8 1002.9,168.3 1003.1,168.8 1003.2,169.3 1003.4,170 1003.5,169.2 1003.7,168.4 1003.8,169 1004,169.4 1004.1,169.2 1004.3,168.8 1004.4,169.7 1004.6,168.9 1004.7,168.7 1004.9,168.8 1005,168.9 1005.2,168.5 1005.3,169.2 1005.5,168.9 1005.6,170 1005.8,169 1005.9,169.5 1006.1,169.4 1006.2,169.1 1006.4,169.2 1006.5,168.9 1006.7,168.8 1006.8,169 1007,169 1007.1,169 1007.3,168.7 1007.4,169.3 1007.6,169.4 1007.7,169.6 1007.9,169.5 1008,168.7 1008.2,169.1 1008.3,168.8 1008.5,169.3 1008.6,168.2 1008.8,168.9 1008.9,169.7 1009.1,169.4 1009.2,169.1 1009.4,168.8 1009.5,169.2 1009.7,168.8 1009.8,169.8 1010,169.1 1010.1,168.4 1010.3,168.7 1010.4,169.1 1010.6,169.3 1010.7,168.9 1010.9,168.6 1011,168.9 1011.2,168.4 1011.3,168.3 1011.5,168.6 1011.6,168.8 1011.8,169.2 1011.9,168.9 1012.1,168.7 1012.2,168.2 1012.4,169.1 1012.5,168.6 1012.7,170.1 1012.8,168.1 1013,169.6 1013.1,169.4 1013.3,168.7 1013.4,168.9 1013.6,169 1013.7,169.1 1013.9,169 1014,168.8 1014.2,161.5 1014.3,169.7 1014.5,169.6 1014.6,169.3 1014.8,169.5 1014.9,169.2 1015.1,168.5 1015.2,169.3 1015.4,169.2 1015.5,169.4 1015.7,169.1 1015.8,169.3 1016,168.7 1016.1,169.5 1016.3,169.3 1016.4,162.4 1016.6,168.6 1016.7,169.4 1016.9,168.3 1017,169 1017.2,169.4 1017.3,170.1 1017.5,168.4 1017.6,168.9 1017.8,168.7" fill="none" stroke="#ff0000" stroke-width="0.9" stroke-linejoin="round" opacity="1"/>
<polyline points="585.2,169.9 585.4,162.6 585.5,155.3 585.6,141 585.8,160.9 585.9,166.3 586.1,161.9 586.2,161 586.4,162.1 586.5,164.5 586.7,171.6 586.8,160.3 587,163.5 587.1,172.2 587.3,159.6 587.4,154.4 587.6,166.6 587.7,174.6 587.9,165 588,174.4 588.2,162.5 588.3,161.8 588.5,159.1 588.6,157.5 588.8,165.2 588.9,159.7 589.1,164.6 589.2,153 589.4,154.3 589.5,160.6 589.7,160.3 589.8,162.4 590,159.7 590.1,153 590.3,160.5 590.4,167.8 590.6,164.3 590.7,161.2 590.9,176.1 591,160.8 591.2,153.7 591.3,158.7 591.5,158.3 591.6,169 591.8,169.4 591.9,166.5 592.1,150.7 592.2,163.8 592.4,168 592.5,167.5 592.7,157.5 592.8,162.8 593,156.1 593.1,170.3 593.3,159.2 593.4,162.6 593.6,128.3 593.7,157.8 593.9,165.1 594,150 594.2,161.4 594.3,161.7 594.5,169.8 594.6,161.5 594.8,161.5 594.9,162.1 595.1,166.5 595.2,164.5 595.4,157.8 595.5,165.6 595.7,163.9 595.8,136.6 596,163.3 596.1,162.8 596.3,165.2 596.4,151.7 596.6,156.1 596.7,156.1 596.9,173.6 597,172 597.2,162.2 597.3,166.9 597.5,161.6 597.6,159.4 597.8,170.1 597.9,166.6 598.1,158.8 598.2,165.6 598.4,168.2 598.5,160.1 598.7,160.4 598.8,159.8 599,164.7 599.1,162 599.3,159.6 599.4,162.3 599.6,158.3 599.7,160.7 599.9,160.8 600,164.4 600.2,163.8 600.3,163.4 600.5,169.2 600.6,161 600.8,162.2 600.9,168.3 601.1,159.5 601.2,160.9 601.4,161 601.5,163.4 601.7,161.4 601.8,163.1 602,160.5 602.1,167.7 602.3,158.7 602.4,161.2 602.6,162.5 602.7,158.7 602.9,161.6 603,165 603.2,161.6 603.3,164.8 603.5,164.7 603.6,164.6 603.8,165 603.9,159 604.1,161.2 604.2,170.3 604.4,158.7 604.5,163.1 604.7,164.9 604.8,163.3 605,163.8 605.1,161.1 605.3,161.2 605.4,162.3 605.6,163.8 605.7,159.4 605.9,163.3 606,165 606.2,163.3 606.3,159.3 606.5,162.4 606.6,162.5 606.8,159.3 606.9,165.5 607.1,162.5 607.2,160.5 607.4,164.1 607.5,159 607.7,163.4 607.8,158.5 608,159.4 608.1,164.8 608.3,161.3 608.4,163.6 608.6,162.5 608.7,161.1 608.9,163.3 609,163.4 609.2,164.8 609.3,162.8 609.5,163.1 609.6,164.1 609.8,163.5 609.9,161.3 610.1,165.1 610.2,161.2 610.4,161.5 610.5,162.6 610.7,163.6 610.8,162.8 611,160.7 611.1,163.6 611.3,163.7 611.4,161 611.6,164.2 611.7,164 611.9,161.6 612,163.5 612.2,163.9 612.3,162.7 612.5,162.9 612.6,162.8 612.8,163 612.9,161.8 613.1,163.4 613.2,161.6 613.4,163.1 613.5,161.8 613.7,160.9 613.8,161.9 614,156 614.1,161.5 614.3,163.5 614.4,162.6 614.6,163.2 614.7,162.7 614.9,162.4 615,162.2 615.2,162 615.3,164.1 615.5,161.7 615.6,164.7 615.8,163.5 615.9,163.1 616.1,161.9 616.2,162.9 616.4,163 616.5,163.8 616.7,162.1 616.8,161.9 617,162.3 617.1,162.5 617.3,160.8 617.4,162.2 617.6,162.2 617.7,161.6 617.9,163.2 618,163.9 618.2,161.9 618.3,162.8 618.5,163.3 618.6,162.8 618.8,163.4 618.9,162.1 619.1,162.7 619.2,160.7 619.4,162.1 619.5,164.3 619.7,162.5 619.8,163 620,162.4 620.1,162.1 620.3,162.9 620.4,163.4 620.6,162.6 620.7,164.4 620.9,163.7 621,162.9 621.2,163.7 621.3,163.2 621.5,161.6 621.6,164.7 621.8,161.7 621.9,161.7 622.1,162.8 622.2,162.5 622.4,163 622.5,162.4 622.7,163.3 622.8,163 623,162.1 623.1,161.9 623.3,162.2 623.4,162.4 623.6,161.2 623.7,161.4 623.9,162.8 624,162.3 624.2,161.9 624.3,163.3 624.5,163 624.6,162.8 624.8,161.4 624.9,162.6 625.1,161.4 625.2,162.4 625.4,163.1 625.5,162.9 625.7,163.5 625.8,161.4 626,163.2 626.1,162 626.3,161.6 626.4,162.7 626.6,162.7 626.7,161.4 626.9,164.1 627,160.9 627.2,162.8 627.3,162.2 627.5,162.9 627.6,161.7 627.8,161.8 627.9,162 628.1,162.3 628.2,161.9 628.4,162.1 628.5,161.4 628.7,161.9 628.8,161.8 629,161.6 629.1,162.6 629.3,161.6 629.4,162.8 629.6,161.9 629.7,161.3 629.9,162.6 630,164 630.2,161.6 630.3,162.3 630.5,162.9 630.6,163.9 630.8,162.9 630.9,162.5 631.1,163 631.2,162.8 631.4,163.3 631.5,163.4 631.7,162.7 631.8,163.3 632,162.5 632.1,163 632.3,161.7 632.4,161 632.6,163.2 632.7,164 632.9,162.7 633,162 633.2,161.5 633.3,162.1 633.5,161.6 633.6,162.2 633.8,162 633.9,163.5 634.1,162.4 634.2,162.5 634.4,162.8 634.5,162.9 634.7,162 634.8,162 635,157.5 635.1,162.7 635.3,162.5 635.4,161.9 635.6,162.9 635.7,162.4 635.9,162.4 636,162.2 636.2,162.2 636.3,162.8 636.5,162.9 636.6,163 636.8,162.8 636.9,162.8 637.1,162.8 637.2,161.9 637.4,162.1 637.5,163.3 637.7,162.6 637.8,161.7 638,161.8 638.1,163.2 638.3,163.1 638.4,163.1 638.6,162.9 638.7,162.5 638.9,162.9 639,162.2 639.2,161.6 639.3,162.7 639.5,162.8 639.6,162 639.8,163.3 639.9,162.9 640.1,160.8 640.2,161.9 640.4,161.4 640.5,162 640.7,163.8 640.8,162.7 641,163.3 641.1,163.3 641.3,162.8 641.4,162.3 641.6,163 641.7,162.2 641.9,162.2 642,160.9 642.2,162 642.3,163.2 642.5,162.4 642.6,162.9 642.8,162 642.9,162.6 643.1,163.1 643.2,161.9 643.4,162.8 643.5,163.2 643.7,163.1 643.8,162.6 644,162 644.1,163.1 644.3,161.7 644.4,161.9 644.6,162.8 644.7,162.1 644.9,162 645,162.7 645.2,162.3 645.3,163 645.5,162.2 645.6,162 645.8,162.4 645.9,162.8 646.1,162.9 646.2,162.3 646.4,162.2 646.5,160.7 646.7,162.2 646.8,162.8 647,161.9 647.1,163.3 647.3,162.4 647.4,162.6 647.6,163.1 647.7,161.5 647.9,163.5 648,162.6 648.2,161.9 648.3,162.4 648.5,162 648.6,162.7 648.8,162.7 648.9,162.1 649.1,163.1 649.2,161.9 649.4,162 649.5,161.8 649.7,162.8 649.8,162.2 650,162.9 650.1,162.5 650.3,163.1 650.4,162.9 650.6,162 650.7,163.7 650.9,165.7 651,163.2 651.2,163 651.3,162.3 651.5,161.9 651.6,162.5 651.8,162.6 651.9,161.6 652.1,163.5 652.2,161.2 652.4,163 652.5,161.6 652.7,162.4 652.8,163.2 653,162.4 653.1,162.4 653.3,162.5 653.4,161.6 653.6,160.7 653.7,163.9 653.9,163 654,163.4 654.2,163 654.3,163 654.5,162 654.6,162.5 654.8,162.1 654.9,162 655.1,163.4 655.2,163.5 655.4,162 655.5,162.7 655.7,163.2 655.8,162.3 656,162.7 656.1,163.4 656.3,162.5 656.4,161.6 656.6,162.7 656.7,163.7 656.9,163.1 657,162.9 657.2,161.4 657.3,162 657.5,162.7 657.6,163.3 657.8,162.5 657.9,162.6 658.1,162.3 658.2,162.8 658.4,162.4 658.5,162.5 658.7,161.4 658.8,163.3 659,162.5 659.1,163.1 659.3,162.4 659.4,161.4 659.6,164.2 659.7,162.4 659.9,165.2 660,159.4 660.2,162 660.3,161.6 660.5,162.7 660.6,160.7 660.8,160 660.9,157.8 661.1,162.2 661.2,161 661.4,157.6 661.5,163.6 661.7,162.5 661.8,162.7 662,161.3 662.1,163 662.3,162.1 662.4,161.9 662.6,160.8 662.7,158.5 662.9,163.4 663,161.1 663.2,159.4 663.3,156.8 663.5,163.3 663.6,158.3 663.8,156 663.9,164.2 664.1,162.5 664.2,157.6 664.4,154.4 664.5,160.5 664.7,149.2 664.8,163.3 665,160.5 665.1,160.2 665.3,161.5 665.4,142.3 665.6,153.6 665.7,159 665.9,163.9 666,170 666.2,164.7 666.3,162.1 666.5,157.6 666.6,155.9 666.8,163.2 666.9,163.6 667.1,155.1 667.2,164.6 667.4,161.9 667.5,155.3 667.7,164.1 667.8,163.9 668,161.4 668.1,160.9 668.3,162.1 668.4,158.3 668.6,161.5 668.7,159.7 668.9,160.9 669,161.4 669.2,160.1 669.3,160.2 669.5,160.4 669.6,159.7 669.8,160.3 669.9,161.4 670.1,159.5 670.2,159.3 670.4,161.1 670.5,159.5 670.7,160.1 670.8,161.2 671,160.2 671.1,160.3 671.3,158.4 671.4,160.7 671.6,160.4 671.7,161.8 671.9,161.4 672,160.6 672.2,159.7 672.3,160.2 672.5,159.8 672.6,160.5 672.8,161.3 672.9,160 673.1,160.4 673.2,160 673.4,161.5 673.5,161 673.7,160.2 673.8,160.3 674,160.8 674.1,160.1 674.3,160.3 674.4,159.1 674.6,161.4 674.7,160.3 674.9,160.3 675,160.7 675.2,160.5 675.3,160.7 675.5,159.6 675.6,160.1 675.8,160.5 675.9,160.7 676.1,160.2 676.2,160.3 676.4,161 676.5,160 676.7,160.3 676.8,160.6 677,161.3 677.1,160 677.3,160.4 677.4,159.8 677.6,160.6 677.7,161.4 677.9,160.9 678,161.1 678.2,160.6 678.3,160.2 678.5,161.8 678.6,159.8 678.8,160.2 678.9,160.8 679.1,160.3 679.2,160.3 679.4,160 679.5,160.9 679.7,161.1 679.8,160.4 680,160.7 680.1,160.9 680.3,160.4 680.4,160.5 680.6,161.1 680.7,160.2 680.9,159.7 681,159.8 681.2,160 681.3,159.8 681.5,160.7 681.6,160.2 681.8,160.6 681.9,160.6 682.1,161.2 682.2,160.9 682.4,160.8 682.5,160.1 682.7,160.3 682.8,161.8 683,160.2 683.1,160.2 683.3,161.1 683.4,159.9 683.6,160.8 683.7,160.5 683.9,160.5 684,161.1 684.2,160.7 684.3,159.8 684.5,160.5 684.6,160.4 684.8,160.6 684.9,161.1 685.1,160.3 685.2,159.7 685.4,160.1 685.5,161 685.7,160.5 685.8,161.6 686,160.9 686.1,159.7 686.3,159.5 686.4,160.3 686.6,160.1 686.7,160.2 686.9,159.5 687,161.4 687.2,160.5 687.3,159.2 687.5,160.6 687.6,160.9 687.8,160.1 687.9,160.1 688.1,160.7 688.2,160 688.4,159.3 688.5,159.7 688.7,160.2 688.8,160.2 689,161.2 689.1,160.2 689.3,160.6 689.4,159.3 689.6,159.6 689.7,160.4 689.9,160.7 690,160.6 690.2,159.6 690.3,160 690.5,160.2 690.6,160.6 690.8,160.7 690.9,160.4 691.1,160.7 691.2,159.7 691.4,160.6 691.5,161.1 691.7,161.1 691.8,160.4 692,160.2 692.1,160.6 692.3,160.4 692.4,160.5 692.6,160.9 692.7,160 692.9,160.3 693,160.4 693.2,161.6 693.3,160.7 693.5,161 693.6,161.5 693.8,160.3 693.9,160.2 694.1,161.2 694.2,161 694.4,159.3 694.5,160.9 694.7,162.1 694.8,161.3 695,161.5 695.1,159.9 695.3,162.6 695.4,159.7 695.6,161.1 695.7,160.7 695.9,161.8 696,161.1 696.2,162.4 696.3,159 696.5,159.5 696.6,161 696.8,161.4 696.9,159.2 697.1,162.3 697.2,159.3 697.4,161.6 697.5,162.6 697.7,162.8 697.8,161 698,161.3 698.1,161.7 698.3,161.8 698.4,161 698.6,161.6 698.7,162.4 698.9,161.2 699,161.7 699.2,161.4 699.3,162.3 699.5,161.8 699.6,162.3 699.8,161.8 699.9,161.8 700.1,161.9 700.2,161.8 700.4,161.6 700.5,161.6 700.7,162 700.8,161.6 701,161.6 701.1,161.4 701.3,161.6 701.4,162.7 701.6,161.7 701.7,161.6 701.9,162 702,162 702.2,161.9 702.3,162.1 702.5,162.3 702.6,161.9 702.8,161.6 702.9,162.1 703.1,161.6 703.2,162.2 703.4,161.7 703.5,161.9 703.7,162 703.8,162 704,162.1 704.1,162.1 704.3,162.4 704.4,161.8 704.6,162.4 704.7,162 704.9,162 705,163 705.2,162.8 705.3,161.2 705.5,162 705.6,161.6 705.8,161.5 705.9,161.7 706.1,162 706.2,160.8 706.4,162.8 706.5,162.5 706.7,161.8 706.8,161.8 707,161.9 707.1,162.3 707.3,162.7 707.4,162.5 707.6,162.2 707.7,161.8 707.9,161.9 708,162.1 708.2,161.7 708.3,162.1 708.5,161.7 708.6,162.5 708.8,161.4 708.9,160.7 709.1,161.1 709.2,162.5 709.4,162.5 709.5,162.3 709.7,162.1 709.8,162.1 710,161.7 710.1,162 710.3,162 710.4,161.4 710.6,162.6 710.7,161.9 710.9,161.2 711,161 711.2,161.5 711.3,161.3 711.5,160.9 711.6,162 711.8,161.9 711.9,161.9 712.1,161.4 712.2,161.3 712.4,161.8 712.5,161.3 712.7,162.2 712.8,161.9 713,162 713.1,162.3 713.3,162.4 713.4,161.1 713.6,161.5 713.7,161 713.9,161.9 714,162 714.2,162 714.3,161.6 714.5,162.4 714.6,162.3 714.8,162.4 714.9,162.4 715.1,162.1 715.2,161.8 715.4,161.9 715.5,161.3 715.7,162.1 715.8,161.5 716,161.4 716.1,162.2 716.3,162.1 716.4,161.8 716.6,162.5 716.7,162.4 716.9,162.3 717,161.5 717.2,162 717.3,163 717.5,162.7 717.6,162.9 717.8,161.7 717.9,161.2 718.1,162.4 718.2,162.2 718.4,162.5 718.5,161.7 718.7,161.6 718.8,161.9 719,161.1 719.1,162.8 719.3,163.8 719.4,162 719.6,163.1 719.7,162.9 719.9,161.1 720,161.2 720.2,161.5 720.3,160.4 720.5,163.4 720.6,162.8 720.8,162.3 720.9,162.5 721.1,163.6 721.2,160 721.4,161.2 721.5,162.8 721.7,164.3 721.8,160.5 722,162.8 722.1,161.2 722.3,161.3 722.4,161.3 722.6,161.3 722.7,164 722.9,162.3 723,161.8 723.2,163.3 723.3,161.7 723.5,161.8 723.6,162.9 723.8,167.4 723.9,162.5 724.1,162.4 724.2,162.1 724.4,162.7 724.5,162.3 724.7,162.5 724.8,161.9 725,162.1 725.1,162.1 725.3,162.6 725.4,162.4 725.6,161.2 725.7,161.6 725.9,161.8 726,161.8 726.2,162.1 726.3,163 726.5,161.2 726.6,161.5 726.8,162.3 726.9,163.4 727.1,162.6 727.2,161.8 727.4,161.1 727.5,161.2 727.7,161.9 727.8,161.4 728,160.8 728.1,160.5 728.3,162.1 728.4,162.9 728.6,162 728.7,162.1 728.9,161 729,161.9 729.2,162.3 729.3,161.8 729.5,162.4 729.6,162.1 729.8,161 729.9,162.7 730.1,162.3 730.2,162.7 730.4,162 730.5,162.5 730.7,161.9 730.8,162.1 731,162.6 731.1,161.9 731.3,162.8 731.4,162.3 731.6,162.3 731.7,161.6 731.9,161.8 732,163 732.2,162.4 732.3,162.6 732.5,162.2 732.6,162.2 732.8,163 732.9,162.1 733.1,162.1 733.2,161 733.4,162.6 733.5,162.2 733.7,162.3 733.8,161.3 734,163 734.1,161.9 734.3,161.6 734.4,162.5 734.6,163.6 734.7,162.7 734.9,162.9 735,163.3 735.2,163 735.3,162.5 735.5,162.7 735.6,161.5 735.8,162.4 735.9,162.6 736.1,161.6 736.2,160.7 736.4,162.2 736.5,161.5 736.7,162.1 736.8,162.2 737,162.7 737.1,161.9 737.3,162.5 737.4,162.9 737.6,162.9 737.7,162.2 737.9,162.6 738,161.6 738.2,162.1 738.3,162.6 738.5,162.1 738.6,162.1 738.8,162.7 738.9,162.4 739.1,162.4 739.2,162 739.4,161.8 739.5,161.9 739.7,163.4 739.8,162 740,162.2 740.1,161.9 740.3,161.1 740.4,162.2 740.6,162.4 740.7,162 740.9,162.2 741,162.3 741.2,162.3 741.3,162 741.5,162.9 741.6,161.9 741.8,162.4 741.9,162.5 742.1,161.4 742.2,162.5 742.4,162.3 742.5,162.3 742.7,162.6 742.8,162.2 743,163.7 743.1,162.4 743.3,162.4 743.4,163.1 743.6,161.9 743.7,162.6 743.9,163 744,162.1 744.2,163.4 744.3,161.4 744.5,162 744.6,163.1 744.8,163.3 744.9,162.8 745.1,162.4 745.2,162.7 745.4,161.9 745.5,161.7 745.7,161.8 745.8,162.7 746,162.3 746.1,162.4 746.3,161.9 746.4,162 746.6,162.5 746.7,161.9 746.9,162.9 747,161.4 747.2,162.8 747.3,162.9 747.5,162 747.6,162.2 747.8,162.3 747.9,162.4 748.1,162.3 748.2,162 748.4,162.4 748.5,162.4 748.7,162.4 748.8,162.5 749,161.9 749.1,162.1 749.3,161.8 749.4,163.2 749.6,162.6 749.7,161.2 749.9,162.7 750,163.4 750.2,162.3 750.3,163.2 750.5,162.7 750.6,162.9 750.8,162.2 750.9,162.5 751.1,163.1 751.2,163.1 751.4,163.1 751.5,162.8 751.7,162 751.8,162.9 752,161.5 752.1,162.4 752.3,162.4 752.4,162.1 752.6,162.2 752.7,162 752.9,162.3 753,161.9 753.2,162.6 753.3,162.7 753.5,162.5 753.6,163.1 753.8,163.3 753.9,161.8 754.1,161.4 754.2,162.7 754.4,162.8 754.5,162.6 754.7,162.6 754.8,161.1 755,162.1 755.1,162.3 755.3,162.1 755.4,162.6 755.6,162.2 755.7,162.4 755.9,163.1 756,162.7 756.2,163 756.3,163.2 756.5,162.7 756.6,162.1 756.8,162.5 756.9,162 757.1,162.6 757.2,162.7 757.4,162.7 757.5,163 757.7,162 757.8,162.9 758,163.2 758.1,163 758.3,163.3 758.4,162.4 758.6,162.5 758.7,162.8 758.9,162.4 759,162.4 759.2,163 759.3,162.3 759.5,162.3 759.6,162.4 759.8,163.1 759.9,162.5 760.1,161.4 760.2,161.7 760.4,161.7 760.5,163.1 760.7,163.4 760.8,163.2 761,161.9 761.1,162.6 761.3,161.3 761.4,160.9 761.6,162.1 761.7,162.8 761.9,162.3 762,160.9 762.2,161.2 762.3,161.9 762.5,160.6 762.6,161.5 762.8,160.7 762.9,160.6 763.1,162.7 763.2,162.3 763.4,163.5 763.5,160 763.7,162.3 763.8,161.1 764,163.5 764.1,164.3 764.3,161.2 764.4,160.5 764.6,157.8 764.7,161.1 764.9,160.5 765,161.6 765.2,161.1 765.3,162.8 765.5,160.8 765.6,161.5 765.8,158.9 765.9,160.8 766.1,160.2 766.2,160.3 766.4,161.7 766.5,157.7 766.7,161.4 766.8,161.8 767,159.9 767.1,157.5 767.3,159 767.4,161.5 767.6,160.6 767.7,159 767.9,158.3 768,161.7 768.2,159.5 768.3,161 768.5,155.6 768.6,162 768.8,160.1 768.9,161.7 769.1,161.4 769.2,159.4 769.4,158.9 769.5,161.9 769.7,152.3 769.8,159.6 770,161.7 770.1,163.1 770.3,159.5 770.4,159.8 770.6,159.2 770.7,160.1 770.9,160 771,160.7 771.2,160 771.3,160 771.5,158.8 771.6,157.1 771.8,159.6 771.9,160.3 772.1,160.5 772.2,160.3 772.4,157.7 772.5,163 772.7,158.6 772.8,160.2 773,158.1 773.1,162 773.3,161.8 773.4,161.3 773.6,158.2 773.7,161.3 773.9,159.3 774,160.3 774.2,160.5 774.3,160.7 774.5,159.6 774.6,159 774.8,161.4 774.9,160.3 775.1,160.3 775.2,161.5 775.4,161.7 775.5,163.5 775.7,158.5 775.8,160.1 776,159.8 776.1,160.4 776.3,159.8 776.4,159 776.6,159 776.7,157.7 776.9,160.6 777,162.6 777.2,159.2 777.3,160.5 777.5,162 777.6,159 777.8,156.6 777.9,156.8 778.1,158 778.2,159 778.4,159 778.5,158 778.7,160.7 778.8,161.7 779,147 779.1,160.9 779.3,159.6 779.4,157.7 779.6,160.3 779.7,158.7 779.9,159.5 780,160.7 780.2,160.4 780.3,157.4 780.5,159 780.6,161.9 780.8,161.4 780.9,155.8 781.1,160.6 781.2,161.1 781.4,160.6 781.5,159.5 781.7,162.9 781.8,159.5 782,160.5 782.1,161 782.3,162.3 782.4,158.5 782.6,161.5 782.7,158.6 782.9,157.7 783,162.4 783.2,160.7 783.3,157.7 783.5,159.2 783.6,160 783.8,157.9 783.9,162.1 784.1,159.4 784.2,159.2 784.4,159.6 784.5,158.9 784.7,161.7 784.8,158.8 785,156.9 785.1,160.5 785.3,158.3 785.4,159.6 785.6,158.4 785.7,161.4 785.9,159.8 786,157 786.2,158.7 786.3,162.1 786.5,159.6 786.6,159.9 786.8,157.8 786.9,160.9 787.1,160.9 787.2,161.4 787.4,160.7 787.5,160.5 787.7,161.1 787.8,160.2 788,160.2 788.1,160.7 788.3,161 788.4,161 788.6,160.6 788.7,161.4 788.9,161.1 789,161.2 789.2,161.1 789.3,160.8 789.5,160.9 789.6,161.1 789.8,160.5 789.9,160.5 790.1,161.9 790.2,161.9 790.4,162.3 790.5,160.8 790.7,160.2 790.8,161.8 791,160.8 791.1,160.7 791.3,162.6 791.4,160.7 791.6,161.3 791.7,161.8 791.9,162 792,160.6 792.2,160.7 792.3,161.4 792.5,161.7 792.6,161.5 792.8,161.5 792.9,161.8 793.1,162.2 793.2,161 793.4,159.8 793.5,161.9 793.7,161.1 793.8,161.9 794,160.7 794.1,161 794.3,161.4 794.4,161.2 794.6,161.8 794.7,160.9 794.9,161.6 795,161.2 795.2,162.6 795.3,161.1 795.5,161.2 795.6,160.5 795.8,161.2 795.9,161.8 796.1,161.7 796.2,161.2 796.4,162.4 796.5,161.3 796.7,161.3 796.8,160.8 797,161.7 797.1,161.8 797.3,161 797.4,161.8 797.6,162.1 797.7,161.2 797.9,160.9 798,160.9 798.2,162.6 798.3,160.9 798.5,162.2 798.6,161.9 798.8,160.4 798.9,161.4 799.1,161.9 799.2,161.1 799.4,160.5 799.5,161.5 799.7,161 799.8,161.8 800,161.3 800.1,159.5 800.3,160.9 800.4,160.9 800.6,162 800.7,161.2 800.9,161.1 801,160.6 801.2,161.6 801.3,162.2 801.5,161.6 801.6,161.7 801.8,161.3 801.9,161.4 802.1,161.8 802.2,161.4 802.4,162.3 802.5,161.6 802.7,162 802.8,161.6 803,161.9 803.1,162.2 803.3,162 803.4,161.3 803.6,161.1 803.7,160.8 803.9,161.4 804,160.9 804.2,161.2 804.3,162.4 804.5,161.6 804.6,161.6 804.8,161.8 804.9,162.8 805.1,161.5 805.2,161.7 805.4,160.8 805.5,161.7 805.7,162 805.8,161.9 806,161.7 806.1,161.4 806.3,161.4 806.4,160.7 806.6,161.1 806.7,161.5 806.9,162.1 807,161.8 807.2,161.8 807.3,161.8 807.5,162.7 807.6,160.9 807.8,162 807.9,161.8 808.1,161.7 808.2,161 808.4,161.6 808.5,161.8 808.7,161 808.8,162.1 809,161.2 809.1,160.6 809.3,161.5 809.4,162 809.6,161.8 809.7,161.2 809.9,162.3 810,161.4 810.2,161.7 810.3,160.6 810.5,160.4 810.6,161.4 810.8,163.2 810.9,160.2 811.1,160 811.2,161 811.4,161.9 811.5,161.4 811.7,161.9 811.8,161.2 812,162.3 812.1,159.9 812.3,161.7 812.4,163.8 812.6,161 812.7,160.7 812.9,161.8 813,160.8 813.2,162.2 813.3,161.7 813.5,162.1 813.6,160.9 813.8,160.8 813.9,162.9 814.1,159.7 814.2,161.4 814.4,161.2 814.5,161.7 814.7,162.3 814.8,161.1 815,161.9 815.1,160.7 815.3,161.4 815.4,161 815.6,162.2 815.7,162.2 815.9,161.7 816,161.4 816.2,162.3 816.3,161 816.5,161.8 816.6,161.3 816.8,161.8 816.9,162.1 817.1,161.3 817.2,159.7 817.4,161.4 817.5,162 817.7,161.2 817.8,161.9 818,162.3 818.1,161.8 818.3,162.3 818.4,162.1 818.6,161.4 818.7,162.2 818.9,161.6 819,161.2 819.2,161.8 819.3,161.8 819.5,162 819.6,161.9 819.8,162.1 819.9,161.1 820.1,161.6 820.2,161.3 820.4,160.8 820.5,160.7 820.7,161.5 820.8,161.3 821,161.7 821.1,161.2 821.3,161.4 821.4,161 821.6,162.1 821.7,161.9 821.9,163 822,161.2 822.2,161.9 822.3,161.5 822.5,161.6 822.6,160.8 822.8,161.4 822.9,161.6 823.1,161.1 823.2,161.6 823.4,161.2 823.5,161.8 823.7,161.7 823.8,161.4 824,161.7 824.1,161.4 824.3,162.1 824.4,162.3 824.6,162.5 824.7,161.2 824.9,160.9 825,161.8 825.2,161.8 825.3,161.8 825.5,162.3 825.6,161.9 825.8,162.2 825.9,161.5 826.1,161.9 826.2,162.1 826.4,161.5 826.5,161.8 826.7,161.8 826.8,161.7 827,161.4 827.1,161.8 827.3,161.8 827.4,162.1 827.6,162.3 827.7,161.7 827.9,161.8 828,161.1 828.2,161.8 828.3,158.2 828.5,162 828.6,162.4 828.8,161.9 828.9,162.3 829.1,161.3 829.2,161.4 829.4,161.8 829.5,161.4 829.7,161.8 829.8,161.1 830,162 830.1,162 830.3,161.8 830.4,161.5 830.6,162.4 830.7,161.2 830.9,162.1 831,161.4 831.2,162.3 831.3,162.2 831.5,161.6 831.6,161.3 831.8,162 831.9,162.2 832.1,160.9 832.2,161.8 832.4,161.7 832.5,162 832.7,161.4 832.8,161.4 833,161.5 833.1,161.7 833.3,161.5 833.4,162 833.6,162.8 833.7,160.9 833.9,162.4 834,162 834.2,163 834.3,161.6 834.5,162.4 834.6,161.9 834.8,161.9 834.9,162.6 835.1,161.3 835.2,161.7 835.4,162 835.5,160.9 835.7,161.5 835.8,162.3 836,162.4 836.1,161 836.3,162.2 836.4,161.8 836.6,161.7 836.7,162 836.9,161 837,161.9 837.2,162.1 837.3,160.7 837.5,161.2 837.6,161.3 837.8,161.2 837.9,161.9 838.1,161.2 838.2,160.9 838.4,160.9 838.5,161.8 838.7,161.3 838.8,162.2 839,160 839.1,164.2 839.3,162.8 839.4,161.3 839.6,161.3 839.7,162.5 839.9,161.7 840,161.5 840.2,160.7 840.3,160.2 840.5,162.1 840.6,161.8 840.8,162.6 840.9,160.9 841.1,161.8 841.2,160.2 841.4,162.1 841.5,162.8 841.7,162.7 841.8,163.6 842,161.1 842.1,162.2 842.3,162.6 842.4,162.2 842.6,160.9 842.7,162.3 842.9,161 843,161.6 843.2,160.1 843.3,162.5 843.5,161.8 843.6,161.7 843.8,162.4 843.9,161.9 844.1,161.5 844.2,161.5 844.4,162.4 844.5,161.7 844.7,161.6 844.8,162.1 845,161.8 845.1,162.2 845.3,162 845.4,162.7 845.6,162.7 845.7,162.6 845.9,161.2 846,161.9 846.2,162.3 846.3,162.8 846.5,162.5 846.6,162 846.8,162.5 846.9,160.7 847.1,162.8 847.2,161.9 847.4,162 847.5,162.7 847.7,162.4 847.8,161.8 848,161.4 848.1,160.2 848.3,161.6 848.4,161.8 848.6,165.5 848.7,162.1 848.9,161.7 849,162.8 849.2,161.7 849.3,162.8 849.5,162.1 849.6,162.6 849.8,162.3 849.9,162.5 850.1,161.4 850.2,161.5 850.4,162.3 850.5,162.7 850.7,161.6 850.8,161.2 851,162.1 851.1,161.8 851.3,161.9 851.4,160.8 851.6,162.4 851.7,161.3 851.9,161.7 852,161.5 852.2,161.8 852.3,163 852.5,161.9 852.6,162.4 852.8,161.9 852.9,161.7 853.1,162.9 853.2,161.5 853.4,162.4 853.5,161.8 853.7,162.6 853.8,162 854,161.7 854.1,162.1 854.3,161.8 854.4,161.5 854.6,162.3 854.7,162.8 854.9,163.5 855,162.2 855.2,162.1 855.3,162.5 855.5,163.1 855.6,161.6 855.8,162.2 855.9,162.5 856.1,162 856.2,162 856.4,162.1 856.5,161 856.7,162.4 856.8,162.2 857,162.4 857.1,162 857.3,161.6 857.4,162.5 857.6,161.8 857.7,163.4 857.9,162.7 858,162 858.2,162 858.3,161.8 858.5,161.4 858.6,160.3 858.8,162.9 858.9,162.2 859.1,161.1 859.2,161.9 859.4,161.7 859.5,162.4 859.7,161.7 859.8,162 860,161.2 860.1,162.4 860.3,162.4 860.4,162 860.6,162.1 860.7,161.6 860.9,162.6 861,161.9 861.2,162.1 861.3,159.8 861.5,162.6 861.6,161.5 861.8,162.1 861.9,161.6 862.1,161.8 862.2,161.7 862.4,162.2 862.5,161.2 862.7,162.7 862.8,162.8 863,162.1 863.1,162.3 863.3,161 863.4,161.7 863.6,162.1 863.7,161.8 863.9,162.1 864,162.3 864.2,163.1 864.3,161.9 864.5,161.9 864.6,162.6 864.8,161.8 864.9,161.9 865.1,162.7 865.2,162.1 865.4,161.8 865.5,161.4 865.7,161.7 865.8,161.4 866,163.3 866.1,162.6 866.3,161.9 866.4,162.4 866.6,162.4 866.7,162.6 866.9,161.9 867,161.9 867.2,162.5 867.3,161.2 867.5,161.9 867.6,161.9 867.8,162 867.9,162.3 868.1,163.1 868.2,162.5 868.4,162.4 868.5,163.2 868.7,162.3 868.8,163 869,162.8 869.1,161.6 869.3,162 869.4,162.2 869.6,162.4 869.7,162.2 869.9,163.1 870,160.9 870.2,162.5 870.3,162.1 870.5,162.9 870.6,161.8 870.8,162.5 870.9,161.8 871.1,162.1 871.2,161.7 871.4,162.3 871.5,161.3 871.7,163 871.8,162.7 872,160.8 872.1,163.7 872.3,161.8 872.4,162.6 872.6,162.7 872.7,162.4 872.9,162.5 873,162.7 873.2,163.1 873.3,162.7 873.5,163.8 873.6,163.1 873.8,162 873.9,161.7 874.1,162 874.2,160.8 874.4,162.3 874.5,164.1 874.7,162.5 874.8,166.3 875,161.8 875.1,163.7 875.3,157.7 875.4,159.5 875.6,163.4 875.7,161.2 875.9,162.5 876,160 876.2,155.5 876.3,159.8 876.5,163.7 876.6,160.2 876.8,154.3 876.9,164.2 877.1,164.6 877.2,152.9 877.4,166.8 877.5,155.9 877.7,169.5 877.8,162.1 878,160 878.1,168.6 878.3,162 878.4,156.2 878.6,158.2 878.7,157.1 878.9,162.9 879,157.3 879.2,162 879.3,160.5 879.5,162.3 879.6,160.2 879.8,161.3 879.9,162.6 880.1,162.1 880.2,162.4 880.4,162.8 880.5,162 880.7,159.9 880.8,161.4 881,163.8 881.1,159.7 881.3,160.1 881.4,160 881.6,160 881.7,160.3 881.9,160.3 882,158.9 882.2,160.2 882.3,160.6 882.5,160 882.6,159.1 882.8,160.2 882.9,159.1 883.1,159.6 883.2,160.5 883.4,159.9 883.5,157.6 883.7,158.5 883.8,158.5 884,159 884.1,158.9 884.3,156.8 884.4,161.3 884.6,160.4 884.7,156.5 884.9,154.9 885,160 885.2,159.3 885.3,155.6 885.5,158.2 885.6,157.6 885.8,155.1 885.9,159.2 886.1,156.7 886.2,155.7 886.4,157.3 886.5,158.3 886.7,151.1 886.8,152.4 887,157.5 887.1,155.7 887.3,162 887.4,156.2 887.6,157.8 887.7,159.3 887.9,160.3 888,156.8 888.2,160.6 888.3,153.8 888.5,160.9 888.6,159.6 888.8,158.2 888.9,159.4 889.1,157.2 889.2,158.9 889.4,160.7 889.5,160.5 889.7,158.5 889.8,158.9 890,160.7 890.1,159.8 890.3,159.7 890.4,160 890.6,159.4 890.7,159.3 890.9,159.1 891,160.5 891.2,158.4 891.3,162.1 891.5,158.9 891.6,157.8 891.8,158.4 891.9,158.5 892.1,159.1 892.2,159.8 892.4,159.8 892.5,158.7 892.7,160.3 892.8,159.4 893,160.3 893.1,162.1 893.3,158.7 893.4,159.3 893.6,159.1 893.7,159 893.9,159.7 894,159.8 894.2,160 894.3,158.6 894.5,159.7 894.6,158.6 894.8,160.3 894.9,159 895.1,159.5 895.2,160.3 895.4,159.2 895.5,159.8 895.7,159.5 895.8,160.4 896,159.4 896.1,159.5 896.3,160.1 896.4,160.6 896.6,159.9 896.7,159.8 896.9,159 897,159.9 897.2,160.3 897.3,160.7 897.5,160 897.6,159.9 897.8,160.7 897.9,160.6 898.1,160.3 898.2,159 898.4,160.3 898.5,160.4 898.7,159.6 898.8,160.1 899,159.6 899.1,160.1 899.3,159.6 899.4,161.4 899.6,160.8 899.7,164.1 899.9,161.2 900,161.2 900.2,159.1 900.3,160.1 900.5,160.7 900.6,160.3 900.8,160.6 900.9,160 901.1,160.5 901.2,160.7 901.4,160.7 901.5,160.4 901.7,160.3 901.8,159.9 902,160.1 902.1,160.8 902.3,160.3 902.4,160.4 902.6,161.3 902.7,161 902.9,160.7 903,160.5 903.2,160.1 903.3,160.8 903.5,160.5 903.6,161.9 903.8,159.8 903.9,161.4 904.1,160.8 904.2,160 904.4,160 904.5,160.4 904.7,160.4 904.8,161 905,161.5 905.1,161.4 905.3,160.5 905.4,161.9 905.6,159.7 905.7,160.4 905.9,162.7 906,161.9 906.2,160.3 906.3,160.8 906.5,161.9 906.6,162.5 906.8,159.6 906.9,160.7 907.1,162.1 907.2,164.3 907.4,161.6 907.5,141.1 907.7,158.9 907.8,162.1 908,162.5 908.1,174.5 908.3,161.5 908.4,163.7 908.6,161.1 908.7,159.8 908.9,159.6 909,162 909.2,160.8 909.3,162.7 909.5,166.8 909.6,163.7 909.8,165.5 909.9,163.4 910.1,162 910.2,162.3 910.4,164 910.5,160.8 910.7,163.6 910.8,161.1 911,162.5 911.1,162.1 911.3,162.5 911.4,161.8 911.6,162.3 911.7,162.3 911.9,161.7 912,162.6 912.2,162.5 912.3,162.3 912.5,163 912.6,163 912.8,162.5 912.9,162.7 913.1,162.1 913.2,162.7 913.4,163.1 913.5,162.2 913.7,162.7 913.8,163.6 914,163.7 914.1,162.1 914.3,161.6 914.4,163.5 914.6,162.8 914.7,163.7 914.9,162.3 915,162.6 915.2,162.7 915.3,162.7 915.5,162.5 915.6,163 915.8,163 915.9,162.5 916.1,162 916.2,162.7 916.4,162.8 916.5,162.2 916.7,162.5 916.8,162.7 917,163.2 917.1,161.9 917.3,162.2 917.4,162.9 917.6,161.3 917.7,162.5 917.9,161.7 918,163.1 918.2,163.2 918.3,163.6 918.5,162 918.6,161.9 918.8,163 918.9,162.7 919.1,162.2 919.2,162.5 919.4,161.4 919.5,162.6 919.7,162.1 919.8,162.5 920,163.6 920.1,162.8 920.3,163.4 920.4,163.5 920.6,161.6 920.7,162.8 920.9,161.9 921,162.3 921.2,161.7 921.3,162.4 921.5,162.1 921.6,161.9 921.8,164.3 921.9,163.7 922.1,161.6 922.2,162.8 922.4,163.5 922.5,162 922.7,163.6 922.8,162.9 923,162.8 923.1,161.9 923.3,163.2 923.4,162.9 923.6,162.2 923.7,162.2 923.9,163.2 924,162.6 924.2,162.3 924.3,162.8 924.5,162 924.6,162.2 924.8,162.9 924.9,162 925.1,163.5 925.2,162.3 925.4,162.5 925.5,162 925.7,162.2 925.8,163.8 926,163 926.1,162.1 926.3,162 926.4,163 926.6,163.1 926.7,162 926.9,162.6 927,162.8 927.2,162.8 927.3,163.2 927.5,161.9 927.6,162.6 927.8,163.2 927.9,162.1 928.1,162.2 928.2,161.8 928.4,162.3 928.5,162 928.7,162.8 928.8,162 929,162.4 929.1,163.1 929.3,161.7 929.4,163.5 929.6,163.6 929.7,162.4 929.9,163.6 930,163 930.2,162.9 930.3,163.3 930.5,163.3 930.6,161.8 930.8,162.4 930.9,159.8 931.1,163.2 931.2,162.6 931.4,161 931.5,162.2 931.7,162.2 931.8,162.9 932,162.9 932.1,162.6 932.3,163.8 932.4,161.9 932.6,160.8 932.7,162.8 932.9,160.2 933,162.7 933.2,164.1 933.3,161.1 933.5,162.9 933.6,162.5 933.8,162 933.9,164.6 934.1,162.3 934.2,161.2 934.4,164 934.5,162.3 934.7,162.4 934.8,163.5 935,163.2 935.1,161.1 935.3,162.3 935.4,163.1 935.6,162.7 935.7,165.2 935.9,162 936,162.3 936.2,162.6 936.3,164.1 936.5,163.1 936.6,161.8 936.8,159.6 936.9,162.2 937.1,163.3 937.2,161.9 937.4,165 937.5,163 937.7,161.4 937.8,161.3 938,163.1 938.1,162.1 938.3,162.6 938.4,161.2 938.6,162.8 938.7,161 938.9,162.3 939,163.6 939.2,163 939.3,160.9 939.5,162.7 939.6,161.9 939.8,161.7 939.9,163.2 940.1,160.9 940.2,162.9 940.4,161.3 940.5,162.3 940.7,163.7 940.8,162.5 941,161.6 941.1,162.3 941.3,164 941.4,160.8 941.6,164.6 941.7,163.1 941.9,162.1 942,162.7 942.2,163.3 942.3,161.2 942.5,162.3 942.6,162.2 942.8,163.7 942.9,164.3 943.1,163.5 943.2,162.4 943.4,162.5 943.5,159.2 943.7,162.6 943.8,162.8 944,162 944.1,160.7 944.3,163.8 944.4,160.8 944.6,162.7 944.7,160.9 944.9,161.8 945,161 945.2,161.8 945.3,162.6 945.5,163.4 945.6,161.9 945.8,161.3 945.9,161.7 946.1,161.9 946.2,161.4 946.4,163.5 946.5,161.9 946.7,163.4 946.8,162.9 947,162.7 947.1,162.5 947.3,163.8 947.4,161 947.6,163.6 947.7,162 947.9,163.3 948,162.4 948.2,162.7 948.3,163.3 948.5,161.9 948.6,161.8 948.8,163 948.9,162.5 949.1,162 949.2,162.4 949.4,162.8 949.5,161.4 949.7,163.3 949.8,161.6 950,162 950.1,163 950.3,163.6 950.4,162.4 950.6,163.1 950.7,162.2 950.9,161.7 951,163.8 951.2,162.1 951.3,162.4 951.5,163.1 951.6,162.1 951.8,162.6 951.9,162.3 952.1,163 952.2,161.7 952.4,162.3 952.5,162.9 952.7,161.7 952.8,163.1 953,161.6 953.1,162.9 953.3,161.8 953.4,162.4 953.6,161.5 953.7,163 953.9,161.9 954,162.5 954.2,162.4 954.3,162.4 954.5,163.7 954.6,162.9 954.8,162.8 954.9,162.8 955.1,162.2 955.2,162.7 955.4,161.9 955.5,162.6 955.7,163.3 955.8,162.7 956,163 956.1,162.8 956.3,162.5 956.4,162.6 956.6,163.3 956.7,162.6 956.9,162.8 957,162.2 957.2,162.4 957.3,163.3 957.5,163.1 957.6,162.9 957.8,162.2 957.9,162.2 958.1,163.1 958.2,162.8 958.4,162.7 958.5,162.3 958.7,163 958.8,162.1 959,161.5 959.1,163.1 959.3,162.4 959.4,162.8 959.6,163.1 959.7,162.1 959.9,161.6 960,162.8 960.2,162.3 960.3,162.5 960.5,162.8 960.6,162 960.8,162.2 960.9,163.2 961.1,163.2 961.2,161.8 961.4,162.3 961.5,162.8 961.7,162.8 961.8,162.5 962,163.3 962.1,162 962.3,163.4 962.4,162.7 962.6,162.8 962.7,162.4 962.9,162.6 963,162.3 963.2,162.3 963.3,163 963.5,161.8 963.6,162.3 963.8,162.6 963.9,163.2 964.1,163.8 964.2,163.3 964.4,162 964.5,162.5 964.7,162.8 964.8,162.2 965,162.3 965.1,161.4 965.3,163.4 965.4,162.4 965.6,162.1 965.7,162.4 965.9,162.8 966,162.8 966.2,161.8 966.3,162.7 966.5,162.4 966.6,161.9 966.8,162.8 966.9,162.5 967.1,162.9 967.2,162.5 967.4,163.4 967.5,162.6 967.7,162.2 967.8,163.7 968,161.9 968.1,162 968.3,163.5 968.4,162.4 968.6,162.3 968.7,162.6 968.9,162.4 969,162.5 969.2,162.7 969.3,162.6 969.5,162.7 969.6,162.2 969.8,162.4 969.9,161.6 970.1,163.5 970.2,163 970.4,162.2 970.5,162.7 970.7,162.6 970.8,162.6 971,162.5 971.1,162.4 971.3,163.8 971.4,162.9 971.6,163.2 971.7,161.8 971.9,163.1 972,161.9 972.2,162.6 972.3,161.6 972.5,162.2 972.6,162.2 972.8,163.8 972.9,163.3 973.1,162.8 973.2,162.4 973.4,162.5 973.5,162.8 973.7,163 973.8,161.8 974,163.4 974.1,162.2 974.3,162.2 974.4,162.5 974.6,163.6 974.7,162.8 974.9,163.3 975,162.4 975.2,162.7 975.3,162.7 975.5,162.8 975.6,162.3 975.8,162.4 975.9,161.6 976.1,161.9 976.2,161.8 976.4,162.5 976.5,163.3 976.7,161.7 976.8,163.4 977,162.6 977.1,162.7 977.3,162.4 977.4,162.4 977.6,162.3 977.7,162.7 977.9,162.9 978,163.6 978.2,161.8 978.3,162.7 978.5,162.6 978.6,163 978.8,163.5 978.9,162.5 979.1,162.8 979.2,162.2 979.4,161.6 979.5,161.6 979.7,162.8 979.8,161.7 980,161.6 980.1,162.3 980.3,161.8 980.4,162.3 980.6,160.6 980.7,163 980.9,162.3 981,162.7 981.2,163 981.3,162.8 981.5,162.2 981.6,162.9 981.8,161.5 981.9,163.6 982.1,162.5 982.2,162.7 982.4,161.4 982.5,162.4 982.7,163 982.8,162.5 983,161.3 983.1,162.4 983.3,162.8 983.4,162 983.6,161.9 983.7,162.8 983.9,163.2 984,162.3 984.2,162.7 984.3,162.1 984.5,162.1 984.6,162.8 984.8,162.2 984.9,162.3 985.1,163.3 985.2,162.4 985.4,162.5 985.5,162.4 985.7,162.6 985.8,161.9 986,162.8 986.1,161.9 986.3,162.7 986.4,162.9 986.6,162.6 986.7,162 986.9,163.3 987,162.3 987.2,162.5 987.3,162.6 987.5,162.7 987.6,161.7 987.8,162.6 987.9,162.6 988.1,163.4 988.2,162.1 988.4,162.8 988.5,162 988.7,162.8 988.8,162.3 989,163.1 989.1,162.5 989.3,163.4 989.4,162.5 989.6,162.2 989.7,162.8 989.9,161.6 990,161.5 990.2,162.6 990.3,162.3 990.5,162.1 990.6,162.9 990.8,162.9 990.9,162.7 991.1,162.9 991.2,162.1 991.4,162.2 991.5,162.4 991.7,162.7 991.8,161.7 992,162.5 992.1,162.4 992.3,161.3 992.4,162.5 992.6,162.7 992.7,162.6 992.9,162.3 993,162.8 993.2,163.1 993.3,163 993.5,163.3 993.6,162.3 993.8,162.4 993.9,162.4 994.1,161.9 994.2,163 994.4,163.3 994.5,162.5 994.7,162.8 994.8,163.3 995,162.7 995.1,162.9 995.3,162 995.4,163.3 995.6,163.6 995.7,163 995.9,162.8 996,162.6 996.2,163.1 996.3,162.3 996.5,162.6 996.6,162.4 996.8,163.1 996.9,162.6 997.1,162.7 997.2,162.3 997.4,163 997.5,162.5 997.7,162.4 997.8,163.4 998,162.1 998.1,163.2 998.3,161.4 998.4,162.3 998.6,161.9 998.7,162.9 998.9,162.8 999,163.3 999.2,162.8 999.3,162.8 999.5,163.1 999.6,162.1 999.8,162.3 999.9,162.3 1000.1,163.7 1000.2,163.4 1000.4,162.5 1000.5,162.4 1000.7,162.7 1000.8,163 1001,162.7 1001.1,162.2 1001.3,162.5 1001.4,163 1001.6,163.7 1001.7,162.7 1001.9,161.5 1002,162.7 1002.2,162.7 1002.3,162.6 1002.5,162.8 1002.6,163 1002.8,162.2 1002.9,163.5 1003.1,160.6 1003.2,162.8 1003.4,162.8 1003.5,162.5 1003.7,162.8 1003.8,162.1 1004,161.8 1004.1,161 1004.3,162.9 1004.4,162.9 1004.6,163.4 1004.7,163 1004.9,162.6 1005,162.9 1005.2,162.5 1005.3,162.4 1005.5,161.6 1005.6,163.6 1005.8,162.8 1005.9,162.1 1006.1,162.7 1006.2,164.2 1006.4,162.5 1006.5,162.5 1006.7,162.2 1006.8,162.8 1007,161.5 1007.1,162.4 1007.3,162.5 1007.4,163.2 1007.6,162.6 1007.7,162.3 1007.9,162.9 1008,162.6 1008.2,162.7 1008.3,162.5 1008.5,163.1 1008.6,162 1008.8,162.8 1008.9,163.3 1009.1,162.2 1009.2,161.7 1009.4,162.9 1009.5,162.2 1009.7,162.4 1009.8,163 1010,162.8 1010.1,161.6 1010.3,162.3 1010.4,162.6 1010.6,162.3 1010.7,162.4 1010.9,160.8 1011,162.5 1011.2,163.4 1011.3,162.6 1011.5,162.1 1011.6,162.6 1011.8,162 1011.9,162.2 1012.1,162.7 1012.2,163 1012.4,162.9 1012.5,163.3 1012.7,163.4 1012.8,162.2 1013,162.1 1013.1,162.5 1013.3,162.8 1013.4,162.4 1013.6,162.8 1013.7,162.4 1013.9,163.2 1014,163.1 1014.2,162 1014.3,163.9 1014.5,163.4 1014.6,162.3 1014.8,161.5 1014.9,162.6 1015.1,162.8 1015.2,161.7 1015.4,163 1015.5,162.7 1015.7,162.4 1015.8,162 1016,162.3 1016.1,163 1016.3,162.6 1016.4,162.7 1016.6,161.6 1016.7,163 1016.9,162.4 1017,162.4 1017.2,162.4 1017.3,162.6 1017.5,162 1017.6,163.2 1017.8,162.8" fill="none" stroke="#0000ff" stroke-width="0.9" stroke-linejoin="round" opacity="1"/>
<line x1="585.2" y1="7.3" x2="585.2" y2="211.8" stroke="#333" stroke-width="1.6"/>
<line x1="584.5" y1="211.1" x2="1017.9" y2="211.1" stroke="#333" stroke-width="1.6"/>
<line x1="580.2" y1="22.9" x2="585.2" y2="22.9" stroke="#1e1e1e" stroke-width="1.3"/>
<text transform="translate(578.3,27) scale(0.93,1)" font-size="16.3" text-anchor="end" font-style="normal" font-weight="normal">0.09</text>
<line x1="580.2" y1="69.9" x2="585.2" y2="69.9" stroke="#1e1e1e" stroke-width="1.3"/>
<text transform="translate(578.3,74) scale(0.93,1)" font-size="16.3" text-anchor="end" font-style="normal" font-weight="normal">0.06</text>
<line x1="580.2" y1="117" x2="585.2" y2="117" stroke="#1e1e1e" stroke-width="1.3"/>
<text transform="translate(578.3,121.1) scale(0.93,1)" font-size="16.3" text-anchor="end" font-style="normal" font-weight="normal">0.03</text>
<line x1="580.2" y1="164" x2="585.2" y2="164" stroke="#1e1e1e" stroke-width="1.3"/>
<text transform="translate(578.3,168.1) scale(0.93,1)" font-size="16.3" text-anchor="end" font-style="normal" font-weight="normal">0.00</text>
<line x1="580.2" y1="211" x2="585.2" y2="211" stroke="#1e1e1e" stroke-width="1.3"/>
<text transform="translate(578.3,215.1) scale(0.93,1)" font-size="16.3" text-anchor="end" font-style="normal" font-weight="normal">-0.03</text>
<line x1="582.2" y1="7.2" x2="585.2" y2="7.2" stroke="#1e1e1e" stroke-width="1.3"/>
<line x1="582.2" y1="46.4" x2="585.2" y2="46.4" stroke="#1e1e1e" stroke-width="1.3"/>
<line x1="582.2" y1="93.5" x2="585.2" y2="93.5" stroke="#1e1e1e" stroke-width="1.3"/>
<line x1="582.2" y1="140.5" x2="585.2" y2="140.5" stroke="#1e1e1e" stroke-width="1.3"/>
<line x1="582.2" y1="187.5" x2="585.2" y2="187.5" stroke="#1e1e1e" stroke-width="1.3"/>
<line x1="628.5" y1="211.1" x2="628.5" y2="216.1" stroke="#1e1e1e" stroke-width="1.3"/>
<text transform="translate(629.3,230.3) scale(0.93,1)" font-size="16.3" text-anchor="middle" font-style="normal" font-weight="normal">1650</text>
<line x1="700.6" y1="211.1" x2="700.6" y2="216.1" stroke="#1e1e1e" stroke-width="1.3"/>
<text transform="translate(701.4,230.3) scale(0.93,1)" font-size="16.3" text-anchor="middle" font-style="normal" font-weight="normal">1655</text>
<line x1="772.7" y1="211.1" x2="772.7" y2="216.1" stroke="#1e1e1e" stroke-width="1.3"/>
<text transform="translate(773.5,230.3) scale(0.93,1)" font-size="16.3" text-anchor="middle" font-style="normal" font-weight="normal">1660</text>
<line x1="844.8" y1="211.1" x2="844.8" y2="216.1" stroke="#1e1e1e" stroke-width="1.3"/>
<text transform="translate(845.6,230.3) scale(0.93,1)" font-size="16.3" text-anchor="middle" font-style="normal" font-weight="normal">1665</text>
<line x1="916.9" y1="211.1" x2="916.9" y2="216.1" stroke="#1e1e1e" stroke-width="1.3"/>
<text transform="translate(917.7,230.3) scale(0.93,1)" font-size="16.3" text-anchor="middle" font-style="normal" font-weight="normal">1670</text>
<line x1="989.1" y1="211.1" x2="989.1" y2="216.1" stroke="#1e1e1e" stroke-width="1.3"/>
<text transform="translate(989.9,230.3) scale(0.93,1)" font-size="16.3" text-anchor="middle" font-style="normal" font-weight="normal">1675</text>
<line x1="592.4" y1="211.1" x2="592.4" y2="214.1" stroke="#1e1e1e" stroke-width="1.3"/>
<line x1="664.5" y1="211.1" x2="664.5" y2="214.1" stroke="#1e1e1e" stroke-width="1.3"/>
<line x1="736.6" y1="211.1" x2="736.6" y2="214.1" stroke="#1e1e1e" stroke-width="1.3"/>
<line x1="808.8" y1="211.1" x2="808.8" y2="214.1" stroke="#1e1e1e" stroke-width="1.3"/>
<line x1="880.9" y1="211.1" x2="880.9" y2="214.1" stroke="#1e1e1e" stroke-width="1.3"/>
<line x1="953" y1="211.1" x2="953" y2="214.1" stroke="#1e1e1e" stroke-width="1.3"/>
<line x1="909" y1="50.6" x2="964.3" y2="50.6" stroke="#555" stroke-width="1.1"/>
<line x1="909" y1="80.8" x2="964.3" y2="80.8" stroke="#ff6060" stroke-width="1.1"/>
<line x1="909" y1="110.7" x2="964.3" y2="110.7" stroke="#6060ff" stroke-width="1.1"/>
<line x1="909" y1="140.9" x2="964.3" y2="140.9" stroke="#ff60ff" stroke-width="1.1"/>
<text x="967.2" y="57.8" font-size="18" font-style="italic">b<tspan font-size="13.5" dy="4.6">u</tspan></text>
<text x="967.2" y="88" font-size="18" font-style="italic">b<tspan font-size="13.5" dy="4.4">w</tspan></text>
<text x="967.2" y="117.5" font-size="18" font-style="italic">b<tspan font-size="13.5" dy="6">δ</tspan><tspan font-size="12" dy="2.4">rot</tspan></text>
<text x="967.2" y="150.6" font-size="18" font-style="italic">b<tspan font-size="13.5" dy="4.6">e</tspan></text>
<text x="787.6" y="258.6" font-size="20.6"><tspan font-style="italic">t</tspan>(s)</text>
<text x="762.2" y="298.6" font-size="26.5" >(<tspan font-weight="bold">f</tspan>)</text>
<polyline points="351.8,601.9 373.5,601.9 377.2,599.3 387.8,599.3 391.5,602 395.1,599.3 402.5,602 629.7,601.9 633.6,599.4 687.5,599.4 691.9,601.9 702.3,601.9 702.5,599.4 713.3,599.4 720.3,594 720.6,592 724.5,588.9 724.5,581.4 727.8,579.1 727.8,548 731.5,546 731.4,459 727.7,454 727.5,382.7 724.2,380.2 724.2,354.8 720.4,352 720.4,341.5 717,339.3 716.5,336.6 713.4,336.6 712.9,334.1 637.5,334.1 633.8,336.8 547.5,336.4 543.4,339.3 355.6,339.3 352.1,341.2 348,341.2 348,352 351.8,354.5 351.8,387.4 355.6,392.4 355.7,425.6 351.8,431.1 351.8,486.8 355.6,492.2 355.6,507.5 359,512.8 359,532.9 362.9,535.8 362.9,604.6 366,605 366,607.5" fill="none" stroke="#333" stroke-width="1.0" stroke-linejoin="round" opacity="1"/>
<line x1="312.2" y1="313.7" x2="312.2" y2="620.6" stroke="#333" stroke-width="1.6"/>
<line x1="311.4" y1="619.9" x2="745.6" y2="619.9" stroke="#333" stroke-width="1.6"/>
<line x1="306.7" y1="594.8" x2="312.2" y2="594.8" stroke="#1e1e1e" stroke-width="1.3"/>
<text transform="translate(303.5,600.2) scale(0.92,1)" font-size="17.8" text-anchor="end" font-style="normal" font-weight="normal">2</text>
<line x1="306.7" y1="543.7" x2="312.2" y2="543.7" stroke="#1e1e1e" stroke-width="1.3"/>
<text transform="translate(303.5,549.1) scale(0.92,1)" font-size="17.8" text-anchor="end" font-style="normal" font-weight="normal">4</text>
<line x1="306.7" y1="492.6" x2="312.2" y2="492.6" stroke="#1e1e1e" stroke-width="1.3"/>
<text transform="translate(303.5,498) scale(0.92,1)" font-size="17.8" text-anchor="end" font-style="normal" font-weight="normal">6</text>
<line x1="306.7" y1="441.5" x2="312.2" y2="441.5" stroke="#1e1e1e" stroke-width="1.3"/>
<text transform="translate(303.5,446.9) scale(0.92,1)" font-size="17.8" text-anchor="end" font-style="normal" font-weight="normal">8</text>
<line x1="306.7" y1="390.4" x2="312.2" y2="390.4" stroke="#1e1e1e" stroke-width="1.3"/>
<text transform="translate(303.5,395.8) scale(0.92,1)" font-size="17.8" text-anchor="end" font-style="normal" font-weight="normal">10</text>
<line x1="306.7" y1="339.3" x2="312.2" y2="339.3" stroke="#1e1e1e" stroke-width="1.3"/>
<text transform="translate(303.5,344.7) scale(0.92,1)" font-size="17.8" text-anchor="end" font-style="normal" font-weight="normal">12</text>
<line x1="309.2" y1="569.2" x2="312.2" y2="569.2" stroke="#1e1e1e" stroke-width="1.3"/>
<line x1="309.2" y1="518.1" x2="312.2" y2="518.1" stroke="#1e1e1e" stroke-width="1.3"/>
<line x1="309.2" y1="467.1" x2="312.2" y2="467.1" stroke="#1e1e1e" stroke-width="1.3"/>
<line x1="309.2" y1="416" x2="312.2" y2="416" stroke="#1e1e1e" stroke-width="1.3"/>
<line x1="309.2" y1="364.9" x2="312.2" y2="364.9" stroke="#1e1e1e" stroke-width="1.3"/>
<line x1="309.2" y1="313.8" x2="312.2" y2="313.8" stroke="#1e1e1e" stroke-width="1.3"/>
<line x1="312.2" y1="619.9" x2="312.2" y2="625.4" stroke="#1e1e1e" stroke-width="1.3"/>
<text transform="translate(312.6,642.9) scale(0.92,1)" font-size="17.8" text-anchor="middle" font-style="normal" font-weight="normal">-2</text>
<line x1="384.4" y1="619.9" x2="384.4" y2="625.4" stroke="#1e1e1e" stroke-width="1.3"/>
<text transform="translate(384.8,642.9) scale(0.92,1)" font-size="17.8" text-anchor="middle" font-style="normal" font-weight="normal">0</text>
<line x1="456.7" y1="619.9" x2="456.7" y2="625.4" stroke="#1e1e1e" stroke-width="1.3"/>
<text transform="translate(457.1,642.9) scale(0.92,1)" font-size="17.8" text-anchor="middle" font-style="normal" font-weight="normal">2</text>
<line x1="528.9" y1="619.9" x2="528.9" y2="625.4" stroke="#1e1e1e" stroke-width="1.3"/>
<text transform="translate(529.3,642.9) scale(0.92,1)" font-size="17.8" text-anchor="middle" font-style="normal" font-weight="normal">4</text>
<line x1="601.1" y1="619.9" x2="601.1" y2="625.4" stroke="#1e1e1e" stroke-width="1.3"/>
<text transform="translate(601.5,642.9) scale(0.92,1)" font-size="17.8" text-anchor="middle" font-style="normal" font-weight="normal">6</text>
<line x1="673.4" y1="619.9" x2="673.4" y2="625.4" stroke="#1e1e1e" stroke-width="1.3"/>
<text transform="translate(673.8,642.9) scale(0.92,1)" font-size="17.8" text-anchor="middle" font-style="normal" font-weight="normal">8</text>
<line x1="745.6" y1="619.9" x2="745.6" y2="625.4" stroke="#1e1e1e" stroke-width="1.3"/>
<text transform="translate(746,642.9) scale(0.92,1)" font-size="17.8" text-anchor="middle" font-style="normal" font-weight="normal">10</text>
<line x1="348.3" y1="619.9" x2="348.3" y2="622.9" stroke="#1e1e1e" stroke-width="1.3"/>
<line x1="420.6" y1="619.9" x2="420.6" y2="622.9" stroke="#1e1e1e" stroke-width="1.3"/>
<line x1="492.8" y1="619.9" x2="492.8" y2="622.9" stroke="#1e1e1e" stroke-width="1.3"/>
<line x1="565" y1="619.9" x2="565" y2="622.9" stroke="#1e1e1e" stroke-width="1.3"/>
<line x1="637.2" y1="619.9" x2="637.2" y2="622.9" stroke="#1e1e1e" stroke-width="1.3"/>
<line x1="709.5" y1="619.9" x2="709.5" y2="622.9" stroke="#1e1e1e" stroke-width="1.3"/>
<text x="507" y="677" font-size="23.2"><tspan font-style="italic">x</tspan>(m)</text>
<text transform="translate(283.2,497.2) rotate(-90)" x="0" y="0" font-size="20.2"><tspan font-style="italic">y</tspan>(m)</text>
<text x="493.4" y="714.8" font-size="26.5" >(<tspan font-weight="bold">g</tspan>)</text>
</svg>
</body></html>
